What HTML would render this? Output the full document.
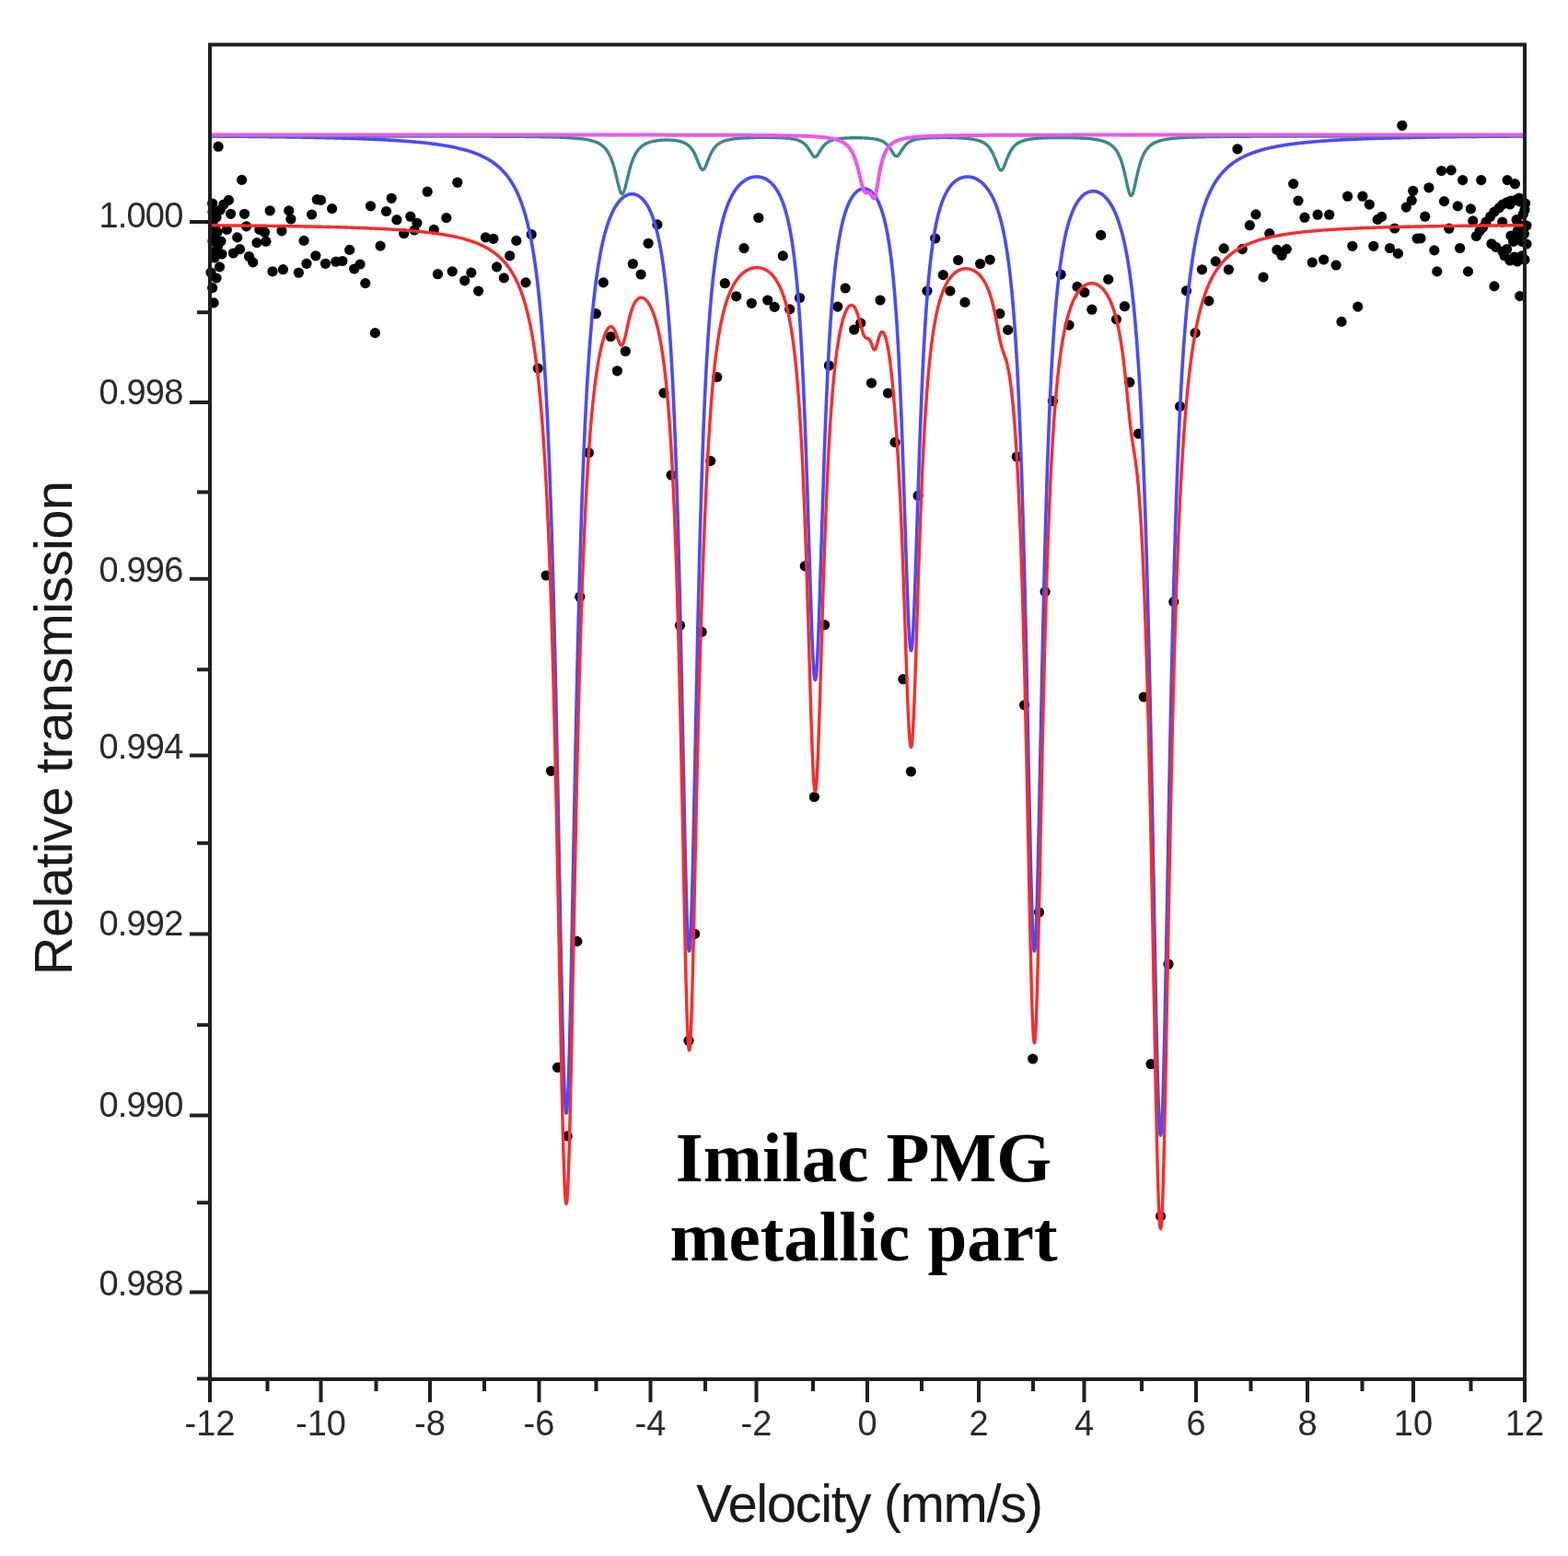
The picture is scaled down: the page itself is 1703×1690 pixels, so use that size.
<!DOCTYPE html>
<html><head><meta charset="utf-8"><title>Imilac PMG metallic part</title>
<style>html,body{margin:0;padding:0;background:#fff;width:1703px;height:1690px;overflow:hidden}svg{display:block}</style>
</head><body>
<svg width="1703" height="1690" viewBox="0 0 1703 1690"><rect width="1703" height="1690" fill="#fff"/><path d="M206,240.9 H228 M206,437.0 H228 M206,628.7 H228 M206,820.5 H228 M206,1014.5 H228 M206,1211.5 H228 M206,1403.5 H228 M214,339.2 H228 M214,534.6 H228 M214,727.3 H228 M214,915.7 H228 M214,1113.3 H228 M214,1306.2 H228 M214,1497.6 H228 M228,1498 V1523 M348.5,1498 V1523 M467,1498 V1523 M585.5,1498 V1523 M706.5,1498 V1523 M821.5,1498 V1523 M942,1498 V1523 M1063,1498 V1523 M1177.5,1498 V1523 M1299,1498 V1523 M1420,1498 V1523 M1535,1498 V1523 M1656,1498 V1523 M290.5,1498 V1511 M408.5,1498 V1511 M526,1498 V1511 M647.5,1498 V1511 M766,1498 V1511 M883,1498 V1511 M1001,1498 V1511 M1122,1498 V1511 M1240,1498 V1511 M1358.5,1498 V1511 M1479.5,1498 V1511 M1597.5,1498 V1511" stroke="#1e1e1e" stroke-width="4" fill="none"/><text x="198.5" y="247.3" text-anchor="end" style="font-family:&quot;Liberation Sans&quot;,Arial,sans-serif;font-size:38px;fill:#2a2a2a;letter-spacing:-0.8px">1.000</text><text x="198.5" y="439.2" text-anchor="end" style="font-family:&quot;Liberation Sans&quot;,Arial,sans-serif;font-size:38px;fill:#2a2a2a;letter-spacing:-0.8px">0.998</text><text x="198.5" y="631.5" text-anchor="end" style="font-family:&quot;Liberation Sans&quot;,Arial,sans-serif;font-size:38px;fill:#2a2a2a;letter-spacing:-0.8px">0.996</text><text x="198.5" y="824.4" text-anchor="end" style="font-family:&quot;Liberation Sans&quot;,Arial,sans-serif;font-size:38px;fill:#2a2a2a;letter-spacing:-0.8px">0.994</text><text x="198.5" y="1016.3" text-anchor="end" style="font-family:&quot;Liberation Sans&quot;,Arial,sans-serif;font-size:38px;fill:#2a2a2a;letter-spacing:-0.8px">0.992</text><text x="198.5" y="1213.2" text-anchor="end" style="font-family:&quot;Liberation Sans&quot;,Arial,sans-serif;font-size:38px;fill:#2a2a2a;letter-spacing:-0.8px">0.990</text><text x="198.5" y="1406.9" text-anchor="end" style="font-family:&quot;Liberation Sans&quot;,Arial,sans-serif;font-size:38px;fill:#2a2a2a;letter-spacing:-0.8px">0.988</text><text x="228.0" y="1559" text-anchor="middle" style="font-family:&quot;Liberation Sans&quot;,Arial,sans-serif;font-size:38px;fill:#2a2a2a">-12</text><text x="348.5" y="1559" text-anchor="middle" style="font-family:&quot;Liberation Sans&quot;,Arial,sans-serif;font-size:38px;fill:#2a2a2a">-10</text><text x="467.0" y="1559" text-anchor="middle" style="font-family:&quot;Liberation Sans&quot;,Arial,sans-serif;font-size:38px;fill:#2a2a2a">-8</text><text x="585.5" y="1559" text-anchor="middle" style="font-family:&quot;Liberation Sans&quot;,Arial,sans-serif;font-size:38px;fill:#2a2a2a">-6</text><text x="706.5" y="1559" text-anchor="middle" style="font-family:&quot;Liberation Sans&quot;,Arial,sans-serif;font-size:38px;fill:#2a2a2a">-4</text><text x="821.5" y="1559" text-anchor="middle" style="font-family:&quot;Liberation Sans&quot;,Arial,sans-serif;font-size:38px;fill:#2a2a2a">-2</text><text x="942.0" y="1559" text-anchor="middle" style="font-family:&quot;Liberation Sans&quot;,Arial,sans-serif;font-size:38px;fill:#2a2a2a">0</text><text x="1063.0" y="1559" text-anchor="middle" style="font-family:&quot;Liberation Sans&quot;,Arial,sans-serif;font-size:38px;fill:#2a2a2a">2</text><text x="1177.5" y="1559" text-anchor="middle" style="font-family:&quot;Liberation Sans&quot;,Arial,sans-serif;font-size:38px;fill:#2a2a2a">4</text><text x="1299.0" y="1559" text-anchor="middle" style="font-family:&quot;Liberation Sans&quot;,Arial,sans-serif;font-size:38px;fill:#2a2a2a">6</text><text x="1420.0" y="1559" text-anchor="middle" style="font-family:&quot;Liberation Sans&quot;,Arial,sans-serif;font-size:38px;fill:#2a2a2a">8</text><text x="1535.0" y="1559" text-anchor="middle" style="font-family:&quot;Liberation Sans&quot;,Arial,sans-serif;font-size:38px;fill:#2a2a2a">10</text><text x="1656.0" y="1559" text-anchor="middle" style="font-family:&quot;Liberation Sans&quot;,Arial,sans-serif;font-size:38px;fill:#2a2a2a">12</text><text x="944" y="1653" text-anchor="middle" style="font-family:&quot;Liberation Sans&quot;,Arial,sans-serif;font-size:58px;letter-spacing:-1.4px;fill:#1a1a1a">Velocity (mm/s)</text><text transform="translate(77.5,791) rotate(-90)" text-anchor="middle" style="font-family:&quot;Liberation Sans&quot;,Arial,sans-serif;font-size:58px;letter-spacing:-0.7px;fill:#1a1a1a">Relative transmission</text><g fill="#000"><circle cx="237.1" cy="159.2" r="5.6"/><circle cx="262.6" cy="195.4" r="5.6"/><circle cx="248.4" cy="217.4" r="5.6"/><circle cx="230.7" cy="221.0" r="5.6"/><circle cx="239.2" cy="228.0" r="5.6"/><circle cx="250.6" cy="232.3" r="5.6"/><circle cx="265.5" cy="232.3" r="5.6"/><circle cx="293.2" cy="228.8" r="5.6"/><circle cx="313.8" cy="228.8" r="5.6"/><circle cx="315.9" cy="238.0" r="5.6"/><circle cx="338.6" cy="233.0" r="5.6"/><circle cx="344.3" cy="216.7" r="5.6"/><circle cx="246.3" cy="249.4" r="5.6"/><circle cx="233.5" cy="248.0" r="5.6"/><circle cx="267.6" cy="245.8" r="5.6"/><circle cx="281.8" cy="249.4" r="5.6"/><circle cx="287.5" cy="252.2" r="5.6"/><circle cx="306.0" cy="250.8" r="5.6"/><circle cx="257.7" cy="257.9" r="5.6"/><circle cx="232.1" cy="257.9" r="5.6"/><circle cx="236.4" cy="267.8" r="5.6"/><circle cx="232.1" cy="273.5" r="5.6"/><circle cx="279.0" cy="263.6" r="5.6"/><circle cx="288.9" cy="262.2" r="5.6"/><circle cx="330.1" cy="261.4" r="5.6"/><circle cx="253.4" cy="275.0" r="5.6"/><circle cx="260.5" cy="270.7" r="5.6"/><circle cx="270.5" cy="278.5" r="5.6"/><circle cx="274.7" cy="284.9" r="5.6"/><circle cx="238.5" cy="289.9" r="5.6"/><circle cx="296.0" cy="294.8" r="5.6"/><circle cx="307.4" cy="292.7" r="5.6"/><circle cx="324.4" cy="296.2" r="5.6"/><circle cx="333.0" cy="286.3" r="5.6"/><circle cx="342.9" cy="277.8" r="5.6"/><circle cx="230.7" cy="312.6" r="5.6"/><circle cx="232.1" cy="328.9" r="5.6"/><circle cx="348.5" cy="217.4" r="5.6"/><circle cx="360.6" cy="226.6" r="5.6"/><circle cx="402.5" cy="223.8" r="5.6"/><circle cx="425.2" cy="215.3" r="5.6"/><circle cx="419.5" cy="229.5" r="5.6"/><circle cx="430.9" cy="238.7" r="5.6"/><circle cx="445.8" cy="235.2" r="5.6"/><circle cx="452.9" cy="242.3" r="5.6"/><circle cx="438.7" cy="253.6" r="5.6"/><circle cx="450.0" cy="250.0" r="5.6"/><circle cx="353.5" cy="286.3" r="5.6"/><circle cx="364.8" cy="284.2" r="5.6"/><circle cx="371.9" cy="283.5" r="5.6"/><circle cx="379.7" cy="271.4" r="5.6"/><circle cx="384.7" cy="292.0" r="5.6"/><circle cx="391.1" cy="287.0" r="5.6"/><circle cx="396.8" cy="307.6" r="5.6"/><circle cx="413.1" cy="267.1" r="5.6"/><circle cx="407.4" cy="361.6" r="5.6"/><circle cx="464.2" cy="208.2" r="5.6"/><circle cx="496.8" cy="198.2" r="5.6"/><circle cx="471.3" cy="249.4" r="5.6"/><circle cx="484.8" cy="236.6" r="5.6"/><circle cx="527.4" cy="257.9" r="5.6"/><circle cx="535.9" cy="259.3" r="5.6"/><circle cx="560.8" cy="261.4" r="5.6"/><circle cx="553.7" cy="277.8" r="5.6"/><circle cx="539.5" cy="289.9" r="5.6"/><circle cx="547.3" cy="301.9" r="5.6"/><circle cx="475.5" cy="297.7" r="5.6"/><circle cx="491.2" cy="294.8" r="5.6"/><circle cx="504.7" cy="304.8" r="5.6"/><circle cx="511.8" cy="296.2" r="5.6"/><circle cx="519.6" cy="316.1" r="5.6"/><circle cx="577.2" cy="254.6" r="5.6"/><circle cx="571.0" cy="306.9" r="5.6"/><circle cx="584.3" cy="400.1" r="5.6"/><circle cx="713.9" cy="243.9" r="5.6"/><circle cx="704.1" cy="264.3" r="5.6"/><circle cx="687.3" cy="286.5" r="5.6"/><circle cx="696.1" cy="298.0" r="5.6"/><circle cx="655.3" cy="306.9" r="5.6"/><circle cx="647.3" cy="340.7" r="5.6"/><circle cx="663.3" cy="365.5" r="5.6"/><circle cx="679.3" cy="381.5" r="5.6"/><circle cx="670.4" cy="402.8" r="5.6"/><circle cx="721.0" cy="426.8" r="5.6"/><circle cx="639.4" cy="491.7" r="5.6"/><circle cx="593.1" cy="625.0" r="5.6"/><circle cx="629.8" cy="648.2" r="5.6"/><circle cx="598.5" cy="837.3" r="5.6"/><circle cx="626.8" cy="1022.4" r="5.6"/><circle cx="605.6" cy="1159.4" r="5.6"/><circle cx="616.2" cy="1233.9" r="5.6"/><circle cx="778.8" cy="409.5" r="5.6"/><circle cx="729.1" cy="516.0" r="5.6"/><circle cx="771.7" cy="500.6" r="5.6"/><circle cx="738.5" cy="679.3" r="5.6"/><circle cx="762.2" cy="686.4" r="5.6"/><circle cx="754.6" cy="1014.3" r="5.6"/><circle cx="748.0" cy="1130.3" r="5.6"/><circle cx="823.8" cy="236.5" r="5.6"/><circle cx="808.0" cy="269.6" r="5.6"/><circle cx="850.3" cy="277.9" r="5.6"/><circle cx="787.3" cy="307.7" r="5.6"/><circle cx="799.7" cy="321.8" r="5.6"/><circle cx="816.3" cy="329.3" r="5.6"/><circle cx="833.7" cy="326.0" r="5.6"/><circle cx="841.2" cy="333.4" r="5.6"/><circle cx="868.5" cy="323.5" r="5.6"/><circle cx="857.7" cy="335.9" r="5.6"/><circle cx="918.1" cy="313.0" r="5.6"/><circle cx="909.8" cy="333.1" r="5.6"/><circle cx="956.0" cy="326.0" r="5.6"/><circle cx="934.7" cy="350.9" r="5.6"/><circle cx="927.6" cy="358.0" r="5.6"/><circle cx="900.4" cy="397.0" r="5.6"/><circle cx="946.5" cy="416.0" r="5.6"/><circle cx="964.5" cy="427.0" r="5.6"/><circle cx="874.3" cy="614.8" r="5.6"/><circle cx="895.6" cy="678.7" r="5.6"/><circle cx="884.4" cy="865.5" r="5.6"/><circle cx="972.1" cy="480.4" r="5.6"/><circle cx="997.1" cy="538.4" r="5.6"/><circle cx="1007.0" cy="316.0" r="5.6"/><circle cx="1024.4" cy="298.6" r="5.6"/><circle cx="1031.9" cy="316.0" r="5.6"/><circle cx="1040.6" cy="282.5" r="5.6"/><circle cx="1048.0" cy="328.4" r="5.6"/><circle cx="980.9" cy="737.7" r="5.6"/><circle cx="989.4" cy="838.0" r="5.6"/><circle cx="1015.7" cy="259.0" r="5.6"/><circle cx="1064.6" cy="286.5" r="5.6"/><circle cx="1075.2" cy="282.1" r="5.6"/><circle cx="1085.9" cy="340.7" r="5.6"/><circle cx="1094.7" cy="358.4" r="5.6"/><circle cx="1104.3" cy="496.0" r="5.6"/><circle cx="1143.4" cy="435.6" r="5.6"/><circle cx="1135.1" cy="642.7" r="5.6"/><circle cx="1112.6" cy="765.8" r="5.6"/><circle cx="1128.5" cy="990.8" r="5.6"/><circle cx="1121.7" cy="1150.0" r="5.6"/><circle cx="1195.7" cy="255.4" r="5.6"/><circle cx="1152.2" cy="298.1" r="5.6"/><circle cx="1203.7" cy="303.4" r="5.6"/><circle cx="1170.0" cy="311.4" r="5.6"/><circle cx="1177.9" cy="317.6" r="5.6"/><circle cx="1185.9" cy="336.2" r="5.6"/><circle cx="1221.4" cy="332.7" r="5.6"/><circle cx="1161.1" cy="353.1" r="5.6"/><circle cx="1212.5" cy="346.9" r="5.6"/><circle cx="1226.8" cy="415.2" r="5.6"/><circle cx="1236.5" cy="471.1" r="5.6"/><circle cx="1281.6" cy="441.4" r="5.6"/><circle cx="1274.8" cy="653.6" r="5.6"/><circle cx="1242.2" cy="757.0" r="5.6"/><circle cx="1250.0" cy="1155.7" r="5.6"/><circle cx="1260.6" cy="1320.9" r="5.6"/><circle cx="1269.0" cy="1047.3" r="5.6"/><circle cx="1344.0" cy="161.8" r="5.6"/><circle cx="1404.7" cy="199.6" r="5.6"/><circle cx="1364.0" cy="232.9" r="5.6"/><circle cx="1357.3" cy="244.7" r="5.6"/><circle cx="1378.8" cy="253.6" r="5.6"/><circle cx="1329.2" cy="269.9" r="5.6"/><circle cx="1349.2" cy="270.6" r="5.6"/><circle cx="1386.9" cy="271.4" r="5.6"/><circle cx="1397.3" cy="270.6" r="5.6"/><circle cx="1392.1" cy="277.3" r="5.6"/><circle cx="1320.3" cy="283.9" r="5.6"/><circle cx="1305.5" cy="292.8" r="5.6"/><circle cx="1334.4" cy="292.8" r="5.6"/><circle cx="1372.1" cy="301.0" r="5.6"/><circle cx="1288.5" cy="315.8" r="5.6"/><circle cx="1312.9" cy="326.9" r="5.6"/><circle cx="1298.1" cy="361.6" r="5.6"/><circle cx="1522.8" cy="136.3" r="5.6"/><circle cx="1410.0" cy="218.0" r="5.6"/><circle cx="1417.0" cy="236.2" r="5.6"/><circle cx="1431.1" cy="233.2" r="5.6"/><circle cx="1443.7" cy="233.2" r="5.6"/><circle cx="1463.6" cy="213.2" r="5.6"/><circle cx="1479.9" cy="213.2" r="5.6"/><circle cx="1487.3" cy="222.1" r="5.6"/><circle cx="1500.6" cy="235.4" r="5.6"/><circle cx="1496.2" cy="238.4" r="5.6"/><circle cx="1514.7" cy="248.0" r="5.6"/><circle cx="1534.7" cy="207.3" r="5.6"/><circle cx="1527.3" cy="225.1" r="5.6"/><circle cx="1533.2" cy="217.7" r="5.6"/><circle cx="1539.1" cy="259.1" r="5.6"/><circle cx="1425.2" cy="285.0" r="5.6"/><circle cx="1437.7" cy="282.0" r="5.6"/><circle cx="1451.1" cy="288.0" r="5.6"/><circle cx="1468.8" cy="267.3" r="5.6"/><circle cx="1491.8" cy="267.3" r="5.6"/><circle cx="1509.5" cy="269.5" r="5.6"/><circle cx="1518.4" cy="275.4" r="5.6"/><circle cx="1474.7" cy="333.1" r="5.6"/><circle cx="1457.0" cy="349.4" r="5.6"/><circle cx="1565.5" cy="185.5" r="5.6"/><circle cx="1576.1" cy="184.9" r="5.6"/><circle cx="1588.6" cy="195.6" r="5.6"/><circle cx="1608.7" cy="195.6" r="5.6"/><circle cx="1637.1" cy="195.6" r="5.6"/><circle cx="1645.4" cy="199.7" r="5.6"/><circle cx="1551.9" cy="203.8" r="5.6"/><circle cx="1568.5" cy="218.6" r="5.6"/><circle cx="1583.2" cy="223.9" r="5.6"/><circle cx="1597.4" cy="226.9" r="5.6"/><circle cx="1547.7" cy="235.2" r="5.6"/><circle cx="1573.8" cy="248.2" r="5.6"/><circle cx="1599.8" cy="239.9" r="5.6"/><circle cx="1603.4" cy="256.5" r="5.6"/><circle cx="1610.5" cy="247.0" r="5.6"/><circle cx="1618.7" cy="235.2" r="5.6"/><circle cx="1628.2" cy="225.7" r="5.6"/><circle cx="1636.5" cy="219.8" r="5.6"/><circle cx="1646.0" cy="217.4" r="5.6"/><circle cx="1656.6" cy="221.0" r="5.6"/><circle cx="1654.2" cy="232.8" r="5.6"/><circle cx="1647.1" cy="238.7" r="5.6"/><circle cx="1631.7" cy="241.1" r="5.6"/><circle cx="1648.3" cy="250.6" r="5.6"/><circle cx="1655.4" cy="254.1" r="5.6"/><circle cx="1643.6" cy="262.4" r="5.6"/><circle cx="1636.5" cy="270.7" r="5.6"/><circle cx="1653.0" cy="262.4" r="5.6"/><circle cx="1634.1" cy="277.8" r="5.6"/><circle cx="1644.8" cy="279.0" r="5.6"/><circle cx="1653.0" cy="277.8" r="5.6"/><circle cx="1619.9" cy="264.8" r="5.6"/><circle cx="1624.7" cy="268.3" r="5.6"/><circle cx="1543.0" cy="258.8" r="5.6"/><circle cx="1557.8" cy="271.9" r="5.6"/><circle cx="1585.6" cy="269.5" r="5.6"/><circle cx="1560.8" cy="294.9" r="5.6"/><circle cx="1594.5" cy="294.9" r="5.6"/><circle cx="1622.9" cy="310.9" r="5.6"/><circle cx="1650.7" cy="321.6" r="5.6"/><circle cx="1640.0" cy="222.0" r="5.6"/><circle cx="1650.0" cy="215.0" r="5.6"/><circle cx="1656.0" cy="228.0" r="5.6"/><circle cx="1652.0" cy="245.0" r="5.6"/><circle cx="1658.0" cy="245.0" r="5.6"/><circle cx="1641.0" cy="256.0" r="5.6"/><circle cx="1650.0" cy="258.0" r="5.6"/><circle cx="1658.0" cy="265.0" r="5.6"/><circle cx="1632.0" cy="273.0" r="5.6"/><circle cx="1640.0" cy="283.0" r="5.6"/><circle cx="1648.0" cy="284.0" r="5.6"/><circle cx="1656.0" cy="282.0" r="5.6"/><circle cx="1607.0" cy="251.0" r="5.6"/><circle cx="1614.0" cy="241.0" r="5.6"/><circle cx="1623.0" cy="230.0" r="5.6"/><circle cx="1632.0" cy="222.0" r="5.6"/><circle cx="1641.0" cy="218.0" r="5.6"/><circle cx="1651.0" cy="219.0" r="5.6"/><circle cx="231.0" cy="230.0" r="5.6"/><circle cx="235.0" cy="236.0" r="5.6"/><circle cx="243.0" cy="222.0" r="5.6"/><circle cx="231.0" cy="242.0" r="5.6"/><circle cx="236.0" cy="252.0" r="5.6"/><circle cx="231.0" cy="262.0" r="5.6"/><circle cx="240.0" cy="262.0" r="5.6"/><circle cx="233.0" cy="280.0" r="5.6"/><circle cx="241.0" cy="276.0" r="5.6"/><circle cx="229.0" cy="296.0" r="5.6"/><circle cx="235.0" cy="302.0" r="5.6"/></g><path d="M229.50,148.02 L230.50,148.02 L231.50,148.03 L232.50,148.04 L233.50,148.04 L234.50,148.05 L235.50,148.06 L236.50,148.06 L237.50,148.07 L238.50,148.08 L239.50,148.08 L240.50,148.09 L241.50,148.10 L242.50,148.11 L243.50,148.11 L244.50,148.12 L245.50,148.13 L246.50,148.14 L247.50,148.14 L248.50,148.15 L249.50,148.16 L250.50,148.17 L251.50,148.17 L252.50,148.18 L253.50,148.19 L254.50,148.20 L255.50,148.21 L256.50,148.22 L257.50,148.22 L258.50,148.23 L259.50,148.24 L260.50,148.25 L261.50,148.26 L262.50,148.27 L263.50,148.28 L264.50,148.29 L265.50,148.29 L266.50,148.30 L267.50,148.31 L268.50,148.32 L269.50,148.33 L270.50,148.34 L271.50,148.35 L272.50,148.36 L273.50,148.37 L274.50,148.38 L275.50,148.39 L276.50,148.40 L277.50,148.41 L278.50,148.42 L279.50,148.43 L280.50,148.44 L281.50,148.45 L282.50,148.46 L283.50,148.47 L284.50,148.48 L285.50,148.50 L286.50,148.51 L287.50,148.52 L288.50,148.53 L289.50,148.54 L290.50,148.55 L291.50,148.56 L292.50,148.58 L293.50,148.59 L294.50,148.60 L295.50,148.61 L296.50,148.62 L297.50,148.64 L298.50,148.65 L299.50,148.66 L300.50,148.67 L301.50,148.69 L302.50,148.70 L303.50,148.71 L304.50,148.73 L305.50,148.74 L306.50,148.75 L307.50,148.77 L308.50,148.78 L309.50,148.80 L310.50,148.81 L311.50,148.83 L312.50,148.84 L313.50,148.85 L314.50,148.87 L315.50,148.88 L316.50,148.90 L317.50,148.91 L318.50,148.93 L319.50,148.95 L320.50,148.96 L321.50,148.98 L322.50,148.99 L323.50,149.01 L324.50,149.03 L325.50,149.04 L326.50,149.06 L327.50,149.08 L328.50,149.09 L329.50,149.11 L330.50,149.13 L331.50,149.15 L332.50,149.17 L333.50,149.18 L334.50,149.20 L335.50,149.22 L336.50,149.24 L337.50,149.26 L338.50,149.28 L339.50,149.30 L340.50,149.32 L341.50,149.34 L342.50,149.36 L343.50,149.38 L344.50,149.40 L345.50,149.42 L346.50,149.44 L347.50,149.46 L348.50,149.48 L349.50,149.50 L350.50,149.53 L351.50,149.55 L352.50,149.57 L353.50,149.59 L354.50,149.62 L355.50,149.64 L356.50,149.66 L357.50,149.69 L358.50,149.71 L359.50,149.74 L360.50,149.76 L361.50,149.79 L362.50,149.81 L363.50,149.84 L364.50,149.86 L365.50,149.89 L366.50,149.92 L367.50,149.94 L368.50,149.97 L369.50,150.00 L370.50,150.03 L371.50,150.05 L372.50,150.08 L373.50,150.11 L374.50,150.14 L375.50,150.17 L376.50,150.20 L377.50,150.23 L378.50,150.26 L379.50,150.29 L380.50,150.32 L381.50,150.36 L382.50,150.39 L383.50,150.42 L384.50,150.46 L385.50,150.49 L386.50,150.52 L387.50,150.56 L388.50,150.59 L389.50,150.63 L390.50,150.66 L391.50,150.70 L392.50,150.74 L393.50,150.77 L394.50,150.81 L395.50,150.85 L396.50,150.89 L397.50,150.93 L398.50,150.97 L399.50,151.01 L400.50,151.05 L401.50,151.09 L402.50,151.13 L403.50,151.18 L404.50,151.22 L405.50,151.26 L406.50,151.31 L407.50,151.35 L408.50,151.40 L409.50,151.45 L410.50,151.49 L411.50,151.54 L412.50,151.59 L413.50,151.64 L414.50,151.69 L415.50,151.74 L416.50,151.79 L417.50,151.84 L418.50,151.90 L419.50,151.95 L420.50,152.00 L421.50,152.06 L422.50,152.12 L423.50,152.17 L424.50,152.23 L425.50,152.29 L426.50,152.35 L427.50,152.41 L428.50,152.47 L429.50,152.53 L430.50,152.60 L431.50,152.66 L432.50,152.73 L433.50,152.79 L434.50,152.86 L435.50,152.93 L436.50,153.00 L437.50,153.07 L438.50,153.14 L439.50,153.22 L440.50,153.29 L441.50,153.37 L442.50,153.44 L443.50,153.52 L444.50,153.60 L445.50,153.68 L446.50,153.76 L447.50,153.85 L448.50,153.93 L449.50,154.02 L450.50,154.11 L451.50,154.20 L452.50,154.29 L453.50,154.38 L454.50,154.48 L455.50,154.57 L456.50,154.67 L457.50,154.77 L458.50,154.87 L459.50,154.97 L460.50,155.08 L461.50,155.19 L462.50,155.30 L463.50,155.41 L464.50,155.52 L465.50,155.64 L466.50,155.75 L467.50,155.87 L468.50,156.00 L469.50,156.12 L470.50,156.25 L471.50,156.38 L472.50,156.51 L473.50,156.65 L474.50,156.78 L475.50,156.93 L476.50,157.07 L477.50,157.22 L478.50,157.37 L479.50,157.52 L480.50,157.67 L481.50,157.83 L482.50,158.00 L483.50,158.16 L484.50,158.33 L485.50,158.51 L486.50,158.68 L487.50,158.87 L488.50,159.05 L489.50,159.24 L490.50,159.44 L491.50,159.64 L492.50,159.84 L493.50,160.05 L494.50,160.26 L495.50,160.48 L496.50,160.70 L497.50,160.93 L498.50,161.17 L499.50,161.41 L500.50,161.65 L501.50,161.91 L502.50,162.16 L503.50,162.43 L504.50,162.70 L505.50,162.98 L506.50,163.27 L507.50,163.56 L508.50,163.87 L509.50,164.18 L510.50,164.50 L511.50,164.82 L512.50,165.16 L513.50,165.51 L514.50,165.86 L515.50,166.23 L516.50,166.61 L517.50,166.99 L518.50,167.39 L519.50,167.81 L520.50,168.23 L521.50,168.67 L522.50,169.12 L523.50,169.58 L524.50,170.06 L525.50,170.55 L526.50,171.06 L527.50,171.59 L528.50,172.14 L529.50,172.70 L530.50,173.28 L531.50,173.88 L532.50,174.50 L533.50,175.14 L534.50,175.81 L535.50,176.50 L536.50,177.22 L537.50,177.96 L538.50,178.73 L539.50,179.52 L540.50,180.35 L541.50,181.21 L542.50,182.10 L543.50,183.03 L544.50,184.00 L545.50,185.00 L546.50,186.05 L547.50,187.14 L548.50,188.28 L549.50,189.46 L550.50,190.70 L551.50,191.99 L552.50,193.34 L553.50,194.75 L554.50,196.23 L555.50,197.77 L556.50,199.39 L557.50,201.09 L558.50,202.87 L559.50,204.74 L560.50,206.71 L561.50,208.78 L562.50,210.95 L563.50,213.24 L564.50,215.66 L565.50,218.21 L566.50,220.91 L567.50,223.75 L568.50,226.77 L569.50,229.96 L570.50,233.35 L571.50,236.94 L572.50,240.77 L573.50,244.83 L574.50,249.16 L575.50,253.78 L576.50,258.71 L577.50,263.98 L578.50,269.62 L579.50,275.67 L580.50,282.16 L581.50,289.13 L582.50,296.64 L583.50,304.73 L584.50,313.46 L585.50,322.90 L586.50,333.12 L587.50,344.19 L588.50,356.22 L589.50,369.29 L590.50,383.52 L591.50,399.04 L592.50,415.97 L593.50,434.46 L594.50,454.69 L595.50,476.83 L596.50,501.05 L597.50,527.57 L598.50,556.58 L599.50,588.28 L600.50,622.85 L601.50,660.43 L602.50,701.12 L603.50,744.89 L604.50,791.62 L605.50,840.97 L606.50,892.37 L607.50,944.96 L608.50,997.49 L609.00,1023.26 L609.25,1035.92 L609.50,1048.39 L609.75,1060.65 L610.00,1072.64 L610.25,1084.36 L610.50,1095.75 L610.75,1106.78 L611.00,1117.42 L611.25,1127.64 L611.50,1137.40 L611.75,1146.66 L612.00,1155.39 L612.25,1163.57 L612.50,1171.15 L612.75,1178.11 L613.00,1184.42 L613.25,1190.06 L613.50,1194.99 L613.75,1199.21 L614.00,1202.69 L614.25,1205.42 L614.50,1207.39 L614.75,1208.58 L615.00,1209.00 L615.25,1208.63 L615.50,1207.49 L615.75,1205.58 L616.00,1202.90 L616.25,1199.47 L616.50,1195.31 L616.75,1190.42 L617.00,1184.84 L617.25,1178.58 L617.50,1171.68 L617.75,1164.15 L618.00,1156.03 L618.25,1147.34 L618.50,1138.13 L618.75,1128.43 L619.00,1118.27 L619.25,1107.68 L619.50,1096.69 L619.75,1085.36 L620.00,1073.70 L620.25,1061.75 L620.50,1049.55 L620.75,1037.13 L621.50,998.86 L622.50,946.54 L623.50,894.17 L624.50,842.99 L625.50,793.85 L626.50,747.34 L627.50,703.79 L628.50,663.33 L629.50,625.97 L630.50,591.62 L631.50,560.15 L632.50,531.37 L633.50,505.08 L634.50,481.09 L635.50,459.19 L636.50,439.20 L637.50,420.95 L638.50,404.26 L639.50,389.00 L640.50,375.02 L641.50,362.21 L642.50,350.45 L643.50,339.64 L644.50,329.69 L645.50,320.52 L646.50,312.07 L647.50,304.27 L648.50,297.05 L649.50,290.37 L650.50,284.19 L651.50,278.45 L652.50,273.12 L653.50,268.17 L654.50,263.58 L655.50,259.30 L656.50,255.31 L657.50,251.60 L658.50,248.14 L659.50,244.92 L660.50,241.92 L661.50,239.12 L662.50,236.51 L663.50,234.07 L664.50,231.81 L665.50,229.70 L666.50,227.73 L667.50,225.91 L668.50,224.21 L669.50,222.64 L669.70,222.34 L669.95,221.97 L670.20,221.61 L670.45,221.26 L670.50,221.19 L670.70,220.91 L670.95,220.57 L671.20,220.23 L671.45,219.91 L671.50,219.84 L671.70,219.59 L671.95,219.27 L672.20,218.97 L672.45,218.67 L672.50,218.61 L672.70,218.37 L672.95,218.09 L673.20,217.81 L673.45,217.53 L673.50,217.48 L673.70,217.26 L673.95,217.00 L674.20,216.74 L674.45,216.49 L674.50,216.44 L674.70,216.25 L674.95,216.01 L675.20,215.77 L675.45,215.55 L675.50,215.50 L675.70,215.33 L675.95,215.11 L676.20,214.90 L676.45,214.69 L676.50,214.65 L676.70,214.50 L676.95,214.30 L677.20,214.11 L677.45,213.93 L677.50,213.89 L677.70,213.75 L677.95,213.58 L678.20,213.41 L678.45,213.25 L678.50,213.22 L678.70,213.10 L678.95,212.95 L679.20,212.80 L679.45,212.66 L679.50,212.63 L679.70,212.52 L679.95,212.39 L680.20,212.27 L680.45,212.15 L680.50,212.12 L680.70,212.03 L680.95,211.92 L681.20,211.82 L681.45,211.72 L681.50,211.70 L682.50,211.35 L683.50,211.08 L684.50,210.89 L685.50,210.78 L686.50,210.74 L687.50,210.79 L688.50,210.91 L689.50,211.11 L690.50,211.40 L691.50,211.77 L692.50,212.22 L693.50,212.77 L694.50,213.40 L695.50,214.13 L696.50,214.96 L697.50,215.89 L698.50,216.92 L699.50,218.07 L700.50,219.34 L701.50,220.74 L702.50,222.27 L703.50,223.94 L704.50,225.77 L705.50,227.75 L706.50,229.91 L707.50,232.26 L708.50,234.82 L709.50,237.59 L710.50,240.60 L711.50,243.86 L712.50,247.41 L713.50,251.27 L714.50,255.46 L715.50,260.02 L716.50,264.98 L717.50,270.39 L718.50,276.29 L719.50,282.74 L720.50,289.79 L721.50,297.51 L722.50,305.98 L723.50,315.29 L724.50,325.52 L725.50,336.79 L726.50,349.23 L727.50,362.98 L728.50,378.18 L729.50,395.03 L730.50,413.71 L731.50,434.44 L732.50,457.45 L733.50,482.97 L734.50,511.26 L735.50,542.54 L736.50,577.01 L737.50,614.79 L738.50,655.89 L739.50,700.11 L740.50,747.00 L741.50,795.76 L742.50,845.13 L742.75,857.37 L743.00,869.51 L743.25,881.51 L743.50,893.34 L743.75,904.96 L744.00,916.33 L744.25,927.42 L744.50,938.17 L744.75,948.55 L745.00,958.51 L745.25,968.01 L745.50,977.02 L745.75,985.48 L746.00,993.36 L746.25,1000.62 L746.50,1007.23 L746.75,1013.14 L747.00,1018.33 L747.25,1022.77 L747.50,1026.43 L747.75,1029.29 L748.00,1031.35 L748.25,1032.58 L748.50,1032.98 L748.75,1032.54 L749.00,1031.27 L749.25,1029.18 L749.50,1026.28 L749.75,1022.58 L750.00,1018.11 L750.25,1012.88 L750.50,1006.93 L750.75,1000.29 L751.00,992.99 L751.25,985.08 L751.50,976.57 L751.75,967.53 L752.00,957.99 L752.25,947.99 L752.50,937.57 L752.75,926.79 L753.00,915.67 L753.25,904.26 L753.50,892.60 L753.75,880.73 L754.00,868.69 L754.25,856.51 L754.50,844.24 L755.50,794.72 L756.50,745.81 L757.30,707.98 L757.50,698.76 L757.55,696.48 L757.80,685.14 L758.05,673.99 L758.30,663.02 L758.50,654.39 L758.55,652.25 L758.80,641.67 L759.05,631.30 L759.30,621.13 L759.50,613.14 L759.55,611.17 L759.80,601.41 L760.05,591.87 L760.30,582.53 L760.50,575.21 L760.55,573.40 L760.80,564.48 L761.05,555.76 L761.30,547.25 L761.50,540.58 L761.55,538.94 L761.80,530.82 L762.05,522.91 L762.30,515.18 L762.50,509.14 L762.55,507.65 L762.80,500.30 L763.05,493.14 L763.30,486.16 L763.50,480.69 L763.55,479.35 L763.80,472.71 L764.05,466.24 L764.30,459.93 L764.50,455.01 L764.55,453.79 L764.80,447.80 L765.05,441.97 L765.30,436.28 L765.50,431.84 L765.55,430.74 L765.80,425.34 L766.05,420.08 L766.30,414.95 L766.50,410.94 L766.55,409.95 L766.80,405.08 L767.05,400.33 L767.30,395.71 L767.50,392.09 L767.55,391.20 L767.80,386.80 L768.05,382.52 L768.30,378.34 L768.50,375.07 L768.55,374.27 L768.80,370.30 L769.05,366.42 L769.50,359.69 L770.50,345.77 L771.50,333.15 L772.50,321.70 L773.50,311.28 L774.50,301.79 L775.50,293.13 L776.50,285.21 L777.50,277.96 L778.50,271.31 L779.50,265.19 L780.50,259.57 L781.50,254.39 L782.50,249.61 L783.50,245.19 L784.50,241.10 L785.50,237.31 L786.50,233.79 L787.50,230.53 L788.50,227.50 L789.50,224.68 L790.50,222.05 L791.50,219.61 L792.50,217.33 L793.50,215.21 L794.50,213.22 L795.50,211.37 L796.50,209.65 L797.50,208.04 L798.50,206.54 L799.50,205.13 L800.50,203.83 L801.50,202.61 L802.50,201.48 L803.50,200.43 L804.50,199.45 L805.50,198.54 L806.50,197.71 L807.50,196.94 L808.50,196.23 L809.50,195.58 L810.50,194.99 L811.50,194.46 L812.50,193.98 L813.50,193.55 L814.50,193.17 L815.50,192.85 L816.50,192.57 L817.50,192.35 L818.50,192.17 L819.50,192.04 L820.50,191.96 L821.50,191.92 L822.50,191.94 L823.50,192.00 L824.50,192.11 L825.50,192.27 L826.50,192.48 L827.50,192.75 L828.50,193.07 L829.50,193.44 L830.50,193.87 L831.50,194.36 L832.50,194.91 L833.50,195.52 L834.50,196.20 L835.50,196.95 L836.50,197.78 L837.50,198.69 L838.50,199.68 L839.50,200.76 L840.50,201.93 L841.50,203.21 L842.50,204.59 L843.50,206.09 L844.50,207.72 L845.50,209.48 L846.50,211.39 L847.50,213.46 L848.50,215.71 L849.50,218.14 L850.50,220.78 L851.50,223.64 L852.50,226.76 L853.50,230.15 L854.50,233.83 L855.50,237.85 L856.50,242.24 L857.50,247.04 L858.50,252.28 L859.50,258.04 L860.50,264.35 L861.50,271.29 L862.50,278.93 L863.50,287.36 L864.50,296.66 L865.50,306.95 L866.50,318.34 L867.50,330.96 L868.50,344.96 L869.50,360.48 L870.50,377.68 L871.50,396.73 L872.50,417.76 L873.50,440.89 L874.50,466.21 L875.50,493.67 L876.50,523.15 L877.50,554.30 L878.50,586.56 L879.20,609.34 L879.37,614.85 L879.45,617.43 L879.50,619.04 L879.62,622.91 L879.70,625.47 L879.87,630.89 L879.95,633.43 L880.12,638.79 L880.20,641.29 L880.37,646.57 L880.45,649.03 L880.50,650.57 L880.62,654.21 L880.70,656.63 L880.87,661.69 L880.95,664.04 L881.12,668.98 L881.20,671.26 L881.37,676.04 L881.45,678.25 L881.50,679.62 L881.62,682.86 L881.70,684.99 L881.87,689.41 L881.95,691.44 L882.12,695.66 L882.20,697.59 L882.37,701.57 L882.45,703.39 L882.50,704.51 L882.62,707.13 L882.70,708.83 L882.87,712.31 L882.95,713.88 L883.12,717.08 L883.20,718.52 L883.37,721.42 L883.45,722.72 L883.50,723.50 L883.62,725.31 L883.70,726.46 L883.87,728.73 L883.95,729.72 L884.12,731.65 L884.20,732.48 L884.37,734.07 L884.45,734.73 L884.50,735.12 L884.62,735.96 L884.70,736.46 L884.87,737.32 L884.95,737.65 L885.12,738.15 L885.20,738.30 L885.37,738.43 L885.45,738.41 L885.50,738.36 L885.62,738.17 L885.70,737.97 L885.87,737.36 L885.95,736.99 L886.12,736.01 L886.20,735.47 L886.37,734.14 L886.45,733.43 L886.50,732.96 L886.62,731.74 L886.70,730.87 L886.87,728.84 L886.95,727.80 L887.12,725.44 L887.20,724.25 L887.37,721.57 L887.45,720.23 L887.50,719.38 L887.62,717.25 L887.70,715.77 L887.87,712.49 L887.95,710.88 L888.12,707.33 L888.20,705.60 L888.37,701.79 L888.45,699.94 L888.50,698.76 L888.62,695.89 L888.70,693.93 L888.87,689.66 L888.95,687.60 L889.12,683.13 L889.20,680.99 L889.37,676.33 L889.45,674.10 L889.50,672.70 L889.62,669.28 L889.70,666.98 L889.87,662.02 L889.95,659.65 L890.12,654.56 L890.20,652.14 L890.37,646.94 L890.45,644.47 L890.50,642.91 L890.62,639.17 L890.70,636.66 L890.87,631.29 L890.95,628.75 L891.12,623.32 L891.50,611.08 L892.50,578.63 L893.50,546.67 L894.50,515.98 L895.50,487.08 L896.50,460.25 L897.50,435.59 L898.50,413.09 L899.50,392.68 L900.50,374.21 L901.50,357.55 L902.50,342.54 L903.50,329.01 L904.50,316.82 L905.50,305.83 L906.50,295.92 L907.50,286.96 L908.50,278.86 L909.50,271.53 L910.50,264.89 L911.50,258.85 L912.50,253.37 L913.50,248.39 L914.50,243.85 L915.50,239.72 L916.50,235.95 L917.50,232.51 L918.50,229.38 L919.50,226.52 L920.50,223.91 L921.50,221.53 L922.50,219.37 L923.50,217.40 L924.50,215.62 L925.50,214.00 L926.50,212.55 L927.50,211.24 L928.50,210.07 L929.50,209.04 L930.50,208.13 L931.50,207.34 L932.50,206.67 L932.70,206.55 L932.95,206.41 L933.20,206.27 L933.45,206.14 L933.50,206.11 L933.70,206.01 L933.95,205.90 L934.20,205.79 L934.45,205.68 L934.50,205.66 L934.70,205.58 L934.95,205.49 L935.20,205.41 L935.45,205.33 L935.50,205.32 L935.70,205.26 L935.95,205.20 L936.20,205.14 L936.45,205.09 L936.50,205.08 L936.70,205.04 L936.95,205.00 L937.20,204.97 L937.45,204.94 L937.50,204.94 L937.70,204.92 L937.95,204.91 L938.20,204.90 L938.45,204.90 L938.50,204.90 L938.70,204.91 L938.95,204.92 L939.20,204.94 L939.45,204.96 L939.50,204.97 L939.70,205.00 L939.95,205.03 L940.20,205.08 L940.45,205.13 L940.50,205.14 L940.70,205.19 L940.95,205.25 L941.20,205.32 L941.45,205.40 L941.50,205.41 L941.70,205.48 L941.95,205.57 L942.20,205.67 L942.45,205.77 L942.50,205.79 L942.70,205.88 L942.95,206.00 L943.20,206.12 L943.45,206.26 L943.50,206.28 L943.70,206.39 L943.95,206.54 L944.05,206.60 L944.20,206.69 L944.30,206.75 L944.45,206.85 L944.50,206.88 L944.55,206.92 L944.80,207.09 L945.05,207.26 L945.30,207.45 L945.50,207.60 L945.55,207.64 L945.80,207.84 L946.05,208.05 L946.30,208.26 L946.50,208.44 L946.55,208.49 L946.80,208.72 L947.05,208.96 L947.30,209.20 L947.50,209.41 L947.55,209.46 L947.80,209.72 L948.05,209.99 L948.30,210.27 L948.50,210.50 L948.55,210.56 L948.80,210.86 L949.05,211.17 L949.30,211.48 L949.50,211.74 L949.55,211.81 L949.80,212.15 L950.05,212.49 L950.30,212.84 L950.50,213.13 L950.55,213.21 L950.80,213.58 L951.05,213.97 L951.30,214.36 L951.50,214.69 L951.55,214.77 L951.80,215.18 L952.05,215.61 L952.30,216.05 L952.50,216.41 L952.55,216.50 L952.80,216.96 L953.05,217.43 L953.30,217.92 L953.50,218.32 L953.55,218.42 L953.80,218.93 L954.05,219.45 L954.30,219.98 L954.50,220.42 L954.55,220.53 L954.80,221.10 L955.05,221.67 L955.30,222.26 L955.50,222.75 L955.55,222.87 L955.80,223.49 L956.50,225.31 L957.50,228.13 L958.50,231.23 L959.50,234.64 L960.50,238.39 L961.50,242.52 L962.50,247.07 L963.50,252.09 L964.50,257.62 L965.50,263.73 L966.50,270.49 L967.50,277.98 L967.70,279.57 L967.95,281.60 L968.20,283.69 L968.45,285.83 L968.50,286.27 L968.70,288.04 L968.95,290.29 L969.20,292.61 L969.45,294.99 L969.50,295.48 L969.70,297.44 L969.95,299.95 L970.20,302.52 L970.45,305.17 L970.50,305.70 L970.70,307.88 L970.95,310.67 L971.20,313.54 L971.45,316.48 L971.50,317.08 L971.70,319.50 L971.95,322.61 L972.20,325.79 L972.45,329.07 L972.50,329.73 L972.70,332.43 L972.95,335.89 L973.20,339.43 L973.45,343.08 L973.50,343.82 L973.70,346.82 L973.95,350.67 L974.20,354.61 L974.45,358.67 L974.50,359.49 L974.70,362.83 L974.95,367.11 L975.20,371.49 L975.45,376.00 L975.50,376.91 L975.70,380.62 L975.95,385.36 L976.20,390.23 L976.45,395.22 L976.50,396.24 L976.70,400.34 L976.95,405.59 L977.20,410.97 L977.45,416.48 L977.50,417.60 L977.70,422.12 L977.95,427.90 L978.20,433.82 L978.45,439.87 L978.50,441.09 L978.70,446.05 L978.95,452.37 L979.20,458.82 L979.45,465.41 L979.50,466.74 L980.50,494.45 L981.50,523.96 L982.50,554.77 L983.50,586.10 L983.75,593.89 L984.00,601.63 L984.25,609.28 L984.50,616.84 L984.75,624.26 L985.00,631.54 L985.25,638.63 L985.50,645.53 L985.75,652.19 L986.00,658.58 L986.25,664.69 L986.50,670.49 L986.75,675.93 L987.00,681.01 L987.25,685.69 L987.50,689.95 L987.75,693.77 L988.00,697.12 L988.25,699.99 L988.50,702.36 L988.75,704.21 L989.00,705.54 L989.25,706.33 L989.50,706.59 L989.75,706.31 L990.00,705.50 L990.25,704.15 L990.50,702.27 L990.75,699.88 L991.00,696.99 L991.25,693.62 L991.50,689.78 L991.75,685.50 L992.00,680.80 L992.25,675.70 L992.50,670.23 L992.75,664.42 L993.00,658.29 L993.25,651.87 L993.50,645.19 L993.75,638.27 L994.00,631.15 L994.25,623.86 L994.50,616.41 L994.75,608.83 L995.00,601.16 L995.25,593.40 L995.50,585.59 L996.50,554.17 L997.50,523.27 L998.50,493.67 L999.50,465.87 L1000.50,440.13 L1001.50,416.53 L1002.50,395.07 L1003.50,375.65 L1004.50,358.13 L1005.50,342.35 L1006.50,328.16 L1007.50,315.39 L1008.50,303.90 L1009.50,293.55 L1010.50,284.22 L1011.50,275.80 L1012.50,268.19 L1013.50,261.29 L1014.50,255.04 L1015.50,249.36 L1016.50,244.19 L1017.50,239.48 L1018.50,235.18 L1019.50,231.25 L1020.50,227.66 L1021.50,224.37 L1022.50,221.35 L1023.50,218.58 L1024.50,216.04 L1025.50,213.70 L1026.50,211.55 L1027.50,209.57 L1028.50,207.75 L1029.50,206.07 L1030.50,204.53 L1031.50,203.12 L1032.50,201.82 L1033.50,200.62 L1034.50,199.53 L1035.50,198.53 L1036.50,197.62 L1037.50,196.79 L1038.50,196.04 L1039.50,195.37 L1040.50,194.76 L1041.50,194.22 L1042.50,193.75 L1043.50,193.33 L1044.50,192.98 L1045.50,192.68 L1046.50,192.44 L1047.50,192.25 L1048.50,192.11 L1049.50,192.03 L1050.50,191.99 L1051.50,192.01 L1052.50,192.07 L1053.50,192.19 L1054.50,192.35 L1055.50,192.57 L1056.50,192.83 L1057.50,193.15 L1058.50,193.52 L1059.50,193.94 L1060.50,194.41 L1061.50,194.94 L1062.50,195.53 L1063.50,196.17 L1064.50,196.88 L1065.50,197.65 L1066.50,198.49 L1067.50,199.40 L1068.50,200.38 L1069.50,201.43 L1070.50,202.57 L1071.50,203.79 L1072.50,205.10 L1073.50,206.51 L1074.50,208.02 L1075.50,209.64 L1076.50,211.38 L1077.50,213.24 L1078.50,215.24 L1079.50,217.38 L1080.50,219.67 L1081.30,221.63 L1081.50,222.14 L1081.55,222.26 L1081.80,222.91 L1082.05,223.57 L1082.30,224.24 L1082.50,224.78 L1082.55,224.92 L1082.80,225.61 L1083.05,226.32 L1083.30,227.04 L1083.50,227.62 L1083.55,227.77 L1083.80,228.52 L1084.05,229.28 L1084.30,230.05 L1084.50,230.68 L1084.55,230.84 L1084.80,231.64 L1085.05,232.46 L1085.30,233.29 L1085.50,233.97 L1085.55,234.14 L1085.80,235.00 L1086.05,235.88 L1086.30,236.78 L1086.50,237.51 L1086.55,237.70 L1086.80,238.63 L1087.05,239.58 L1087.30,240.55 L1087.50,241.33 L1087.55,241.53 L1087.80,242.54 L1088.05,243.56 L1088.30,244.61 L1088.50,245.46 L1088.55,245.67 L1088.80,246.76 L1089.05,247.87 L1089.30,249.00 L1089.50,249.92 L1089.55,250.15 L1089.80,251.33 L1090.05,252.53 L1090.30,253.75 L1090.50,254.74 L1090.55,255.00 L1090.80,256.27 L1091.05,257.57 L1091.30,258.90 L1091.50,259.98 L1091.55,260.25 L1091.80,261.63 L1092.05,263.04 L1092.30,264.48 L1092.50,265.65 L1092.55,265.95 L1092.80,267.45 L1093.05,268.98 L1093.50,271.82 L1094.50,278.54 L1095.50,285.86 L1096.50,293.86 L1097.50,302.62 L1098.50,312.21 L1099.50,322.74 L1100.50,334.32 L1101.50,347.08 L1102.50,361.15 L1103.50,376.71 L1104.50,393.92 L1105.50,412.98 L1106.50,434.12 L1107.50,457.55 L1108.50,483.53 L1109.50,512.29 L1110.50,544.06 L1111.50,579.04 L1112.50,617.32 L1113.50,658.91 L1114.50,703.58 L1115.50,750.86 L1116.50,799.88 L1117.40,844.43 L1117.50,849.35 L1117.65,856.70 L1117.90,868.87 L1118.15,880.90 L1118.40,892.76 L1118.50,897.45 L1118.65,904.41 L1118.90,915.81 L1119.15,926.92 L1119.40,937.70 L1119.50,941.91 L1119.65,948.11 L1119.90,958.10 L1120.15,967.63 L1120.40,976.66 L1120.50,980.12 L1120.65,985.15 L1120.90,993.06 L1121.15,1000.35 L1121.40,1006.98 L1121.50,1009.44 L1121.65,1012.92 L1121.90,1018.14 L1122.15,1022.61 L1122.40,1026.30 L1122.50,1027.55 L1122.65,1029.20 L1122.90,1031.28 L1123.15,1032.55 L1123.40,1032.98 L1123.50,1032.92 L1123.65,1032.58 L1123.90,1031.35 L1124.15,1029.29 L1124.40,1026.43 L1124.50,1025.06 L1124.65,1022.77 L1124.90,1018.33 L1125.15,1013.14 L1125.40,1007.23 L1125.50,1004.68 L1125.65,1000.64 L1125.90,993.38 L1126.15,985.50 L1126.40,977.04 L1126.50,973.51 L1126.65,968.04 L1126.90,958.54 L1127.15,948.58 L1127.40,938.21 L1127.50,933.95 L1127.65,927.46 L1127.90,916.39 L1128.15,905.02 L1128.40,893.40 L1128.50,888.69 L1128.65,881.57 L1128.90,869.57 L1129.15,857.44 L1129.50,840.28 L1130.50,790.90 L1131.50,742.27 L1132.50,695.59 L1133.50,651.64 L1134.50,610.83 L1135.50,573.35 L1136.50,539.16 L1137.50,508.14 L1138.50,480.09 L1139.50,454.78 L1140.50,431.97 L1141.50,411.41 L1142.50,392.87 L1143.50,376.15 L1144.50,361.06 L1145.50,347.41 L1146.50,335.05 L1147.50,323.84 L1148.50,313.66 L1149.50,304.41 L1150.50,295.97 L1151.50,288.28 L1152.50,281.25 L1153.50,274.82 L1154.50,268.93 L1155.50,263.52 L1156.50,258.56 L1157.50,253.99 L1158.50,249.79 L1159.50,245.93 L1160.50,242.36 L1161.50,239.07 L1162.50,236.04 L1163.50,233.24 L1164.50,230.66 L1165.50,228.28 L1166.50,226.08 L1167.50,224.06 L1168.50,222.19 L1169.50,220.48 L1170.50,218.90 L1171.50,217.45 L1172.50,216.13 L1173.50,214.92 L1174.50,213.83 L1175.50,212.83 L1176.50,211.94 L1177.50,211.14 L1178.50,210.43 L1179.50,209.80 L1180.50,209.27 L1181.50,208.81 L1182.50,208.43 L1183.50,208.13 L1184.50,207.90 L1185.50,207.74 L1186.50,207.66 L1187.50,207.65 L1188.50,207.71 L1189.50,207.84 L1190.50,208.05 L1191.50,208.32 L1192.50,208.66 L1193.50,209.08 L1194.50,209.57 L1195.50,210.14 L1196.50,210.78 L1197.50,211.50 L1198.50,212.30 L1199.50,213.19 L1200.50,214.16 L1201.50,215.22 L1202.50,216.37 L1203.50,217.62 L1204.50,218.98 L1205.50,220.44 L1206.50,222.01 L1207.50,223.70 L1208.50,225.52 L1209.50,227.47 L1210.50,229.56 L1211.50,231.80 L1212.50,234.21 L1213.50,236.78 L1214.50,239.53 L1215.50,242.48 L1216.50,245.65 L1217.50,249.03 L1218.50,252.67 L1219.50,256.56 L1220.50,260.74 L1221.50,265.23 L1222.50,270.06 L1222.75,271.32 L1223.00,272.61 L1223.25,273.92 L1223.50,275.25 L1223.75,276.61 L1224.00,277.99 L1224.25,279.40 L1224.50,280.84 L1224.75,282.30 L1225.00,283.79 L1225.25,285.31 L1225.50,286.86 L1225.75,288.43 L1226.00,290.04 L1226.25,291.68 L1226.50,293.35 L1226.75,295.05 L1227.00,296.79 L1227.25,298.56 L1227.50,300.36 L1227.75,302.20 L1228.00,304.08 L1228.25,305.99 L1228.50,307.94 L1228.75,309.93 L1229.00,311.97 L1229.25,314.04 L1229.50,316.15 L1229.75,318.30 L1230.00,320.50 L1230.25,322.75 L1230.50,325.04 L1230.75,327.38 L1231.00,329.76 L1231.25,332.20 L1231.50,334.68 L1231.75,337.22 L1232.00,339.81 L1232.25,342.46 L1232.50,345.16 L1232.75,347.92 L1233.00,350.74 L1233.25,353.62 L1233.50,356.56 L1233.75,359.56 L1234.00,362.63 L1234.25,365.77 L1234.50,368.97 L1235.50,382.51 L1236.50,397.29 L1237.50,413.44 L1238.50,431.12 L1239.50,450.48 L1240.50,471.70 L1241.50,494.97 L1242.50,520.49 L1243.50,548.47 L1244.50,579.13 L1245.50,612.66 L1246.50,649.25 L1247.50,689.03 L1248.50,732.06 L1249.50,778.30 L1250.50,827.51 L1251.50,879.27 L1252.50,932.85 L1253.50,987.18 L1254.50,1040.80 L1254.75,1053.89 L1255.00,1066.79 L1255.25,1079.46 L1255.50,1091.88 L1255.75,1104.01 L1256.00,1115.81 L1256.25,1127.24 L1256.50,1138.27 L1256.75,1148.86 L1257.00,1158.98 L1257.25,1168.59 L1257.50,1177.64 L1257.75,1186.12 L1258.00,1193.98 L1258.25,1201.19 L1258.50,1207.73 L1258.75,1213.57 L1259.00,1218.67 L1259.25,1223.03 L1259.50,1226.62 L1259.75,1229.42 L1260.00,1231.42 L1260.25,1232.62 L1260.50,1233.00 L1260.75,1232.57 L1261.00,1231.32 L1261.25,1229.27 L1261.50,1226.42 L1261.75,1222.79 L1262.00,1218.38 L1262.25,1213.23 L1262.50,1207.34 L1262.75,1200.75 L1263.00,1193.49 L1263.25,1185.58 L1263.50,1177.06 L1263.75,1167.95 L1264.00,1158.30 L1264.25,1148.13 L1264.50,1137.49 L1264.75,1126.41 L1265.00,1114.93 L1265.25,1103.08 L1265.50,1090.90 L1265.75,1078.44 L1266.00,1065.71 L1266.25,1052.76 L1266.50,1039.63 L1267.50,985.81 L1268.50,931.28 L1269.50,877.50 L1270.50,825.54 L1271.50,776.13 L1272.50,729.69 L1273.50,686.45 L1274.50,646.47 L1275.50,609.67 L1276.50,575.93 L1277.50,545.06 L1278.50,516.87 L1279.50,491.13 L1280.50,467.64 L1281.50,446.20 L1282.50,426.62 L1283.50,408.72 L1284.50,392.33 L1285.50,377.32 L1286.50,363.55 L1287.50,350.90 L1288.50,339.26 L1289.50,328.54 L1290.50,318.64 L1291.50,309.50 L1292.50,301.04 L1293.50,293.19 L1294.50,285.91 L1295.50,279.15 L1296.50,272.85 L1297.50,266.97 L1298.50,261.49 L1299.50,256.37 L1300.50,251.58 L1301.50,247.09 L1302.50,242.88 L1303.50,238.92 L1304.50,235.20 L1305.50,231.70 L1306.50,228.40 L1307.50,225.28 L1308.50,222.34 L1309.50,219.56 L1310.50,216.94 L1311.50,214.45 L1312.50,212.09 L1313.50,209.85 L1314.50,207.72 L1315.50,205.70 L1316.50,203.78 L1317.50,201.95 L1318.50,200.21 L1319.50,198.54 L1320.50,196.96 L1321.50,195.45 L1322.50,194.00 L1323.50,192.62 L1324.50,191.30 L1325.50,190.03 L1326.50,188.82 L1327.50,187.66 L1328.50,186.54 L1329.50,185.47 L1330.50,184.45 L1331.50,183.46 L1332.50,182.51 L1333.50,181.60 L1334.50,180.72 L1335.50,179.88 L1336.50,179.07 L1337.50,178.28 L1338.50,177.53 L1339.50,176.80 L1340.50,176.10 L1341.50,175.42 L1342.50,174.77 L1343.50,174.13 L1344.50,173.52 L1345.50,172.93 L1346.50,172.36 L1347.50,171.81 L1348.50,171.27 L1349.50,170.75 L1350.50,170.25 L1351.50,169.77 L1352.50,169.29 L1353.50,168.84 L1354.50,168.39 L1355.50,167.96 L1356.50,167.55 L1357.50,167.14 L1358.50,166.75 L1359.50,166.36 L1360.50,165.99 L1361.50,165.63 L1362.50,165.28 L1363.50,164.94 L1364.50,164.61 L1365.50,164.28 L1366.50,163.97 L1367.50,163.66 L1368.50,163.37 L1369.50,163.08 L1370.50,162.79 L1371.50,162.52 L1372.50,162.25 L1373.50,161.99 L1374.50,161.73 L1375.50,161.48 L1376.50,161.24 L1377.50,161.00 L1378.50,160.77 L1379.50,160.54 L1380.50,160.32 L1381.50,160.11 L1382.50,159.90 L1383.50,159.69 L1384.50,159.49 L1385.50,159.30 L1386.50,159.10 L1387.50,158.92 L1388.50,158.73 L1389.50,158.55 L1390.50,158.38 L1391.50,158.21 L1392.50,158.04 L1393.50,157.87 L1394.50,157.71 L1395.50,157.56 L1396.50,157.40 L1397.50,157.25 L1398.50,157.10 L1399.50,156.96 L1400.50,156.82 L1401.50,156.68 L1402.50,156.54 L1403.50,156.41 L1404.50,156.28 L1405.50,156.15 L1406.50,156.02 L1407.50,155.90 L1408.50,155.78 L1409.50,155.66 L1410.50,155.54 L1411.50,155.43 L1412.50,155.32 L1413.50,155.21 L1414.50,155.10 L1415.50,154.99 L1416.50,154.89 L1417.50,154.79 L1418.50,154.69 L1419.50,154.59 L1420.50,154.49 L1421.50,154.40 L1422.50,154.30 L1423.50,154.21 L1424.50,154.12 L1425.50,154.03 L1426.50,153.95 L1427.50,153.86 L1428.50,153.78 L1429.50,153.69 L1430.50,153.61 L1431.50,153.53 L1432.50,153.45 L1433.50,153.38 L1434.50,153.30 L1435.50,153.23 L1436.50,153.15 L1437.50,153.08 L1438.50,153.01 L1439.50,152.94 L1440.50,152.87 L1441.50,152.80 L1442.50,152.73 L1443.50,152.67 L1444.50,152.60 L1445.50,152.54 L1446.50,152.48 L1447.50,152.42 L1448.50,152.36 L1449.50,152.30 L1450.50,152.24 L1451.50,152.18 L1452.50,152.12 L1453.50,152.06 L1454.50,152.01 L1455.50,151.95 L1456.50,151.90 L1457.50,151.85 L1458.50,151.79 L1459.50,151.74 L1460.50,151.69 L1461.50,151.64 L1462.50,151.59 L1463.50,151.54 L1464.50,151.50 L1465.50,151.45 L1466.50,151.40 L1467.50,151.36 L1468.50,151.31 L1469.50,151.27 L1470.50,151.22 L1471.50,151.18 L1472.50,151.14 L1473.50,151.09 L1474.50,151.05 L1475.50,151.01 L1476.50,150.97 L1477.50,150.93 L1478.50,150.89 L1479.50,150.85 L1480.50,150.81 L1481.50,150.78 L1482.50,150.74 L1483.50,150.70 L1484.50,150.66 L1485.50,150.63 L1486.50,150.59 L1487.50,150.56 L1488.50,150.52 L1489.50,150.49 L1490.50,150.46 L1491.50,150.42 L1492.50,150.39 L1493.50,150.36 L1494.50,150.32 L1495.50,150.29 L1496.50,150.26 L1497.50,150.23 L1498.50,150.20 L1499.50,150.17 L1500.50,150.14 L1501.50,150.11 L1502.50,150.08 L1503.50,150.05 L1504.50,150.03 L1505.50,150.00 L1506.50,149.97 L1507.50,149.94 L1508.50,149.92 L1509.50,149.89 L1510.50,149.86 L1511.50,149.84 L1512.50,149.81 L1513.50,149.79 L1514.50,149.76 L1515.50,149.74 L1516.50,149.71 L1517.50,149.69 L1518.50,149.66 L1519.50,149.64 L1520.50,149.62 L1521.50,149.59 L1522.50,149.57 L1523.50,149.55 L1524.50,149.53 L1525.50,149.50 L1526.50,149.48 L1527.50,149.46 L1528.50,149.44 L1529.50,149.42 L1530.50,149.40 L1531.50,149.38 L1532.50,149.36 L1533.50,149.34 L1534.50,149.32 L1535.50,149.30 L1536.50,149.28 L1537.50,149.26 L1538.50,149.24 L1539.50,149.22 L1540.50,149.20 L1541.50,149.18 L1542.50,149.16 L1543.50,149.15 L1544.50,149.13 L1545.50,149.11 L1546.50,149.09 L1547.50,149.08 L1548.50,149.06 L1549.50,149.04 L1550.50,149.03 L1551.50,149.01 L1552.50,148.99 L1553.50,148.98 L1554.50,148.96 L1555.50,148.94 L1556.50,148.93 L1557.50,148.91 L1558.50,148.90 L1559.50,148.88 L1560.50,148.87 L1561.50,148.85 L1562.50,148.84 L1563.50,148.82 L1564.50,148.81 L1565.50,148.80 L1566.50,148.78 L1567.50,148.77 L1568.50,148.75 L1569.50,148.74 L1570.50,148.73 L1571.50,148.71 L1572.50,148.70 L1573.50,148.69 L1574.50,148.67 L1575.50,148.66 L1576.50,148.65 L1577.50,148.64 L1578.50,148.62 L1579.50,148.61 L1580.50,148.60 L1581.50,148.59 L1582.50,148.57 L1583.50,148.56 L1584.50,148.55 L1585.50,148.54 L1586.50,148.53 L1587.50,148.52 L1588.50,148.51 L1589.50,148.49 L1590.50,148.48 L1591.50,148.47 L1592.50,148.46 L1593.50,148.45 L1594.50,148.44 L1595.50,148.43 L1596.50,148.42 L1597.50,148.41 L1598.50,148.40 L1599.50,148.39 L1600.50,148.38 L1601.50,148.37 L1602.50,148.36 L1603.50,148.35 L1604.50,148.34 L1605.50,148.33 L1606.50,148.32 L1607.50,148.31 L1608.50,148.30 L1609.50,148.29 L1610.50,148.28 L1611.50,148.27 L1612.50,148.27 L1613.50,148.26 L1614.50,148.25 L1615.50,148.24 L1616.50,148.23 L1617.50,148.22 L1618.50,148.21 L1619.50,148.21 L1620.50,148.20 L1621.50,148.19 L1622.50,148.18 L1623.50,148.17 L1624.50,148.17 L1625.50,148.16 L1626.50,148.15 L1627.50,148.14 L1628.50,148.13 L1629.50,148.13 L1630.50,148.12 L1631.50,148.11 L1632.50,148.10 L1633.50,148.10 L1634.50,148.09 L1635.50,148.08 L1636.50,148.08 L1637.50,148.07 L1638.50,148.06 L1639.50,148.06 L1640.50,148.05 L1641.50,148.04 L1642.50,148.04 L1643.50,148.03 L1644.50,148.02 L1645.50,148.02 L1646.50,148.01 L1647.50,148.00 L1648.50,148.00 L1649.50,147.99 L1650.50,147.98 L1651.50,147.98 L1652.50,147.97 L1653.50,147.97 L1654.50,147.96 L1655.00,147.96" stroke="#4a4aff" stroke-width="3.6" fill="none" stroke-linejoin="round"/><path d="M229.50,244.78 L230.50,244.79 L231.50,244.80 L232.50,244.80 L233.50,244.81 L234.50,244.82 L235.50,244.82 L236.50,244.83 L237.50,244.84 L238.50,244.85 L239.50,244.85 L240.50,244.86 L241.50,244.87 L242.50,244.88 L243.50,244.88 L244.50,244.89 L245.50,244.90 L246.50,244.91 L247.50,244.91 L248.50,244.92 L249.50,244.93 L250.50,244.94 L251.50,244.95 L252.50,244.95 L253.50,244.96 L254.50,244.97 L255.50,244.98 L256.50,244.99 L257.50,245.00 L258.50,245.01 L259.50,245.01 L260.50,245.02 L261.50,245.03 L262.50,245.04 L263.50,245.05 L264.50,245.06 L265.50,245.07 L266.50,245.08 L267.50,245.09 L268.50,245.10 L269.50,245.11 L270.50,245.12 L271.50,245.13 L272.50,245.14 L273.50,245.15 L274.50,245.16 L275.50,245.17 L276.50,245.18 L277.50,245.19 L278.50,245.20 L279.50,245.21 L280.50,245.22 L281.50,245.23 L282.50,245.24 L283.50,245.25 L284.50,245.27 L285.50,245.28 L286.50,245.29 L287.50,245.30 L288.50,245.31 L289.50,245.32 L290.50,245.34 L291.50,245.35 L292.50,245.36 L293.50,245.37 L294.50,245.38 L295.50,245.40 L296.50,245.41 L297.50,245.42 L298.50,245.44 L299.50,245.45 L300.50,245.46 L301.50,245.48 L302.50,245.49 L303.50,245.50 L304.50,245.52 L305.50,245.53 L306.50,245.54 L307.50,245.56 L308.50,245.57 L309.50,245.59 L310.50,245.60 L311.50,245.62 L312.50,245.63 L313.50,245.65 L314.50,245.66 L315.50,245.68 L316.50,245.69 L317.50,245.71 L318.50,245.72 L319.50,245.74 L320.50,245.76 L321.50,245.77 L322.50,245.79 L323.50,245.81 L324.50,245.82 L325.50,245.84 L326.50,245.86 L327.50,245.88 L328.50,245.89 L329.50,245.91 L330.50,245.93 L331.50,245.95 L332.50,245.97 L333.50,245.98 L334.50,246.00 L335.50,246.02 L336.50,246.04 L337.50,246.06 L338.50,246.08 L339.50,246.10 L340.50,246.12 L341.50,246.14 L342.50,246.16 L343.50,246.18 L344.50,246.20 L345.50,246.23 L346.50,246.25 L347.50,246.27 L348.50,246.29 L349.50,246.31 L350.50,246.34 L351.50,246.36 L352.50,246.38 L353.50,246.40 L354.50,246.43 L355.50,246.45 L356.50,246.48 L357.50,246.50 L358.50,246.53 L359.50,246.55 L360.50,246.58 L361.50,246.60 L362.50,246.63 L363.50,246.65 L364.50,246.68 L365.50,246.71 L366.50,246.73 L367.50,246.76 L368.50,246.79 L369.50,246.82 L370.50,246.85 L371.50,246.88 L372.50,246.90 L373.50,246.93 L374.50,246.96 L375.50,246.99 L376.50,247.03 L377.50,247.06 L378.50,247.09 L379.50,247.12 L380.50,247.15 L381.50,247.18 L382.50,247.22 L383.50,247.25 L384.50,247.29 L385.50,247.32 L386.50,247.35 L387.50,247.39 L388.50,247.43 L389.50,247.46 L390.50,247.50 L391.50,247.54 L392.50,247.57 L393.50,247.61 L394.50,247.65 L395.50,247.69 L396.50,247.73 L397.50,247.77 L398.50,247.81 L399.50,247.85 L400.50,247.89 L401.50,247.94 L402.50,247.98 L403.50,248.02 L404.50,248.07 L405.50,248.11 L406.50,248.16 L407.50,248.20 L408.50,248.25 L409.50,248.30 L410.50,248.34 L411.50,248.39 L412.50,248.44 L413.50,248.49 L414.50,248.54 L415.50,248.60 L416.50,248.65 L417.50,248.70 L418.50,248.75 L419.50,248.81 L420.50,248.86 L421.50,248.92 L422.50,248.98 L423.50,249.04 L424.50,249.09 L425.50,249.15 L426.50,249.22 L427.50,249.28 L428.50,249.34 L429.50,249.40 L430.50,249.47 L431.50,249.53 L432.50,249.60 L433.50,249.67 L434.50,249.74 L435.50,249.81 L436.50,249.88 L437.50,249.95 L438.50,250.02 L439.50,250.10 L440.50,250.17 L441.50,250.25 L442.50,250.33 L443.50,250.41 L444.50,250.49 L445.50,250.57 L446.50,250.65 L447.50,250.74 L448.50,250.82 L449.50,250.91 L450.50,251.00 L451.50,251.09 L452.50,251.19 L453.50,251.28 L454.50,251.38 L455.50,251.47 L456.50,251.57 L457.50,251.67 L458.50,251.78 L459.50,251.88 L460.50,251.99 L461.50,252.10 L462.50,252.21 L463.50,252.32 L464.50,252.44 L465.50,252.55 L466.50,252.67 L467.50,252.80 L468.50,252.92 L469.50,253.05 L470.50,253.18 L471.50,253.31 L472.50,253.44 L473.50,253.58 L474.50,253.72 L475.50,253.86 L476.50,254.01 L477.50,254.15 L478.50,254.31 L479.50,254.46 L480.50,254.62 L481.50,254.78 L482.50,254.95 L483.50,255.11 L484.50,255.29 L485.50,255.46 L486.50,255.64 L487.50,255.83 L488.50,256.01 L489.50,256.21 L490.50,256.40 L491.50,256.60 L492.50,256.81 L493.50,257.02 L494.50,257.24 L495.50,257.46 L496.50,257.68 L497.50,257.91 L498.50,258.15 L499.50,258.40 L500.50,258.64 L501.50,258.90 L502.50,259.16 L503.50,259.43 L504.50,259.70 L505.50,259.99 L506.50,260.28 L507.50,260.57 L508.50,260.88 L509.50,261.19 L510.50,261.52 L511.50,261.85 L512.50,262.19 L513.50,262.54 L514.50,262.90 L515.50,263.27 L516.50,263.65 L517.50,264.04 L518.50,264.44 L519.50,264.86 L520.50,265.28 L521.50,265.72 L522.50,266.18 L523.50,266.65 L524.50,267.13 L525.50,267.63 L526.50,268.14 L527.50,268.67 L528.50,269.22 L529.50,269.79 L530.50,270.37 L531.50,270.98 L532.50,271.61 L533.50,272.25 L534.50,272.92 L535.50,273.62 L536.50,274.34 L537.50,275.09 L538.50,275.86 L539.50,276.66 L540.50,277.49 L541.50,278.36 L542.50,279.26 L543.50,280.19 L544.50,281.16 L545.50,282.17 L546.50,283.23 L547.50,284.32 L548.50,285.47 L549.50,286.66 L550.50,287.90 L551.50,289.20 L552.50,290.56 L553.50,291.97 L554.50,293.46 L555.50,295.01 L556.50,296.64 L557.50,298.34 L558.50,300.13 L559.50,302.01 L560.50,303.99 L561.50,306.06 L562.50,308.25 L563.50,310.55 L564.50,312.98 L565.50,315.54 L566.50,318.24 L567.50,321.10 L568.50,324.12 L569.50,327.33 L570.50,330.72 L571.50,334.33 L572.50,338.16 L573.50,342.24 L574.50,346.58 L575.50,351.21 L576.50,356.15 L577.50,361.43 L578.50,367.09 L579.50,373.15 L580.50,379.65 L581.50,386.64 L582.50,394.17 L583.50,402.27 L584.50,411.02 L585.50,420.47 L586.50,430.71 L587.50,441.80 L588.50,453.85 L589.50,466.94 L590.50,481.19 L591.50,496.72 L592.50,513.67 L593.50,532.19 L594.50,552.44 L595.50,574.59 L596.50,598.85 L597.50,625.39 L598.50,654.43 L599.50,686.15 L600.50,720.75 L601.50,758.36 L602.50,799.07 L603.50,842.87 L604.50,889.63 L605.50,939.02 L606.50,990.46 L607.50,1043.07 L608.50,1095.64 L609.00,1121.43 L609.25,1134.10 L609.50,1146.59 L609.75,1158.85 L610.00,1170.86 L610.25,1182.58 L610.50,1193.98 L610.75,1205.02 L611.00,1215.68 L611.25,1225.90 L611.50,1235.67 L611.75,1244.95 L612.00,1253.69 L612.25,1261.87 L612.50,1269.47 L612.75,1276.44 L613.00,1282.76 L613.25,1288.41 L613.50,1293.36 L613.75,1297.59 L614.00,1301.08 L614.25,1303.82 L614.50,1305.80 L614.75,1307.01 L615.00,1307.43 L615.25,1307.08 L615.50,1305.96 L615.75,1304.06 L616.00,1301.39 L616.25,1297.98 L616.50,1293.82 L616.75,1288.95 L617.00,1283.38 L617.25,1277.14 L617.50,1270.25 L617.75,1262.73 L618.00,1254.62 L618.25,1245.96 L618.50,1236.76 L618.75,1227.07 L619.00,1216.92 L619.25,1206.35 L619.50,1195.38 L619.75,1184.06 L620.00,1172.42 L620.25,1160.49 L620.50,1148.31 L620.75,1135.90 L621.50,1097.68 L622.50,1045.43 L623.50,993.14 L624.50,942.03 L625.50,892.98 L626.50,846.56 L627.50,803.10 L628.50,762.73 L629.50,725.48 L630.50,691.25 L631.50,659.89 L632.50,631.24 L633.50,605.08 L634.50,581.23 L635.50,559.49 L636.50,539.67 L637.50,521.59 L638.50,505.10 L639.50,490.04 L640.50,476.28 L641.50,463.70 L642.50,452.19 L643.50,441.66 L644.50,432.01 L645.50,423.18 L646.50,415.08 L647.50,407.67 L648.50,400.88 L649.50,394.67 L650.50,389.00 L651.50,383.84 L652.50,379.14 L653.50,374.90 L654.50,371.08 L655.50,367.67 L656.50,364.66 L657.50,362.04 L658.50,359.81 L659.50,357.97 L660.50,356.53 L661.50,355.50 L662.50,354.89 L663.50,354.71 L664.50,355.00 L665.50,355.77 L666.50,357.02 L667.50,358.75 L668.50,360.93 L669.50,363.48 L669.70,364.02 L669.95,364.72 L670.20,365.42 L670.45,366.13 L670.50,366.28 L670.70,366.85 L670.95,367.56 L671.20,368.27 L671.45,368.98 L671.50,369.11 L671.70,369.66 L671.95,370.34 L672.20,370.98 L672.45,371.60 L672.50,371.72 L672.70,372.19 L672.95,372.73 L673.20,373.24 L673.45,373.69 L673.50,373.77 L673.70,374.09 L673.95,374.43 L674.20,374.70 L674.45,374.91 L674.50,374.94 L674.70,375.04 L674.95,375.10 L675.20,375.08 L675.45,374.99 L675.50,374.96 L675.70,374.81 L675.95,374.55 L676.20,374.22 L676.45,373.80 L676.50,373.71 L676.70,373.31 L676.95,372.74 L677.20,372.10 L677.45,371.39 L677.50,371.24 L677.70,370.62 L677.95,369.78 L678.20,368.89 L678.45,367.95 L678.50,367.76 L678.70,366.97 L678.95,365.94 L679.20,364.88 L679.45,363.79 L679.50,363.57 L679.70,362.68 L679.95,361.54 L680.20,360.39 L680.45,359.23 L680.50,359.00 L680.70,358.07 L680.95,356.90 L681.20,355.74 L681.45,354.58 L681.50,354.34 L682.50,349.82 L683.50,345.59 L684.50,341.73 L685.50,338.29 L686.50,335.26 L687.50,332.65 L688.50,330.42 L689.50,328.54 L690.50,326.99 L691.50,325.74 L692.50,324.77 L693.50,324.05 L694.50,323.56 L695.50,323.30 L696.50,323.24 L697.50,323.38 L698.50,323.71 L699.50,324.23 L700.50,324.94 L701.50,325.82 L702.50,326.89 L703.50,328.15 L704.50,329.61 L705.50,331.26 L706.50,333.12 L707.50,335.19 L708.50,337.49 L709.50,340.04 L710.50,342.85 L711.50,345.93 L712.50,349.32 L713.50,353.03 L714.50,357.09 L715.50,361.53 L716.50,366.39 L717.50,371.72 L718.50,377.54 L719.50,383.93 L720.50,390.93 L721.50,398.61 L722.50,407.06 L723.50,416.34 L724.50,426.57 L725.50,437.85 L726.50,450.31 L727.50,464.09 L728.50,479.34 L729.50,496.25 L730.50,515.00 L731.50,535.82 L732.50,558.93 L733.50,584.57 L734.50,613.00 L735.50,644.45 L736.50,679.10 L737.50,717.09 L738.50,758.42 L739.50,802.92 L740.50,850.12 L741.50,899.23 L742.50,948.99 L742.75,961.34 L743.00,973.59 L743.25,985.71 L743.50,997.66 L743.75,1009.40 L744.00,1020.90 L744.25,1032.11 L744.50,1043.00 L744.75,1053.51 L745.00,1063.62 L745.25,1073.27 L745.50,1082.43 L745.75,1091.05 L746.00,1099.10 L746.25,1106.53 L746.50,1113.30 L746.75,1119.40 L747.00,1124.77 L747.25,1129.40 L747.50,1133.26 L747.75,1136.33 L748.00,1138.60 L748.25,1140.05 L748.50,1140.68 L748.75,1140.48 L749.00,1139.45 L749.25,1137.61 L749.50,1134.97 L749.75,1131.54 L750.00,1127.35 L750.25,1122.41 L750.50,1116.76 L750.75,1110.42 L751.00,1103.45 L751.25,1095.86 L751.50,1087.70 L751.75,1079.01 L752.00,1069.83 L752.25,1060.20 L752.50,1050.18 L752.75,1039.79 L753.00,1029.08 L753.25,1018.10 L753.50,1006.88 L753.75,995.47 L754.00,983.90 L754.25,972.20 L754.50,960.42 L755.50,913.02 L756.50,866.43 L757.30,830.57 L757.50,821.86 L757.55,819.70 L757.80,809.01 L758.05,798.49 L758.30,788.17 L758.50,780.04 L758.55,778.03 L758.80,768.09 L759.05,758.34 L759.30,748.79 L759.50,741.28 L759.55,739.43 L759.80,730.26 L760.05,721.28 L760.30,712.49 L760.50,705.58 L760.55,703.88 L760.80,695.44 L761.05,687.18 L761.30,679.08 L761.50,672.72 L761.55,671.15 L761.80,663.37 L762.05,655.74 L762.30,648.25 L762.50,642.36 L762.55,640.90 L762.80,633.69 L763.05,626.60 L763.30,619.64 L763.50,614.16 L763.55,612.81 L763.80,606.08 L764.05,599.47 L764.30,592.98 L764.50,587.86 L764.55,586.59 L764.80,580.31 L765.05,574.14 L765.30,568.07 L765.50,563.29 L765.55,562.10 L765.80,556.24 L766.05,550.49 L766.30,544.84 L766.50,540.39 L766.55,539.29 L766.80,533.84 L767.05,528.50 L767.30,523.27 L767.50,519.15 L767.55,518.14 L767.80,513.11 L768.05,508.18 L768.30,503.36 L768.50,499.58 L768.55,498.64 L768.80,494.03 L769.05,489.51 L769.50,481.64 L770.50,465.27 L771.50,450.38 L772.50,436.87 L773.50,424.62 L774.50,413.50 L775.50,403.41 L776.50,394.23 L777.50,385.88 L778.50,378.26 L779.50,371.30 L780.50,364.92 L781.50,359.08 L782.50,353.71 L783.50,348.77 L784.50,344.22 L785.50,340.02 L786.50,336.13 L787.50,332.54 L788.50,329.20 L789.50,326.11 L790.50,323.24 L791.50,320.58 L792.50,318.10 L793.50,315.79 L794.50,313.64 L795.50,311.64 L796.50,309.77 L797.50,308.03 L798.50,306.41 L799.50,304.90 L800.50,303.50 L801.50,302.19 L802.50,300.97 L803.50,299.84 L804.50,298.79 L805.50,297.82 L806.50,296.92 L807.50,296.10 L808.50,295.34 L809.50,294.64 L810.50,294.01 L811.50,293.43 L812.50,292.92 L813.50,292.46 L814.50,292.05 L815.50,291.70 L816.50,291.40 L817.50,291.15 L818.50,290.95 L819.50,290.80 L820.50,290.71 L821.50,290.66 L822.50,290.66 L823.50,290.72 L824.50,290.82 L825.50,290.98 L826.50,291.19 L827.50,291.45 L828.50,291.77 L829.50,292.15 L830.50,292.59 L831.50,293.08 L832.50,293.64 L833.50,294.27 L834.50,294.97 L835.50,295.74 L836.50,296.58 L837.50,297.51 L838.50,298.53 L839.50,299.63 L840.50,300.84 L841.50,302.14 L842.50,303.57 L843.50,305.11 L844.50,306.78 L845.50,308.59 L846.50,310.55 L847.50,312.68 L848.50,314.98 L849.50,317.48 L850.50,320.19 L851.50,323.13 L852.50,326.33 L853.50,329.81 L854.50,333.60 L855.50,337.73 L856.50,342.24 L857.50,347.17 L858.50,352.56 L859.50,358.47 L860.50,364.96 L861.50,372.10 L862.50,379.95 L863.50,388.62 L864.50,398.19 L865.50,408.78 L866.50,420.51 L867.50,433.51 L868.50,447.94 L869.50,463.95 L870.50,481.70 L871.50,501.38 L872.50,523.13 L873.50,547.10 L874.50,573.36 L875.50,601.90 L876.50,632.61 L877.50,665.14 L878.50,698.92 L879.20,722.85 L879.37,728.64 L879.45,731.36 L879.50,733.06 L879.62,737.13 L879.70,739.83 L879.87,745.54 L879.95,748.22 L880.12,753.87 L880.20,756.51 L880.37,762.08 L880.45,764.68 L880.50,766.30 L880.62,770.16 L880.70,772.71 L880.87,778.06 L880.95,780.55 L881.12,785.77 L881.20,788.20 L881.37,793.26 L881.45,795.60 L881.50,797.05 L881.62,800.49 L881.70,802.75 L881.87,807.44 L881.95,809.60 L882.12,814.07 L882.20,816.12 L882.37,820.36 L882.45,822.29 L882.50,823.48 L882.62,826.27 L882.70,828.08 L882.87,831.78 L882.95,833.46 L883.12,836.86 L883.20,838.39 L883.37,841.49 L883.45,842.87 L883.50,843.70 L883.62,845.63 L883.70,846.85 L883.87,849.27 L883.95,850.32 L884.12,852.38 L884.20,853.27 L884.37,854.96 L884.45,855.66 L884.50,856.07 L884.62,856.97 L884.70,857.50 L884.87,858.42 L884.95,858.76 L885.12,859.29 L885.20,859.45 L885.37,859.58 L885.45,859.55 L885.50,859.50 L885.62,859.29 L885.70,859.08 L885.87,858.42 L885.95,858.02 L886.12,856.97 L886.20,856.39 L886.37,854.96 L886.45,854.20 L886.50,853.69 L886.62,852.39 L886.70,851.45 L886.87,849.28 L886.95,848.18 L887.12,845.65 L887.20,844.39 L887.37,841.53 L887.45,840.10 L887.50,839.19 L887.62,836.92 L887.70,835.35 L887.87,831.86 L887.95,830.15 L888.12,826.37 L888.20,824.53 L888.37,820.48 L888.45,818.52 L888.50,817.27 L888.62,814.23 L888.70,812.15 L888.87,807.63 L888.95,805.45 L889.12,800.72 L889.20,798.45 L889.37,793.53 L889.45,791.17 L889.50,789.69 L889.62,786.09 L889.70,783.66 L889.87,778.42 L889.95,775.93 L890.12,770.57 L890.20,768.02 L890.37,762.55 L890.45,759.95 L890.50,758.32 L890.62,754.39 L890.70,751.75 L890.87,746.12 L890.95,743.45 L891.12,737.76 L891.50,724.94 L892.50,691.05 L893.50,657.79 L894.50,625.97 L895.50,596.08 L896.50,568.41 L897.50,543.04 L898.50,519.96 L899.50,499.06 L900.50,480.21 L901.50,463.24 L902.50,447.98 L903.50,434.28 L904.50,421.98 L905.50,410.93 L906.50,401.01 L907.50,392.09 L908.50,384.09 L909.50,376.89 L910.50,370.43 L911.50,364.63 L912.50,359.44 L913.50,354.79 L914.50,350.65 L915.50,346.98 L916.50,343.74 L917.50,340.91 L918.50,338.46 L919.50,336.39 L920.50,334.68 L921.50,333.32 L922.50,332.32 L923.50,331.68 L924.50,331.41 L925.50,331.52 L926.50,332.03 L927.50,332.97 L928.50,334.36 L929.50,336.22 L930.50,338.56 L931.50,341.38 L932.50,344.64 L932.70,345.34 L932.95,346.23 L933.20,347.14 L933.45,348.07 L933.50,348.26 L933.70,349.01 L933.95,349.97 L934.20,350.93 L934.45,351.90 L934.50,352.09 L934.70,352.86 L934.95,353.83 L935.20,354.78 L935.45,355.73 L935.50,355.92 L935.70,356.66 L935.95,357.57 L936.20,358.45 L936.45,359.31 L936.50,359.47 L936.70,360.13 L936.95,360.91 L937.20,361.66 L937.45,362.36 L937.50,362.49 L937.70,363.01 L937.95,363.61 L938.20,364.17 L938.45,364.67 L938.50,364.76 L938.70,365.12 L938.95,365.52 L939.20,365.87 L939.45,366.17 L939.50,366.22 L939.70,366.42 L939.95,366.63 L940.20,366.81 L940.45,366.95 L940.50,366.98 L940.70,367.06 L940.95,367.15 L941.20,367.23 L941.45,367.29 L941.50,367.30 L941.70,367.34 L941.95,367.40 L942.20,367.46 L942.45,367.53 L942.50,367.55 L942.70,367.62 L942.95,367.74 L943.20,367.88 L943.45,368.06 L943.50,368.10 L943.70,368.27 L943.95,368.52 L944.05,368.63 L944.20,368.81 L944.30,368.94 L944.45,369.15 L944.50,369.22 L944.55,369.30 L944.80,369.70 L945.05,370.15 L945.30,370.64 L945.50,371.07 L945.55,371.18 L945.80,371.75 L946.05,372.37 L946.30,373.01 L946.50,373.54 L946.55,373.67 L946.80,374.36 L947.05,375.05 L947.30,375.73 L947.50,376.27 L947.55,376.41 L947.80,377.05 L948.05,377.67 L948.30,378.23 L948.50,378.63 L948.55,378.73 L948.80,379.16 L949.05,379.50 L949.30,379.76 L949.50,379.89 L949.55,379.91 L949.80,379.95 L950.05,379.89 L950.30,379.71 L950.50,379.49 L950.55,379.42 L950.80,379.03 L951.05,378.53 L951.30,377.94 L951.50,377.41 L951.55,377.27 L951.80,376.51 L952.05,375.70 L952.30,374.83 L952.50,374.11 L952.55,373.93 L952.80,372.99 L953.05,372.04 L953.30,371.09 L953.50,370.33 L953.55,370.14 L953.80,369.20 L954.05,368.29 L954.30,367.41 L954.50,366.73 L954.55,366.57 L954.80,365.76 L955.05,365.01 L955.30,364.31 L955.50,363.78 L955.55,363.66 L955.80,363.06 L956.50,361.72 L957.50,360.62 L958.50,360.49 L959.50,361.29 L960.50,363.00 L961.50,365.57 L962.50,369.01 L963.50,373.30 L964.50,378.48 L965.50,384.57 L966.50,391.62 L967.50,399.65 L967.70,401.38 L967.95,403.60 L968.20,405.88 L968.45,408.23 L968.50,408.70 L968.70,410.64 L968.95,413.11 L969.20,415.66 L969.45,418.26 L969.50,418.79 L969.70,420.93 L969.95,423.66 L970.20,426.46 L970.45,429.31 L970.50,429.89 L970.70,432.23 L970.95,435.21 L971.20,438.26 L971.45,441.36 L971.50,441.99 L971.70,444.52 L971.95,447.74 L972.20,451.02 L972.45,454.36 L972.50,455.04 L972.70,457.76 L972.95,461.22 L973.20,464.74 L973.45,468.33 L973.50,469.05 L973.70,471.98 L973.95,475.70 L974.20,479.48 L974.45,483.34 L974.50,484.12 L974.70,487.28 L974.95,491.30 L975.20,495.40 L975.45,499.58 L975.50,500.43 L975.70,503.86 L975.95,508.24 L976.20,512.72 L976.45,517.31 L976.50,518.24 L976.70,522.00 L976.95,526.81 L977.20,531.74 L977.45,536.79 L977.50,537.82 L977.70,541.97 L977.95,547.28 L978.20,552.72 L978.45,558.29 L978.50,559.42 L978.70,564.00 L978.95,569.85 L979.20,575.83 L979.45,581.95 L979.50,583.19 L980.50,609.11 L981.50,636.97 L982.50,666.29 L983.50,696.30 L983.75,703.78 L984.00,711.22 L984.25,718.58 L984.50,725.86 L984.75,733.01 L985.00,740.03 L985.25,746.87 L985.50,753.51 L985.75,759.94 L986.00,766.10 L986.25,771.99 L986.50,777.56 L986.75,782.80 L987.00,787.68 L987.25,792.16 L987.50,796.23 L987.75,799.86 L988.00,803.03 L988.25,805.73 L988.50,807.93 L988.75,809.62 L989.00,810.79 L989.25,811.43 L989.50,811.54 L989.75,811.12 L990.00,810.16 L990.25,808.67 L990.50,806.66 L990.75,804.15 L991.00,801.13 L991.25,797.64 L991.50,793.68 L991.75,789.29 L992.00,784.47 L992.25,779.27 L992.50,773.69 L992.75,767.78 L993.00,761.54 L993.25,755.03 L993.50,748.25 L993.75,741.25 L994.00,734.04 L994.25,726.66 L994.50,719.12 L994.75,711.46 L995.00,703.71 L995.25,695.87 L995.50,687.98 L996.50,656.28 L997.50,625.11 L998.50,595.28 L999.50,567.26 L1000.50,541.32 L1001.50,517.55 L1002.50,495.92 L1003.50,476.35 L1004.50,458.68 L1005.50,442.77 L1006.50,428.46 L1007.50,415.58 L1008.50,403.99 L1009.50,393.55 L1010.50,384.14 L1011.50,375.63 L1012.50,367.95 L1013.50,360.98 L1014.50,354.66 L1015.50,348.92 L1016.50,343.70 L1017.50,338.94 L1018.50,334.60 L1019.50,330.63 L1020.50,327.00 L1021.50,323.67 L1022.50,320.62 L1023.50,317.83 L1024.50,315.26 L1025.50,312.90 L1026.50,310.73 L1027.50,308.74 L1028.50,306.91 L1029.50,305.23 L1030.50,303.68 L1031.50,302.26 L1032.50,300.96 L1033.50,299.78 L1034.50,298.69 L1035.50,297.70 L1036.50,296.81 L1037.50,295.99 L1038.50,295.27 L1039.50,294.61 L1040.50,294.04 L1041.50,293.53 L1042.50,293.09 L1043.50,292.72 L1044.50,292.41 L1045.50,292.17 L1046.50,291.98 L1047.50,291.86 L1048.50,291.79 L1049.50,291.79 L1050.50,291.84 L1051.50,291.95 L1052.50,292.12 L1053.50,292.35 L1054.50,292.64 L1055.50,292.99 L1056.50,293.41 L1057.50,293.89 L1058.50,294.45 L1059.50,295.07 L1060.50,295.77 L1061.50,296.55 L1062.50,297.42 L1063.50,298.37 L1064.50,299.43 L1065.50,300.58 L1066.50,301.85 L1067.50,303.25 L1068.50,304.78 L1069.50,306.45 L1070.50,308.29 L1071.50,310.31 L1072.50,312.53 L1073.50,314.98 L1074.50,317.67 L1075.50,320.64 L1076.50,323.91 L1077.50,327.51 L1078.50,331.47 L1079.50,335.79 L1080.50,340.48 L1081.30,344.48 L1081.50,345.50 L1081.55,345.76 L1081.80,347.06 L1082.05,348.38 L1082.30,349.71 L1082.50,350.78 L1082.55,351.05 L1082.80,352.40 L1083.05,353.75 L1083.30,355.10 L1083.50,356.19 L1083.55,356.46 L1083.80,357.81 L1084.05,359.16 L1084.30,360.49 L1084.50,361.55 L1084.55,361.81 L1084.80,363.12 L1085.05,364.40 L1085.30,365.67 L1085.50,366.66 L1085.55,366.90 L1085.80,368.11 L1086.05,369.29 L1086.30,370.43 L1086.50,371.32 L1086.55,371.54 L1086.80,372.61 L1087.05,373.64 L1087.30,374.64 L1087.50,375.41 L1087.55,375.60 L1087.80,376.52 L1088.05,377.40 L1088.30,378.25 L1088.50,378.91 L1088.55,379.07 L1088.80,379.86 L1089.05,380.62 L1089.30,381.36 L1089.50,381.94 L1089.55,382.08 L1089.80,382.79 L1090.05,383.48 L1090.30,384.17 L1090.50,384.72 L1090.55,384.85 L1090.80,385.54 L1091.05,386.23 L1091.30,386.94 L1091.50,387.51 L1091.55,387.65 L1091.80,388.39 L1092.05,389.14 L1092.30,389.92 L1092.50,390.56 L1092.55,390.73 L1092.80,391.57 L1093.05,392.44 L1093.50,394.11 L1094.50,398.32 L1095.50,403.33 L1096.50,409.22 L1097.50,416.10 L1098.50,424.03 L1099.50,433.09 L1100.50,443.39 L1101.50,455.02 L1102.50,468.11 L1103.50,482.79 L1104.50,499.24 L1105.50,517.63 L1106.50,538.17 L1107.50,561.07 L1108.50,586.57 L1109.50,614.91 L1110.50,646.31 L1111.50,680.95 L1112.50,718.93 L1113.50,760.24 L1114.50,804.66 L1115.50,851.71 L1116.50,900.53 L1117.40,944.91 L1117.50,949.81 L1117.65,957.14 L1117.90,969.26 L1118.15,981.25 L1118.40,993.07 L1118.50,997.74 L1118.65,1004.68 L1118.90,1016.04 L1119.15,1027.11 L1119.40,1037.85 L1119.50,1042.05 L1119.65,1048.22 L1119.90,1058.17 L1120.15,1067.67 L1120.40,1076.67 L1120.50,1080.12 L1120.65,1085.13 L1120.90,1093.00 L1121.15,1100.26 L1121.40,1106.86 L1121.50,1109.31 L1121.65,1112.77 L1121.90,1117.95 L1122.15,1122.39 L1122.40,1126.05 L1122.50,1127.30 L1122.65,1128.92 L1122.90,1130.98 L1123.15,1132.22 L1123.40,1132.62 L1123.50,1132.55 L1123.65,1132.20 L1123.90,1130.94 L1124.15,1128.86 L1124.40,1125.97 L1124.50,1124.59 L1124.65,1122.28 L1124.90,1117.82 L1125.15,1112.62 L1125.40,1106.68 L1125.50,1104.12 L1125.65,1100.06 L1125.90,1092.78 L1126.15,1084.88 L1126.40,1076.40 L1126.50,1072.86 L1126.65,1067.38 L1126.90,1057.86 L1127.15,1047.89 L1127.40,1037.49 L1127.50,1033.23 L1127.65,1026.73 L1127.90,1015.63 L1128.15,1004.24 L1128.40,992.61 L1128.50,987.89 L1128.65,980.76 L1128.90,968.75 L1129.15,956.59 L1129.50,939.41 L1130.50,889.97 L1131.50,841.28 L1132.50,794.55 L1133.50,750.55 L1134.50,709.70 L1135.50,672.17 L1136.50,637.95 L1137.50,606.90 L1138.50,578.82 L1139.50,553.48 L1140.50,530.64 L1141.50,510.05 L1142.50,491.50 L1143.50,474.76 L1144.50,459.64 L1145.50,445.98 L1146.50,433.61 L1147.50,422.39 L1148.50,412.20 L1149.50,402.94 L1150.50,394.50 L1151.50,386.81 L1152.50,379.78 L1153.50,373.35 L1154.50,367.46 L1155.50,362.06 L1156.50,357.10 L1157.50,352.54 L1158.50,348.36 L1159.50,344.50 L1160.50,340.95 L1161.50,337.68 L1162.50,334.67 L1163.50,331.89 L1164.50,329.33 L1165.50,326.97 L1166.50,324.80 L1167.50,322.81 L1168.50,320.98 L1169.50,319.29 L1170.50,317.75 L1171.50,316.35 L1172.50,315.07 L1173.50,313.91 L1174.50,312.86 L1175.50,311.92 L1176.50,311.09 L1177.50,310.35 L1178.50,309.70 L1179.50,309.15 L1180.50,308.69 L1181.50,308.32 L1182.50,308.02 L1183.50,307.82 L1184.50,307.69 L1185.50,307.64 L1186.50,307.68 L1187.50,307.79 L1188.50,307.99 L1189.50,308.27 L1190.50,308.63 L1191.50,309.07 L1192.50,309.60 L1193.50,310.22 L1194.50,310.92 L1195.50,311.73 L1196.50,312.62 L1197.50,313.62 L1198.50,314.73 L1199.50,315.95 L1200.50,317.29 L1201.50,318.76 L1202.50,320.35 L1203.50,322.10 L1204.50,324.00 L1205.50,326.07 L1206.50,328.32 L1207.50,330.76 L1208.50,333.43 L1209.50,336.33 L1210.50,339.49 L1211.50,342.95 L1212.50,346.73 L1213.50,350.86 L1214.50,355.40 L1215.50,360.38 L1216.50,365.86 L1217.50,371.88 L1218.50,378.50 L1219.50,385.77 L1220.50,393.73 L1221.50,402.36 L1222.50,411.64 L1222.75,414.05 L1223.00,416.49 L1223.25,418.96 L1223.50,421.45 L1223.75,423.97 L1224.00,426.50 L1224.25,429.05 L1224.50,431.60 L1224.75,434.16 L1225.00,436.72 L1225.25,439.27 L1225.50,441.80 L1225.75,444.32 L1226.00,446.81 L1226.25,449.28 L1226.50,451.70 L1226.75,454.09 L1227.00,456.43 L1227.25,458.72 L1227.50,460.96 L1227.75,463.14 L1228.00,465.26 L1228.25,467.32 L1228.50,469.32 L1228.75,471.26 L1229.00,473.14 L1229.25,474.96 L1229.50,476.74 L1229.75,478.46 L1230.00,480.13 L1230.25,481.77 L1230.50,483.38 L1230.75,484.96 L1231.00,486.52 L1231.25,488.07 L1231.50,489.61 L1231.75,491.16 L1232.00,492.72 L1232.25,494.30 L1232.50,495.91 L1232.75,497.54 L1233.00,499.23 L1233.25,500.95 L1233.50,502.73 L1233.75,504.58 L1234.00,506.48 L1234.25,508.46 L1234.50,510.52 L1235.50,519.60 L1236.50,530.22 L1237.50,542.60 L1238.50,556.89 L1239.50,573.26 L1240.50,591.84 L1241.50,612.79 L1242.50,636.27 L1243.50,662.47 L1244.50,691.55 L1245.50,723.70 L1246.50,759.07 L1247.50,797.77 L1248.50,839.85 L1249.50,885.23 L1250.50,933.68 L1251.50,984.76 L1252.50,1037.72 L1253.50,1091.49 L1254.50,1144.62 L1254.75,1157.59 L1255.00,1170.37 L1255.25,1182.94 L1255.50,1195.25 L1255.75,1207.27 L1256.00,1218.96 L1256.25,1230.29 L1256.50,1241.22 L1256.75,1251.72 L1257.00,1261.74 L1257.25,1271.25 L1257.50,1280.22 L1257.75,1288.61 L1258.00,1296.38 L1258.25,1303.51 L1258.50,1309.97 L1258.75,1315.72 L1259.00,1320.75 L1259.25,1325.03 L1259.50,1328.54 L1259.75,1331.27 L1260.00,1333.20 L1260.25,1334.32 L1260.50,1334.64 L1260.75,1334.14 L1261.00,1332.83 L1261.25,1330.71 L1261.50,1327.79 L1261.75,1324.10 L1262.00,1319.63 L1262.25,1314.41 L1262.50,1308.47 L1262.75,1301.83 L1263.00,1294.51 L1263.25,1286.54 L1263.50,1277.96 L1263.75,1268.80 L1264.00,1259.10 L1264.25,1248.88 L1264.50,1238.19 L1264.75,1227.06 L1265.00,1215.53 L1265.25,1203.63 L1265.50,1191.41 L1265.75,1178.90 L1266.00,1166.12 L1266.25,1153.13 L1266.50,1139.95 L1267.50,1085.97 L1268.50,1031.29 L1269.50,977.36 L1270.50,925.27 L1271.50,875.73 L1272.50,829.17 L1273.50,785.82 L1274.50,745.73 L1275.50,708.84 L1276.50,675.01 L1277.50,644.05 L1278.50,615.78 L1279.50,589.96 L1280.50,566.40 L1281.50,544.89 L1282.50,525.24 L1283.50,507.28 L1284.50,490.83 L1285.50,475.77 L1286.50,461.94 L1287.50,449.24 L1288.50,437.55 L1289.50,426.78 L1290.50,416.85 L1291.50,407.66 L1292.50,399.16 L1293.50,391.27 L1294.50,383.96 L1295.50,377.15 L1296.50,370.82 L1297.50,364.92 L1298.50,359.40 L1299.50,354.25 L1300.50,349.43 L1301.50,344.91 L1302.50,340.67 L1303.50,336.69 L1304.50,332.95 L1305.50,329.42 L1306.50,326.10 L1307.50,322.96 L1308.50,320.00 L1309.50,317.20 L1310.50,314.55 L1311.50,312.04 L1312.50,309.66 L1313.50,307.41 L1314.50,305.26 L1315.50,303.23 L1316.50,301.29 L1317.50,299.44 L1318.50,297.69 L1319.50,296.01 L1320.50,294.41 L1321.50,292.88 L1322.50,291.42 L1323.50,290.03 L1324.50,288.69 L1325.50,287.42 L1326.50,286.19 L1327.50,285.02 L1328.50,283.89 L1329.50,282.81 L1330.50,281.78 L1331.50,280.78 L1332.50,279.82 L1333.50,278.90 L1334.50,278.01 L1335.50,277.16 L1336.50,276.34 L1337.50,275.55 L1338.50,274.78 L1339.50,274.05 L1340.50,273.34 L1341.50,272.65 L1342.50,271.99 L1343.50,271.35 L1344.50,270.73 L1345.50,270.13 L1346.50,269.55 L1347.50,268.99 L1348.50,268.45 L1349.50,267.93 L1350.50,267.42 L1351.50,266.93 L1352.50,266.45 L1353.50,265.98 L1354.50,265.54 L1355.50,265.10 L1356.50,264.68 L1357.50,264.27 L1358.50,263.87 L1359.50,263.48 L1360.50,263.10 L1361.50,262.74 L1362.50,262.38 L1363.50,262.03 L1364.50,261.70 L1365.50,261.37 L1366.50,261.05 L1367.50,260.74 L1368.50,260.44 L1369.50,260.14 L1370.50,259.86 L1371.50,259.58 L1372.50,259.30 L1373.50,259.04 L1374.50,258.78 L1375.50,258.53 L1376.50,258.28 L1377.50,258.04 L1378.50,257.80 L1379.50,257.57 L1380.50,257.35 L1381.50,257.13 L1382.50,256.92 L1383.50,256.71 L1384.50,256.50 L1385.50,256.31 L1386.50,256.11 L1387.50,255.92 L1388.50,255.73 L1389.50,255.55 L1390.50,255.37 L1391.50,255.20 L1392.50,255.03 L1393.50,254.86 L1394.50,254.70 L1395.50,254.54 L1396.50,254.38 L1397.50,254.23 L1398.50,254.08 L1399.50,253.93 L1400.50,253.78 L1401.50,253.64 L1402.50,253.50 L1403.50,253.37 L1404.50,253.23 L1405.50,253.10 L1406.50,252.98 L1407.50,252.85 L1408.50,252.73 L1409.50,252.61 L1410.50,252.49 L1411.50,252.37 L1412.50,252.26 L1413.50,252.15 L1414.50,252.04 L1415.50,251.93 L1416.50,251.82 L1417.50,251.72 L1418.50,251.62 L1419.50,251.51 L1420.50,251.42 L1421.50,251.32 L1422.50,251.22 L1423.50,251.13 L1424.50,251.04 L1425.50,250.95 L1426.50,250.86 L1427.50,250.77 L1428.50,250.69 L1429.50,250.60 L1430.50,250.52 L1431.50,250.44 L1432.50,250.36 L1433.50,250.28 L1434.50,250.20 L1435.50,250.12 L1436.50,250.05 L1437.50,249.98 L1438.50,249.90 L1439.50,249.83 L1440.50,249.76 L1441.50,249.69 L1442.50,249.62 L1443.50,249.56 L1444.50,249.49 L1445.50,249.43 L1446.50,249.36 L1447.50,249.30 L1448.50,249.24 L1449.50,249.18 L1450.50,249.12 L1451.50,249.06 L1452.50,249.00 L1453.50,248.94 L1454.50,248.88 L1455.50,248.83 L1456.50,248.77 L1457.50,248.72 L1458.50,248.66 L1459.50,248.61 L1460.50,248.56 L1461.50,248.51 L1462.50,248.46 L1463.50,248.41 L1464.50,248.36 L1465.50,248.31 L1466.50,248.26 L1467.50,248.22 L1468.50,248.17 L1469.50,248.12 L1470.50,248.08 L1471.50,248.03 L1472.50,247.99 L1473.50,247.95 L1474.50,247.90 L1475.50,247.86 L1476.50,247.82 L1477.50,247.78 L1478.50,247.74 L1479.50,247.70 L1480.50,247.66 L1481.50,247.62 L1482.50,247.58 L1483.50,247.55 L1484.50,247.51 L1485.50,247.47 L1486.50,247.43 L1487.50,247.40 L1488.50,247.36 L1489.50,247.33 L1490.50,247.29 L1491.50,247.26 L1492.50,247.23 L1493.50,247.19 L1494.50,247.16 L1495.50,247.13 L1496.50,247.10 L1497.50,247.06 L1498.50,247.03 L1499.50,247.00 L1500.50,246.97 L1501.50,246.94 L1502.50,246.91 L1503.50,246.88 L1504.50,246.85 L1505.50,246.82 L1506.50,246.80 L1507.50,246.77 L1508.50,246.74 L1509.50,246.71 L1510.50,246.69 L1511.50,246.66 L1512.50,246.63 L1513.50,246.61 L1514.50,246.58 L1515.50,246.56 L1516.50,246.53 L1517.50,246.51 L1518.50,246.48 L1519.50,246.46 L1520.50,246.43 L1521.50,246.41 L1522.50,246.39 L1523.50,246.36 L1524.50,246.34 L1525.50,246.32 L1526.50,246.29 L1527.50,246.27 L1528.50,246.25 L1529.50,246.23 L1530.50,246.21 L1531.50,246.19 L1532.50,246.17 L1533.50,246.15 L1534.50,246.12 L1535.50,246.10 L1536.50,246.08 L1537.50,246.06 L1538.50,246.04 L1539.50,246.03 L1540.50,246.01 L1541.50,245.99 L1542.50,245.97 L1543.50,245.95 L1544.50,245.93 L1545.50,245.91 L1546.50,245.90 L1547.50,245.88 L1548.50,245.86 L1549.50,245.84 L1550.50,245.83 L1551.50,245.81 L1552.50,245.79 L1553.50,245.78 L1554.50,245.76 L1555.50,245.74 L1556.50,245.73 L1557.50,245.71 L1558.50,245.70 L1559.50,245.68 L1560.50,245.66 L1561.50,245.65 L1562.50,245.63 L1563.50,245.62 L1564.50,245.60 L1565.50,245.59 L1566.50,245.57 L1567.50,245.56 L1568.50,245.55 L1569.50,245.53 L1570.50,245.52 L1571.50,245.50 L1572.50,245.49 L1573.50,245.48 L1574.50,245.46 L1575.50,245.45 L1576.50,245.44 L1577.50,245.42 L1578.50,245.41 L1579.50,245.40 L1580.50,245.39 L1581.50,245.37 L1582.50,245.36 L1583.50,245.35 L1584.50,245.34 L1585.50,245.33 L1586.50,245.31 L1587.50,245.30 L1588.50,245.29 L1589.50,245.28 L1590.50,245.27 L1591.50,245.26 L1592.50,245.24 L1593.50,245.23 L1594.50,245.22 L1595.50,245.21 L1596.50,245.20 L1597.50,245.19 L1598.50,245.18 L1599.50,245.17 L1600.50,245.16 L1601.50,245.15 L1602.50,245.14 L1603.50,245.13 L1604.50,245.12 L1605.50,245.11 L1606.50,245.10 L1607.50,245.09 L1608.50,245.08 L1609.50,245.07 L1610.50,245.06 L1611.50,245.05 L1612.50,245.04 L1613.50,245.03 L1614.50,245.02 L1615.50,245.02 L1616.50,245.01 L1617.50,245.00 L1618.50,244.99 L1619.50,244.98 L1620.50,244.97 L1621.50,244.96 L1622.50,244.96 L1623.50,244.95 L1624.50,244.94 L1625.50,244.93 L1626.50,244.92 L1627.50,244.91 L1628.50,244.91 L1629.50,244.90 L1630.50,244.89 L1631.50,244.88 L1632.50,244.88 L1633.50,244.87 L1634.50,244.86 L1635.50,244.85 L1636.50,244.85 L1637.50,244.84 L1638.50,244.83 L1639.50,244.82 L1640.50,244.82 L1641.50,244.81 L1642.50,244.80 L1643.50,244.80 L1644.50,244.79 L1645.50,244.78 L1646.50,244.78 L1647.50,244.77 L1648.50,244.76 L1649.50,244.76 L1650.50,244.75 L1651.50,244.74 L1652.50,244.74 L1653.50,244.73 L1654.50,244.73 L1655.00,244.72" stroke="#ff2a2a" stroke-width="3.4" fill="none" stroke-linejoin="round"/><path d="M229.50,147.85 L230.50,147.85 L231.50,147.85 L232.50,147.85 L233.50,147.85 L234.50,147.86 L235.50,147.86 L236.50,147.86 L237.50,147.86 L238.50,147.86 L239.50,147.86 L240.50,147.86 L241.50,147.86 L242.50,147.86 L243.50,147.86 L244.50,147.86 L245.50,147.86 L246.50,147.86 L247.50,147.86 L248.50,147.86 L249.50,147.86 L250.50,147.86 L251.50,147.86 L252.50,147.86 L253.50,147.86 L254.50,147.86 L255.50,147.86 L256.50,147.86 L257.50,147.86 L258.50,147.86 L259.50,147.86 L260.50,147.86 L261.50,147.86 L262.50,147.86 L263.50,147.86 L264.50,147.86 L265.50,147.86 L266.50,147.86 L267.50,147.86 L268.50,147.86 L269.50,147.86 L270.50,147.86 L271.50,147.86 L272.50,147.86 L273.50,147.86 L274.50,147.86 L275.50,147.86 L276.50,147.87 L277.50,147.87 L278.50,147.87 L279.50,147.87 L280.50,147.87 L281.50,147.87 L282.50,147.87 L283.50,147.87 L284.50,147.87 L285.50,147.87 L286.50,147.87 L287.50,147.87 L288.50,147.87 L289.50,147.87 L290.50,147.87 L291.50,147.87 L292.50,147.87 L293.50,147.87 L294.50,147.87 L295.50,147.87 L296.50,147.87 L297.50,147.87 L298.50,147.87 L299.50,147.87 L300.50,147.87 L301.50,147.87 L302.50,147.87 L303.50,147.87 L304.50,147.87 L305.50,147.87 L306.50,147.87 L307.50,147.87 L308.50,147.87 L309.50,147.88 L310.50,147.88 L311.50,147.88 L312.50,147.88 L313.50,147.88 L314.50,147.88 L315.50,147.88 L316.50,147.88 L317.50,147.88 L318.50,147.88 L319.50,147.88 L320.50,147.88 L321.50,147.88 L322.50,147.88 L323.50,147.88 L324.50,147.88 L325.50,147.88 L326.50,147.88 L327.50,147.88 L328.50,147.88 L329.50,147.88 L330.50,147.88 L331.50,147.88 L332.50,147.88 L333.50,147.88 L334.50,147.88 L335.50,147.89 L336.50,147.89 L337.50,147.89 L338.50,147.89 L339.50,147.89 L340.50,147.89 L341.50,147.89 L342.50,147.89 L343.50,147.89 L344.50,147.89 L345.50,147.89 L346.50,147.89 L347.50,147.89 L348.50,147.89 L349.50,147.89 L350.50,147.89 L351.50,147.89 L352.50,147.89 L353.50,147.89 L354.50,147.89 L355.50,147.89 L356.50,147.89 L357.50,147.90 L358.50,147.90 L359.50,147.90 L360.50,147.90 L361.50,147.90 L362.50,147.90 L363.50,147.90 L364.50,147.90 L365.50,147.90 L366.50,147.90 L367.50,147.90 L368.50,147.90 L369.50,147.90 L370.50,147.90 L371.50,147.90 L372.50,147.90 L373.50,147.90 L374.50,147.90 L375.50,147.90 L376.50,147.91 L377.50,147.91 L378.50,147.91 L379.50,147.91 L380.50,147.91 L381.50,147.91 L382.50,147.91 L383.50,147.91 L384.50,147.91 L385.50,147.91 L386.50,147.91 L387.50,147.91 L388.50,147.91 L389.50,147.91 L390.50,147.91 L391.50,147.91 L392.50,147.92 L393.50,147.92 L394.50,147.92 L395.50,147.92 L396.50,147.92 L397.50,147.92 L398.50,147.92 L399.50,147.92 L400.50,147.92 L401.50,147.92 L402.50,147.92 L403.50,147.92 L404.50,147.92 L405.50,147.93 L406.50,147.93 L407.50,147.93 L408.50,147.93 L409.50,147.93 L410.50,147.93 L411.50,147.93 L412.50,147.93 L413.50,147.93 L414.50,147.93 L415.50,147.93 L416.50,147.93 L417.50,147.94 L418.50,147.94 L419.50,147.94 L420.50,147.94 L421.50,147.94 L422.50,147.94 L423.50,147.94 L424.50,147.94 L425.50,147.94 L426.50,147.94 L427.50,147.94 L428.50,147.95 L429.50,147.95 L430.50,147.95 L431.50,147.95 L432.50,147.95 L433.50,147.95 L434.50,147.95 L435.50,147.95 L436.50,147.95 L437.50,147.95 L438.50,147.96 L439.50,147.96 L440.50,147.96 L441.50,147.96 L442.50,147.96 L443.50,147.96 L444.50,147.96 L445.50,147.96 L446.50,147.97 L447.50,147.97 L448.50,147.97 L449.50,147.97 L450.50,147.97 L451.50,147.97 L452.50,147.97 L453.50,147.97 L454.50,147.98 L455.50,147.98 L456.50,147.98 L457.50,147.98 L458.50,147.98 L459.50,147.98 L460.50,147.98 L461.50,147.99 L462.50,147.99 L463.50,147.99 L464.50,147.99 L465.50,147.99 L466.50,147.99 L467.50,147.99 L468.50,148.00 L469.50,148.00 L470.50,148.00 L471.50,148.00 L472.50,148.00 L473.50,148.00 L474.50,148.01 L475.50,148.01 L476.50,148.01 L477.50,148.01 L478.50,148.01 L479.50,148.01 L480.50,148.02 L481.50,148.02 L482.50,148.02 L483.50,148.02 L484.50,148.02 L485.50,148.03 L486.50,148.03 L487.50,148.03 L488.50,148.03 L489.50,148.03 L490.50,148.04 L491.50,148.04 L492.50,148.04 L493.50,148.04 L494.50,148.05 L495.50,148.05 L496.50,148.05 L497.50,148.05 L498.50,148.06 L499.50,148.06 L500.50,148.06 L501.50,148.06 L502.50,148.07 L503.50,148.07 L504.50,148.07 L505.50,148.07 L506.50,148.08 L507.50,148.08 L508.50,148.08 L509.50,148.08 L510.50,148.09 L511.50,148.09 L512.50,148.09 L513.50,148.10 L514.50,148.10 L515.50,148.10 L516.50,148.11 L517.50,148.11 L518.50,148.11 L519.50,148.12 L520.50,148.12 L521.50,148.12 L522.50,148.13 L523.50,148.13 L524.50,148.14 L525.50,148.14 L526.50,148.14 L527.50,148.15 L528.50,148.15 L529.50,148.16 L530.50,148.16 L531.50,148.16 L532.50,148.17 L533.50,148.17 L534.50,148.18 L535.50,148.18 L536.50,148.19 L537.50,148.19 L538.50,148.20 L539.50,148.20 L540.50,148.21 L541.50,148.21 L542.50,148.22 L543.50,148.22 L544.50,148.23 L545.50,148.23 L546.50,148.24 L547.50,148.25 L548.50,148.25 L549.50,148.26 L550.50,148.26 L551.50,148.27 L552.50,148.28 L553.50,148.28 L554.50,148.29 L555.50,148.30 L556.50,148.31 L557.50,148.31 L558.50,148.32 L559.50,148.33 L560.50,148.34 L561.50,148.35 L562.50,148.35 L563.50,148.36 L564.50,148.37 L565.50,148.38 L566.50,148.39 L567.50,148.40 L568.50,148.41 L569.50,148.42 L570.50,148.43 L571.50,148.44 L572.50,148.45 L573.50,148.46 L574.50,148.47 L575.50,148.49 L576.50,148.50 L577.50,148.51 L578.50,148.52 L579.50,148.54 L580.50,148.55 L581.50,148.57 L582.50,148.58 L583.50,148.59 L584.50,148.61 L585.50,148.63 L586.50,148.64 L587.50,148.66 L588.50,148.68 L589.50,148.70 L590.50,148.71 L591.50,148.73 L592.50,148.75 L593.50,148.77 L594.50,148.80 L595.50,148.82 L596.50,148.84 L597.50,148.87 L598.50,148.89 L599.50,148.92 L600.50,148.94 L601.50,148.97 L602.50,149.00 L603.50,149.03 L604.50,149.06 L605.50,149.09 L606.50,149.13 L607.50,149.16 L608.50,149.20 L609.00,149.22 L609.25,149.23 L609.50,149.24 L609.75,149.25 L610.00,149.26 L610.25,149.27 L610.50,149.28 L610.75,149.29 L611.00,149.30 L611.25,149.31 L611.50,149.32 L611.75,149.33 L612.00,149.34 L612.25,149.35 L612.50,149.36 L612.75,149.37 L613.00,149.38 L613.25,149.40 L613.50,149.41 L613.75,149.42 L614.00,149.43 L614.25,149.44 L614.50,149.46 L614.75,149.47 L615.00,149.48 L615.25,149.49 L615.50,149.51 L615.75,149.52 L616.00,149.53 L616.25,149.54 L616.50,149.56 L616.75,149.57 L617.00,149.58 L617.25,149.60 L617.50,149.61 L617.75,149.63 L618.00,149.64 L618.25,149.66 L618.50,149.67 L618.75,149.68 L619.00,149.70 L619.25,149.72 L619.50,149.73 L619.75,149.75 L620.00,149.76 L620.25,149.78 L620.50,149.79 L620.75,149.81 L621.50,149.86 L622.50,149.93 L623.50,150.01 L624.50,150.08 L625.50,150.17 L626.50,150.26 L627.50,150.35 L628.50,150.45 L629.50,150.55 L630.50,150.66 L631.50,150.78 L632.50,150.91 L633.50,151.04 L634.50,151.18 L635.50,151.34 L636.50,151.50 L637.50,151.68 L638.50,151.86 L639.50,152.07 L640.50,152.29 L641.50,152.52 L642.50,152.78 L643.50,153.06 L644.50,153.36 L645.50,153.68 L646.50,154.04 L647.50,154.43 L648.50,154.86 L649.50,155.33 L650.50,155.84 L651.50,156.42 L652.50,157.05 L653.50,157.75 L654.50,158.53 L655.50,159.40 L656.50,160.37 L657.50,161.46 L658.50,162.69 L659.50,164.07 L660.50,165.63 L661.50,167.40 L662.50,169.40 L663.50,171.66 L664.50,174.22 L665.50,177.09 L666.50,180.31 L667.50,183.86 L668.50,187.73 L669.50,191.86 L669.70,192.70 L669.95,193.76 L670.20,194.83 L670.45,195.90 L670.50,196.11 L670.70,196.96 L670.95,198.01 L671.20,199.06 L671.45,200.08 L671.50,200.29 L671.70,201.09 L671.95,202.08 L672.20,203.03 L672.45,203.95 L672.50,204.13 L672.70,204.83 L672.95,205.66 L673.20,206.45 L673.45,207.17 L673.50,207.31 L673.70,207.84 L673.95,208.44 L674.20,208.97 L674.45,209.43 L674.50,209.51 L674.70,209.81 L674.95,210.11 L675.20,210.32 L675.45,210.45 L675.50,210.47 L675.70,210.50 L675.95,210.46 L676.20,210.33 L676.45,210.12 L676.50,210.07 L676.70,209.83 L676.95,209.45 L677.20,209.00 L677.45,208.47 L677.50,208.36 L677.70,207.88 L677.95,207.22 L678.20,206.49 L678.45,205.71 L678.50,205.55 L678.70,204.88 L678.95,204.01 L679.20,203.10 L679.45,202.15 L679.50,201.95 L679.70,201.17 L679.95,200.16 L680.20,199.14 L680.45,198.10 L680.50,197.89 L680.70,197.05 L680.95,195.99 L681.20,194.93 L681.45,193.87 L681.50,193.66 L682.50,189.48 L683.50,185.52 L684.50,181.85 L685.50,178.52 L686.50,175.53 L687.50,172.87 L688.50,170.51 L689.50,168.43 L690.50,166.60 L691.50,164.98 L692.50,163.55 L693.50,162.28 L694.50,161.16 L695.50,160.17 L696.50,159.28 L697.50,158.49 L698.50,157.79 L699.50,157.15 L700.50,156.59 L701.50,156.08 L702.50,155.62 L703.50,155.21 L704.50,154.83 L705.50,154.50 L706.50,154.19 L707.50,153.92 L708.50,153.67 L709.50,153.44 L710.50,153.24 L711.50,153.06 L712.50,152.89 L713.50,152.74 L714.50,152.61 L715.50,152.50 L716.50,152.39 L717.50,152.30 L718.50,152.23 L719.50,152.17 L720.50,152.11 L721.50,152.07 L722.50,152.05 L723.50,152.03 L724.50,152.02 L725.50,152.03 L726.50,152.05 L727.50,152.08 L728.50,152.12 L729.50,152.18 L730.50,152.25 L731.50,152.34 L732.50,152.44 L733.50,152.56 L734.50,152.70 L735.50,152.86 L736.50,153.04 L737.50,153.25 L738.50,153.49 L739.50,153.76 L740.50,154.07 L741.50,154.42 L742.50,154.81 L742.75,154.92 L743.00,155.03 L743.25,155.15 L743.50,155.26 L743.75,155.39 L744.00,155.51 L744.25,155.64 L744.50,155.77 L744.75,155.91 L745.00,156.06 L745.25,156.20 L745.50,156.36 L745.75,156.51 L746.00,156.68 L746.25,156.84 L746.50,157.02 L746.75,157.20 L747.00,157.38 L747.25,157.58 L747.50,157.77 L747.75,157.98 L748.00,158.19 L748.25,158.41 L748.50,158.64 L748.75,158.87 L749.00,159.12 L749.25,159.37 L749.50,159.63 L749.75,159.90 L750.00,160.17 L750.25,160.46 L750.50,160.76 L750.75,161.07 L751.00,161.39 L751.25,161.71 L751.50,162.05 L751.75,162.41 L752.00,162.77 L752.25,163.15 L752.50,163.53 L752.75,163.93 L753.00,164.35 L753.25,164.77 L753.50,165.21 L753.75,165.67 L754.00,166.13 L754.25,166.61 L754.50,167.11 L755.50,169.22 L756.50,171.54 L757.30,173.52 L757.50,174.02 L757.55,174.15 L757.80,174.78 L758.05,175.42 L758.30,176.06 L758.50,176.57 L758.55,176.70 L758.80,177.33 L759.05,177.96 L759.30,178.58 L759.50,179.06 L759.55,179.18 L759.80,179.77 L760.05,180.33 L760.30,180.88 L760.50,181.29 L760.55,181.39 L760.80,181.88 L761.05,182.33 L761.30,182.75 L761.50,183.05 L761.55,183.13 L761.80,183.46 L762.05,183.74 L762.30,183.98 L762.50,184.13 L762.55,184.16 L762.80,184.30 L763.05,184.38 L763.30,184.40 L763.50,184.38 L763.55,184.37 L763.80,184.28 L764.05,184.14 L764.30,183.95 L764.50,183.76 L764.55,183.71 L764.80,183.42 L765.05,183.08 L765.30,182.69 L765.50,182.36 L765.55,182.27 L765.80,181.81 L766.05,181.32 L766.30,180.79 L766.50,180.35 L766.55,180.24 L766.80,179.67 L767.05,179.07 L767.30,178.46 L767.50,177.96 L767.55,177.84 L767.80,177.21 L768.05,176.57 L768.30,175.92 L768.50,175.40 L768.55,175.27 L768.80,174.63 L769.05,173.99 L769.50,172.84 L770.50,170.39 L771.50,168.12 L772.50,166.06 L773.50,164.22 L774.50,162.59 L775.50,161.16 L776.50,159.90 L777.50,158.80 L778.50,157.83 L779.50,156.97 L780.50,156.22 L781.50,155.56 L782.50,154.97 L783.50,154.44 L784.50,153.98 L785.50,153.56 L786.50,153.19 L787.50,152.85 L788.50,152.55 L789.50,152.27 L790.50,152.03 L791.50,151.80 L792.50,151.60 L793.50,151.41 L794.50,151.24 L795.50,151.08 L796.50,150.94 L797.50,150.80 L798.50,150.68 L799.50,150.57 L800.50,150.47 L801.50,150.37 L802.50,150.28 L803.50,150.20 L804.50,150.12 L805.50,150.05 L806.50,149.99 L807.50,149.92 L808.50,149.87 L809.50,149.82 L810.50,149.77 L811.50,149.72 L812.50,149.68 L813.50,149.64 L814.50,149.60 L815.50,149.57 L816.50,149.54 L817.50,149.51 L818.50,149.48 L819.50,149.46 L820.50,149.44 L821.50,149.42 L822.50,149.40 L823.50,149.39 L824.50,149.37 L825.50,149.36 L826.50,149.35 L827.50,149.35 L828.50,149.34 L829.50,149.34 L830.50,149.33 L831.50,149.33 L832.50,149.33 L833.50,149.34 L834.50,149.34 L835.50,149.35 L836.50,149.36 L837.50,149.37 L838.50,149.39 L839.50,149.40 L840.50,149.42 L841.50,149.44 L842.50,149.47 L843.50,149.49 L844.50,149.52 L845.50,149.56 L846.50,149.60 L847.50,149.64 L848.50,149.69 L849.50,149.74 L850.50,149.79 L851.50,149.86 L852.50,149.92 L853.50,150.00 L854.50,150.08 L855.50,150.18 L856.50,150.28 L857.50,150.39 L858.50,150.52 L859.50,150.65 L860.50,150.81 L861.50,150.98 L862.50,151.17 L863.50,151.39 L864.50,151.63 L865.50,151.91 L866.50,152.22 L867.50,152.57 L868.50,152.97 L869.50,153.43 L870.50,153.95 L871.50,154.55 L872.50,155.24 L873.50,156.03 L874.50,156.94 L875.50,157.98 L876.50,159.16 L877.50,160.50 L878.50,161.98 L879.20,163.09 L879.37,163.37 L879.45,163.50 L879.50,163.58 L879.62,163.78 L879.70,163.92 L879.87,164.20 L879.95,164.33 L880.12,164.62 L880.20,164.75 L880.37,165.04 L880.45,165.17 L880.50,165.25 L880.62,165.46 L880.70,165.59 L880.87,165.87 L880.95,166.00 L881.12,166.28 L881.20,166.42 L881.37,166.69 L881.45,166.82 L881.50,166.90 L881.62,167.09 L881.70,167.21 L881.87,167.48 L881.95,167.60 L882.12,167.85 L882.20,167.96 L882.37,168.21 L882.45,168.32 L882.50,168.38 L882.62,168.55 L882.70,168.65 L882.87,168.86 L882.95,168.96 L883.12,169.16 L883.20,169.25 L883.37,169.43 L883.45,169.51 L883.50,169.55 L883.62,169.67 L883.70,169.74 L883.87,169.87 L883.95,169.93 L884.12,170.05 L884.20,170.10 L884.37,170.19 L884.45,170.23 L884.50,170.25 L884.62,170.30 L884.70,170.32 L884.87,170.37 L884.95,170.38 L885.12,170.40 L885.20,170.40 L885.37,170.39 L885.45,170.38 L885.50,170.37 L885.62,170.35 L885.70,170.32 L885.87,170.27 L885.95,170.23 L886.12,170.15 L886.20,170.10 L886.37,169.99 L886.45,169.94 L886.50,169.90 L886.62,169.81 L886.70,169.74 L886.87,169.59 L886.95,169.51 L887.12,169.34 L887.20,169.25 L887.37,169.06 L887.45,168.96 L887.50,168.90 L887.62,168.76 L887.70,168.65 L887.87,168.43 L887.95,168.32 L888.12,168.09 L888.20,167.97 L888.37,167.72 L888.45,167.60 L888.50,167.53 L888.62,167.34 L888.70,167.22 L888.87,166.95 L888.95,166.83 L889.12,166.55 L889.20,166.42 L889.37,166.14 L889.45,166.01 L889.50,165.93 L889.62,165.73 L889.70,165.60 L889.87,165.31 L889.95,165.18 L890.12,164.89 L890.20,164.76 L890.37,164.48 L890.45,164.34 L890.50,164.26 L890.62,164.06 L890.70,163.93 L890.87,163.64 L890.95,163.51 L891.12,163.23 L891.50,162.62 L892.50,161.09 L893.50,159.69 L894.50,158.45 L895.50,157.36 L896.50,156.40 L897.50,155.56 L898.50,154.84 L899.50,154.21 L900.50,153.66 L901.50,153.18 L902.50,152.76 L903.50,152.40 L904.50,152.07 L905.50,151.79 L906.50,151.54 L907.50,151.32 L908.50,151.12 L909.50,150.94 L910.50,150.79 L911.50,150.65 L912.50,150.52 L913.50,150.41 L914.50,150.31 L915.50,150.22 L916.50,150.14 L917.50,150.07 L918.50,150.01 L919.50,149.95 L920.50,149.90 L921.50,149.86 L922.50,149.83 L923.50,149.79 L924.50,149.77 L925.50,149.75 L926.50,149.73 L927.50,149.72 L928.50,149.71 L929.50,149.71 L930.50,149.71 L931.50,149.71 L932.50,149.72 L932.70,149.73 L932.95,149.73 L933.20,149.73 L933.45,149.74 L933.50,149.74 L933.70,149.74 L933.95,149.75 L934.20,149.75 L934.45,149.76 L934.50,149.76 L934.70,149.76 L934.95,149.77 L935.20,149.77 L935.45,149.78 L935.50,149.78 L935.70,149.79 L935.95,149.79 L936.20,149.80 L936.45,149.81 L936.50,149.81 L936.70,149.82 L936.95,149.83 L937.20,149.84 L937.45,149.84 L937.50,149.85 L937.70,149.85 L937.95,149.86 L938.20,149.87 L938.45,149.88 L938.50,149.89 L938.70,149.90 L938.95,149.91 L939.20,149.92 L939.45,149.93 L939.50,149.93 L939.70,149.94 L939.95,149.96 L940.20,149.97 L940.45,149.98 L940.50,149.99 L940.70,150.00 L940.95,150.01 L941.20,150.03 L941.45,150.04 L941.50,150.05 L941.70,150.06 L941.95,150.08 L942.20,150.09 L942.45,150.11 L942.50,150.12 L942.70,150.13 L942.95,150.15 L943.20,150.17 L943.45,150.19 L943.50,150.19 L943.70,150.21 L943.95,150.23 L944.05,150.24 L944.20,150.25 L944.30,150.26 L944.45,150.27 L944.50,150.28 L944.55,150.28 L944.80,150.31 L945.05,150.33 L945.30,150.35 L945.50,150.37 L945.55,150.38 L945.80,150.41 L946.05,150.43 L946.30,150.46 L946.50,150.48 L946.55,150.49 L946.80,150.52 L947.05,150.55 L947.30,150.58 L947.50,150.60 L947.55,150.61 L947.80,150.64 L948.05,150.68 L948.30,150.71 L948.50,150.74 L948.55,150.75 L948.80,150.78 L949.05,150.82 L949.30,150.86 L949.50,150.89 L949.55,150.90 L949.80,150.94 L950.05,150.98 L950.30,151.03 L950.50,151.06 L950.55,151.07 L950.80,151.12 L951.05,151.17 L951.30,151.22 L951.50,151.26 L951.55,151.27 L951.80,151.32 L952.05,151.37 L952.30,151.43 L952.50,151.47 L952.55,151.49 L952.80,151.54 L953.05,151.61 L953.30,151.67 L953.50,151.72 L953.55,151.73 L953.80,151.80 L954.05,151.87 L954.30,151.94 L954.50,152.00 L954.55,152.01 L954.80,152.09 L955.05,152.17 L955.30,152.25 L955.50,152.31 L955.55,152.33 L955.80,152.42 L956.50,152.67 L957.50,153.08 L958.50,153.55 L959.50,154.09 L960.50,154.71 L961.50,155.42 L962.50,156.24 L963.50,157.18 L964.50,158.25 L965.50,159.47 L966.50,160.83 L967.50,162.33 L967.70,162.64 L967.95,163.03 L968.20,163.43 L968.45,163.84 L968.50,163.92 L968.70,164.24 L968.95,164.65 L969.20,165.05 L969.45,165.45 L969.50,165.53 L969.70,165.85 L969.95,166.24 L970.20,166.62 L970.45,166.99 L970.50,167.06 L970.70,167.35 L970.95,167.69 L971.20,168.01 L971.45,168.31 L971.50,168.37 L971.70,168.59 L971.95,168.84 L972.20,169.06 L972.45,169.25 L972.50,169.29 L972.70,169.41 L972.95,169.54 L973.20,169.63 L973.45,169.68 L973.50,169.69 L973.70,169.70 L973.95,169.68 L974.20,169.63 L974.45,169.54 L974.50,169.51 L974.70,169.41 L974.95,169.25 L975.20,169.06 L975.45,168.83 L975.50,168.79 L975.70,168.58 L975.95,168.31 L976.20,168.01 L976.45,167.68 L976.50,167.62 L976.70,167.34 L976.95,166.99 L977.20,166.62 L977.45,166.23 L977.50,166.16 L977.70,165.84 L977.95,165.45 L978.20,165.04 L978.45,164.64 L978.50,164.56 L978.70,164.23 L978.95,163.83 L979.20,163.42 L979.45,163.02 L979.50,162.94 L980.50,161.40 L981.50,159.98 L982.50,158.70 L983.50,157.57 L983.75,157.31 L984.00,157.06 L984.25,156.81 L984.50,156.58 L984.75,156.35 L985.00,156.13 L985.25,155.92 L985.50,155.71 L985.75,155.51 L986.00,155.32 L986.25,155.13 L986.50,154.95 L986.75,154.78 L987.00,154.62 L987.25,154.45 L987.50,154.30 L987.75,154.15 L988.00,154.00 L988.25,153.86 L988.50,153.73 L988.75,153.60 L989.00,153.47 L989.25,153.35 L989.50,153.23 L989.75,153.12 L990.00,153.00 L990.25,152.90 L990.50,152.79 L990.75,152.69 L991.00,152.60 L991.25,152.50 L991.50,152.41 L991.75,152.32 L992.00,152.24 L992.25,152.16 L992.50,152.08 L992.75,152.00 L993.00,151.92 L993.25,151.85 L993.50,151.78 L993.75,151.71 L994.00,151.65 L994.25,151.58 L994.50,151.52 L994.75,151.46 L995.00,151.40 L995.25,151.34 L995.50,151.29 L996.50,151.08 L997.50,150.90 L998.50,150.73 L999.50,150.59 L1000.50,150.46 L1001.50,150.34 L1002.50,150.23 L1003.50,150.14 L1004.50,150.05 L1005.50,149.97 L1006.50,149.90 L1007.50,149.84 L1008.50,149.78 L1009.50,149.73 L1010.50,149.68 L1011.50,149.64 L1012.50,149.60 L1013.50,149.57 L1014.50,149.54 L1015.50,149.51 L1016.50,149.49 L1017.50,149.47 L1018.50,149.45 L1019.50,149.44 L1020.50,149.43 L1021.50,149.42 L1022.50,149.42 L1023.50,149.41 L1024.50,149.41 L1025.50,149.41 L1026.50,149.42 L1027.50,149.42 L1028.50,149.43 L1029.50,149.44 L1030.50,149.46 L1031.50,149.47 L1032.50,149.49 L1033.50,149.51 L1034.50,149.53 L1035.50,149.56 L1036.50,149.59 L1037.50,149.62 L1038.50,149.66 L1039.50,149.70 L1040.50,149.74 L1041.50,149.78 L1042.50,149.83 L1043.50,149.89 L1044.50,149.95 L1045.50,150.01 L1046.50,150.08 L1047.50,150.16 L1048.50,150.24 L1049.50,150.33 L1050.50,150.42 L1051.50,150.53 L1052.50,150.64 L1053.50,150.76 L1054.50,150.90 L1055.50,151.04 L1056.50,151.20 L1057.50,151.38 L1058.50,151.57 L1059.50,151.79 L1060.50,152.02 L1061.50,152.28 L1062.50,152.56 L1063.50,152.88 L1064.50,153.23 L1065.50,153.63 L1066.50,154.07 L1067.50,154.56 L1068.50,155.12 L1069.50,155.74 L1070.50,156.45 L1071.50,157.25 L1072.50,158.17 L1073.50,159.21 L1074.50,160.39 L1075.50,161.75 L1076.50,163.29 L1077.50,165.03 L1078.50,167.00 L1079.50,169.19 L1080.50,171.59 L1081.30,173.63 L1081.50,174.15 L1081.55,174.28 L1081.80,174.94 L1082.05,175.60 L1082.30,176.26 L1082.50,176.79 L1082.55,176.92 L1082.80,177.57 L1083.05,178.22 L1083.30,178.86 L1083.50,179.36 L1083.55,179.48 L1083.80,180.09 L1084.05,180.67 L1084.30,181.24 L1084.50,181.67 L1084.55,181.77 L1084.80,182.27 L1085.05,182.74 L1085.30,183.18 L1085.50,183.49 L1085.55,183.56 L1085.80,183.91 L1086.05,184.21 L1086.30,184.45 L1086.50,184.61 L1086.55,184.65 L1086.80,184.79 L1087.05,184.87 L1087.30,184.90 L1087.50,184.88 L1087.55,184.87 L1087.80,184.79 L1088.05,184.65 L1088.30,184.45 L1088.50,184.26 L1088.55,184.21 L1088.80,183.91 L1089.05,183.57 L1089.30,183.18 L1089.50,182.84 L1089.55,182.75 L1089.80,182.28 L1090.05,181.78 L1090.30,181.24 L1090.50,180.79 L1090.55,180.68 L1090.80,180.09 L1091.05,179.49 L1091.30,178.86 L1091.50,178.36 L1091.55,178.23 L1091.80,177.58 L1092.05,176.93 L1092.30,176.27 L1092.50,175.74 L1092.55,175.61 L1092.80,174.95 L1093.05,174.29 L1093.50,173.12 L1094.50,170.62 L1095.50,168.30 L1096.50,166.20 L1097.50,164.33 L1098.50,162.67 L1099.50,161.21 L1100.50,159.92 L1101.50,158.80 L1102.50,157.81 L1103.50,156.95 L1104.50,156.19 L1105.50,155.51 L1106.50,154.92 L1107.50,154.39 L1108.50,153.92 L1109.50,153.50 L1110.50,153.13 L1111.50,152.79 L1112.50,152.49 L1113.50,152.22 L1114.50,151.97 L1115.50,151.75 L1116.50,151.55 L1117.40,151.38 L1117.50,151.36 L1117.65,151.34 L1117.90,151.29 L1118.15,151.25 L1118.40,151.21 L1118.50,151.19 L1118.65,151.17 L1118.90,151.13 L1119.15,151.09 L1119.40,151.06 L1119.50,151.04 L1119.65,151.02 L1119.90,150.98 L1120.15,150.95 L1120.40,150.92 L1120.50,150.90 L1120.65,150.88 L1120.90,150.85 L1121.15,150.82 L1121.40,150.79 L1121.50,150.77 L1121.65,150.76 L1121.90,150.73 L1122.15,150.70 L1122.40,150.67 L1122.50,150.66 L1122.65,150.64 L1122.90,150.61 L1123.15,150.58 L1123.40,150.56 L1123.50,150.55 L1123.65,150.53 L1123.90,150.51 L1124.15,150.48 L1124.40,150.46 L1124.50,150.45 L1124.65,150.43 L1124.90,150.41 L1125.15,150.39 L1125.40,150.37 L1125.50,150.36 L1125.65,150.34 L1125.90,150.32 L1126.15,150.30 L1126.40,150.28 L1126.50,150.27 L1126.65,150.26 L1126.90,150.24 L1127.15,150.22 L1127.40,150.20 L1127.50,150.20 L1127.65,150.19 L1127.90,150.17 L1128.15,150.15 L1128.40,150.13 L1128.50,150.13 L1128.65,150.11 L1128.90,150.10 L1129.15,150.08 L1129.50,150.06 L1130.50,150.00 L1131.50,149.94 L1132.50,149.89 L1133.50,149.85 L1134.50,149.80 L1135.50,149.76 L1136.50,149.73 L1137.50,149.69 L1138.50,149.66 L1139.50,149.64 L1140.50,149.61 L1141.50,149.59 L1142.50,149.57 L1143.50,149.55 L1144.50,149.54 L1145.50,149.52 L1146.50,149.51 L1147.50,149.50 L1148.50,149.50 L1149.50,149.49 L1150.50,149.49 L1151.50,149.49 L1152.50,149.49 L1153.50,149.49 L1154.50,149.50 L1155.50,149.50 L1156.50,149.51 L1157.50,149.52 L1158.50,149.53 L1159.50,149.55 L1160.50,149.56 L1161.50,149.58 L1162.50,149.60 L1163.50,149.62 L1164.50,149.64 L1165.50,149.67 L1166.50,149.70 L1167.50,149.73 L1168.50,149.76 L1169.50,149.80 L1170.50,149.84 L1171.50,149.88 L1172.50,149.92 L1173.50,149.97 L1174.50,150.02 L1175.50,150.08 L1176.50,150.14 L1177.50,150.20 L1178.50,150.27 L1179.50,150.34 L1180.50,150.42 L1181.50,150.50 L1182.50,150.59 L1183.50,150.68 L1184.50,150.79 L1185.50,150.90 L1186.50,151.01 L1187.50,151.14 L1188.50,151.28 L1189.50,151.42 L1190.50,151.58 L1191.50,151.75 L1192.50,151.94 L1193.50,152.14 L1194.50,152.36 L1195.50,152.59 L1196.50,152.85 L1197.50,153.13 L1198.50,153.44 L1199.50,153.77 L1200.50,154.14 L1201.50,154.55 L1202.50,154.99 L1203.50,155.48 L1204.50,156.03 L1205.50,156.64 L1206.50,157.32 L1207.50,158.07 L1208.50,158.92 L1209.50,159.87 L1210.50,160.95 L1211.50,162.16 L1212.50,163.54 L1213.50,165.10 L1214.50,166.88 L1215.50,168.91 L1216.50,171.23 L1217.50,173.86 L1218.50,176.86 L1219.50,180.23 L1220.50,184.00 L1221.50,188.15 L1222.50,192.61 L1222.75,193.75 L1223.00,194.91 L1223.25,196.07 L1223.50,197.23 L1223.75,198.39 L1224.00,199.54 L1224.25,200.67 L1224.50,201.79 L1224.75,202.89 L1225.00,203.95 L1225.25,204.98 L1225.50,205.97 L1225.75,206.91 L1226.00,207.79 L1226.25,208.62 L1226.50,209.38 L1226.75,210.06 L1227.00,210.66 L1227.25,211.18 L1227.50,211.62 L1227.75,211.96 L1228.00,212.20 L1228.25,212.35 L1228.50,212.40 L1228.75,212.35 L1229.00,212.20 L1229.25,211.95 L1229.50,211.61 L1229.75,211.18 L1230.00,210.66 L1230.25,210.05 L1230.50,209.37 L1230.75,208.61 L1231.00,207.78 L1231.25,206.90 L1231.50,205.95 L1231.75,204.97 L1232.00,203.93 L1232.25,202.87 L1232.50,201.77 L1232.75,200.65 L1233.00,199.51 L1233.25,198.36 L1233.50,197.20 L1233.75,196.04 L1234.00,194.88 L1234.25,193.72 L1234.50,192.58 L1235.50,188.12 L1236.50,183.96 L1237.50,180.19 L1238.50,176.81 L1239.50,173.81 L1240.50,171.17 L1241.50,168.85 L1242.50,166.81 L1243.50,165.03 L1244.50,163.46 L1245.50,162.08 L1246.50,160.86 L1247.50,159.78 L1248.50,158.82 L1249.50,157.96 L1250.50,157.20 L1251.50,156.52 L1252.50,155.91 L1253.50,155.35 L1254.50,154.85 L1254.75,154.74 L1255.00,154.62 L1255.25,154.51 L1255.50,154.40 L1255.75,154.30 L1256.00,154.19 L1256.25,154.09 L1256.50,153.99 L1256.75,153.89 L1257.00,153.80 L1257.25,153.71 L1257.50,153.62 L1257.75,153.53 L1258.00,153.44 L1258.25,153.36 L1258.50,153.28 L1258.75,153.19 L1259.00,153.12 L1259.25,153.04 L1259.50,152.96 L1259.75,152.89 L1260.00,152.82 L1260.25,152.75 L1260.50,152.68 L1260.75,152.61 L1261.00,152.54 L1261.25,152.48 L1261.50,152.41 L1261.75,152.35 L1262.00,152.29 L1262.25,152.23 L1262.50,152.17 L1262.75,152.11 L1263.00,152.06 L1263.25,152.00 L1263.50,151.95 L1263.75,151.89 L1264.00,151.84 L1264.25,151.79 L1264.50,151.74 L1264.75,151.69 L1265.00,151.64 L1265.25,151.59 L1265.50,151.55 L1265.75,151.50 L1266.00,151.46 L1266.25,151.41 L1266.50,151.37 L1267.50,151.20 L1268.50,151.05 L1269.50,150.90 L1270.50,150.77 L1271.50,150.64 L1272.50,150.53 L1273.50,150.42 L1274.50,150.31 L1275.50,150.21 L1276.50,150.12 L1277.50,150.04 L1278.50,149.95 L1279.50,149.88 L1280.50,149.80 L1281.50,149.74 L1282.50,149.67 L1283.50,149.61 L1284.50,149.55 L1285.50,149.49 L1286.50,149.44 L1287.50,149.39 L1288.50,149.34 L1289.50,149.29 L1290.50,149.25 L1291.50,149.21 L1292.50,149.17 L1293.50,149.13 L1294.50,149.09 L1295.50,149.06 L1296.50,149.02 L1297.50,148.99 L1298.50,148.96 L1299.50,148.93 L1300.50,148.90 L1301.50,148.88 L1302.50,148.85 L1303.50,148.82 L1304.50,148.80 L1305.50,148.78 L1306.50,148.75 L1307.50,148.73 L1308.50,148.71 L1309.50,148.69 L1310.50,148.67 L1311.50,148.65 L1312.50,148.63 L1313.50,148.62 L1314.50,148.60 L1315.50,148.58 L1316.50,148.57 L1317.50,148.55 L1318.50,148.54 L1319.50,148.52 L1320.50,148.51 L1321.50,148.50 L1322.50,148.48 L1323.50,148.47 L1324.50,148.46 L1325.50,148.44 L1326.50,148.43 L1327.50,148.42 L1328.50,148.41 L1329.50,148.40 L1330.50,148.39 L1331.50,148.38 L1332.50,148.37 L1333.50,148.36 L1334.50,148.35 L1335.50,148.34 L1336.50,148.33 L1337.50,148.32 L1338.50,148.32 L1339.50,148.31 L1340.50,148.30 L1341.50,148.29 L1342.50,148.28 L1343.50,148.28 L1344.50,148.27 L1345.50,148.26 L1346.50,148.26 L1347.50,148.25 L1348.50,148.24 L1349.50,148.24 L1350.50,148.23 L1351.50,148.22 L1352.50,148.22 L1353.50,148.21 L1354.50,148.21 L1355.50,148.20 L1356.50,148.20 L1357.50,148.19 L1358.50,148.19 L1359.50,148.18 L1360.50,148.17 L1361.50,148.17 L1362.50,148.17 L1363.50,148.16 L1364.50,148.16 L1365.50,148.15 L1366.50,148.15 L1367.50,148.14 L1368.50,148.14 L1369.50,148.13 L1370.50,148.13 L1371.50,148.13 L1372.50,148.12 L1373.50,148.12 L1374.50,148.12 L1375.50,148.11 L1376.50,148.11 L1377.50,148.10 L1378.50,148.10 L1379.50,148.10 L1380.50,148.09 L1381.50,148.09 L1382.50,148.09 L1383.50,148.08 L1384.50,148.08 L1385.50,148.08 L1386.50,148.08 L1387.50,148.07 L1388.50,148.07 L1389.50,148.07 L1390.50,148.06 L1391.50,148.06 L1392.50,148.06 L1393.50,148.06 L1394.50,148.05 L1395.50,148.05 L1396.50,148.05 L1397.50,148.05 L1398.50,148.04 L1399.50,148.04 L1400.50,148.04 L1401.50,148.04 L1402.50,148.03 L1403.50,148.03 L1404.50,148.03 L1405.50,148.03 L1406.50,148.02 L1407.50,148.02 L1408.50,148.02 L1409.50,148.02 L1410.50,148.02 L1411.50,148.01 L1412.50,148.01 L1413.50,148.01 L1414.50,148.01 L1415.50,148.01 L1416.50,148.01 L1417.50,148.00 L1418.50,148.00 L1419.50,148.00 L1420.50,148.00 L1421.50,148.00 L1422.50,147.99 L1423.50,147.99 L1424.50,147.99 L1425.50,147.99 L1426.50,147.99 L1427.50,147.99 L1428.50,147.98 L1429.50,147.98 L1430.50,147.98 L1431.50,147.98 L1432.50,147.98 L1433.50,147.98 L1434.50,147.98 L1435.50,147.97 L1436.50,147.97 L1437.50,147.97 L1438.50,147.97 L1439.50,147.97 L1440.50,147.97 L1441.50,147.97 L1442.50,147.97 L1443.50,147.96 L1444.50,147.96 L1445.50,147.96 L1446.50,147.96 L1447.50,147.96 L1448.50,147.96 L1449.50,147.96 L1450.50,147.96 L1451.50,147.95 L1452.50,147.95 L1453.50,147.95 L1454.50,147.95 L1455.50,147.95 L1456.50,147.95 L1457.50,147.95 L1458.50,147.95 L1459.50,147.95 L1460.50,147.94 L1461.50,147.94 L1462.50,147.94 L1463.50,147.94 L1464.50,147.94 L1465.50,147.94 L1466.50,147.94 L1467.50,147.94 L1468.50,147.94 L1469.50,147.94 L1470.50,147.93 L1471.50,147.93 L1472.50,147.93 L1473.50,147.93 L1474.50,147.93 L1475.50,147.93 L1476.50,147.93 L1477.50,147.93 L1478.50,147.93 L1479.50,147.93 L1480.50,147.93 L1481.50,147.93 L1482.50,147.92 L1483.50,147.92 L1484.50,147.92 L1485.50,147.92 L1486.50,147.92 L1487.50,147.92 L1488.50,147.92 L1489.50,147.92 L1490.50,147.92 L1491.50,147.92 L1492.50,147.92 L1493.50,147.92 L1494.50,147.92 L1495.50,147.91 L1496.50,147.91 L1497.50,147.91 L1498.50,147.91 L1499.50,147.91 L1500.50,147.91 L1501.50,147.91 L1502.50,147.91 L1503.50,147.91 L1504.50,147.91 L1505.50,147.91 L1506.50,147.91 L1507.50,147.91 L1508.50,147.91 L1509.50,147.91 L1510.50,147.90 L1511.50,147.90 L1512.50,147.90 L1513.50,147.90 L1514.50,147.90 L1515.50,147.90 L1516.50,147.90 L1517.50,147.90 L1518.50,147.90 L1519.50,147.90 L1520.50,147.90 L1521.50,147.90 L1522.50,147.90 L1523.50,147.90 L1524.50,147.90 L1525.50,147.90 L1526.50,147.90 L1527.50,147.90 L1528.50,147.89 L1529.50,147.89 L1530.50,147.89 L1531.50,147.89 L1532.50,147.89 L1533.50,147.89 L1534.50,147.89 L1535.50,147.89 L1536.50,147.89 L1537.50,147.89 L1538.50,147.89 L1539.50,147.89 L1540.50,147.89 L1541.50,147.89 L1542.50,147.89 L1543.50,147.89 L1544.50,147.89 L1545.50,147.89 L1546.50,147.89 L1547.50,147.89 L1548.50,147.89 L1549.50,147.88 L1550.50,147.88 L1551.50,147.88 L1552.50,147.88 L1553.50,147.88 L1554.50,147.88 L1555.50,147.88 L1556.50,147.88 L1557.50,147.88 L1558.50,147.88 L1559.50,147.88 L1560.50,147.88 L1561.50,147.88 L1562.50,147.88 L1563.50,147.88 L1564.50,147.88 L1565.50,147.88 L1566.50,147.88 L1567.50,147.88 L1568.50,147.88 L1569.50,147.88 L1570.50,147.88 L1571.50,147.88 L1572.50,147.88 L1573.50,147.88 L1574.50,147.87 L1575.50,147.87 L1576.50,147.87 L1577.50,147.87 L1578.50,147.87 L1579.50,147.87 L1580.50,147.87 L1581.50,147.87 L1582.50,147.87 L1583.50,147.87 L1584.50,147.87 L1585.50,147.87 L1586.50,147.87 L1587.50,147.87 L1588.50,147.87 L1589.50,147.87 L1590.50,147.87 L1591.50,147.87 L1592.50,147.87 L1593.50,147.87 L1594.50,147.87 L1595.50,147.87 L1596.50,147.87 L1597.50,147.87 L1598.50,147.87 L1599.50,147.87 L1600.50,147.87 L1601.50,147.87 L1602.50,147.87 L1603.50,147.87 L1604.50,147.87 L1605.50,147.87 L1606.50,147.86 L1607.50,147.86 L1608.50,147.86 L1609.50,147.86 L1610.50,147.86 L1611.50,147.86 L1612.50,147.86 L1613.50,147.86 L1614.50,147.86 L1615.50,147.86 L1616.50,147.86 L1617.50,147.86 L1618.50,147.86 L1619.50,147.86 L1620.50,147.86 L1621.50,147.86 L1622.50,147.86 L1623.50,147.86 L1624.50,147.86 L1625.50,147.86 L1626.50,147.86 L1627.50,147.86 L1628.50,147.86 L1629.50,147.86 L1630.50,147.86 L1631.50,147.86 L1632.50,147.86 L1633.50,147.86 L1634.50,147.86 L1635.50,147.86 L1636.50,147.86 L1637.50,147.86 L1638.50,147.86 L1639.50,147.86 L1640.50,147.86 L1641.50,147.86 L1642.50,147.86 L1643.50,147.86 L1644.50,147.86 L1645.50,147.86 L1646.50,147.86 L1647.50,147.85 L1648.50,147.85 L1649.50,147.85 L1650.50,147.85 L1651.50,147.85 L1652.50,147.85 L1653.50,147.85 L1654.50,147.85 L1655.00,147.85" stroke="#3a8888" stroke-width="3.4" fill="none" stroke-linejoin="round"/><path d="M229.50,146.51 L230.50,146.51 L231.50,146.51 L232.50,146.51 L233.50,146.51 L234.50,146.51 L235.50,146.51 L236.50,146.51 L237.50,146.51 L238.50,146.51 L239.50,146.51 L240.50,146.51 L241.50,146.51 L242.50,146.51 L243.50,146.51 L244.50,146.51 L245.50,146.51 L246.50,146.51 L247.50,146.51 L248.50,146.51 L249.50,146.51 L250.50,146.51 L251.50,146.51 L252.50,146.51 L253.50,146.51 L254.50,146.51 L255.50,146.51 L256.50,146.51 L257.50,146.51 L258.50,146.51 L259.50,146.51 L260.50,146.51 L261.50,146.51 L262.50,146.51 L263.50,146.51 L264.50,146.51 L265.50,146.51 L266.50,146.51 L267.50,146.51 L268.50,146.51 L269.50,146.51 L270.50,146.51 L271.50,146.51 L272.50,146.51 L273.50,146.51 L274.50,146.51 L275.50,146.51 L276.50,146.51 L277.50,146.51 L278.50,146.51 L279.50,146.51 L280.50,146.51 L281.50,146.51 L282.50,146.51 L283.50,146.51 L284.50,146.51 L285.50,146.51 L286.50,146.51 L287.50,146.51 L288.50,146.51 L289.50,146.51 L290.50,146.51 L291.50,146.51 L292.50,146.51 L293.50,146.51 L294.50,146.51 L295.50,146.51 L296.50,146.51 L297.50,146.51 L298.50,146.51 L299.50,146.51 L300.50,146.51 L301.50,146.51 L302.50,146.51 L303.50,146.51 L304.50,146.51 L305.50,146.52 L306.50,146.52 L307.50,146.52 L308.50,146.52 L309.50,146.52 L310.50,146.52 L311.50,146.52 L312.50,146.52 L313.50,146.52 L314.50,146.52 L315.50,146.52 L316.50,146.52 L317.50,146.52 L318.50,146.52 L319.50,146.52 L320.50,146.52 L321.50,146.52 L322.50,146.52 L323.50,146.52 L324.50,146.52 L325.50,146.52 L326.50,146.52 L327.50,146.52 L328.50,146.52 L329.50,146.52 L330.50,146.52 L331.50,146.52 L332.50,146.52 L333.50,146.52 L334.50,146.52 L335.50,146.52 L336.50,146.52 L337.50,146.52 L338.50,146.52 L339.50,146.52 L340.50,146.52 L341.50,146.52 L342.50,146.52 L343.50,146.52 L344.50,146.52 L345.50,146.52 L346.50,146.52 L347.50,146.52 L348.50,146.52 L349.50,146.52 L350.50,146.52 L351.50,146.52 L352.50,146.52 L353.50,146.52 L354.50,146.52 L355.50,146.52 L356.50,146.52 L357.50,146.52 L358.50,146.52 L359.50,146.52 L360.50,146.52 L361.50,146.52 L362.50,146.52 L363.50,146.52 L364.50,146.52 L365.50,146.52 L366.50,146.52 L367.50,146.52 L368.50,146.52 L369.50,146.52 L370.50,146.52 L371.50,146.52 L372.50,146.52 L373.50,146.52 L374.50,146.52 L375.50,146.52 L376.50,146.52 L377.50,146.52 L378.50,146.52 L379.50,146.52 L380.50,146.52 L381.50,146.52 L382.50,146.52 L383.50,146.52 L384.50,146.52 L385.50,146.52 L386.50,146.52 L387.50,146.52 L388.50,146.52 L389.50,146.52 L390.50,146.52 L391.50,146.52 L392.50,146.52 L393.50,146.52 L394.50,146.52 L395.50,146.52 L396.50,146.52 L397.50,146.52 L398.50,146.52 L399.50,146.52 L400.50,146.52 L401.50,146.52 L402.50,146.52 L403.50,146.52 L404.50,146.52 L405.50,146.52 L406.50,146.52 L407.50,146.52 L408.50,146.52 L409.50,146.52 L410.50,146.52 L411.50,146.52 L412.50,146.52 L413.50,146.52 L414.50,146.52 L415.50,146.52 L416.50,146.52 L417.50,146.52 L418.50,146.52 L419.50,146.52 L420.50,146.52 L421.50,146.52 L422.50,146.52 L423.50,146.52 L424.50,146.52 L425.50,146.52 L426.50,146.52 L427.50,146.52 L428.50,146.52 L429.50,146.52 L430.50,146.52 L431.50,146.52 L432.50,146.52 L433.50,146.52 L434.50,146.52 L435.50,146.52 L436.50,146.52 L437.50,146.52 L438.50,146.52 L439.50,146.52 L440.50,146.52 L441.50,146.52 L442.50,146.52 L443.50,146.52 L444.50,146.52 L445.50,146.52 L446.50,146.52 L447.50,146.52 L448.50,146.52 L449.50,146.53 L450.50,146.53 L451.50,146.53 L452.50,146.53 L453.50,146.53 L454.50,146.53 L455.50,146.53 L456.50,146.53 L457.50,146.53 L458.50,146.53 L459.50,146.53 L460.50,146.53 L461.50,146.53 L462.50,146.53 L463.50,146.53 L464.50,146.53 L465.50,146.53 L466.50,146.53 L467.50,146.53 L468.50,146.53 L469.50,146.53 L470.50,146.53 L471.50,146.53 L472.50,146.53 L473.50,146.53 L474.50,146.53 L475.50,146.53 L476.50,146.53 L477.50,146.53 L478.50,146.53 L479.50,146.53 L480.50,146.53 L481.50,146.53 L482.50,146.53 L483.50,146.53 L484.50,146.53 L485.50,146.53 L486.50,146.53 L487.50,146.53 L488.50,146.53 L489.50,146.53 L490.50,146.53 L491.50,146.53 L492.50,146.53 L493.50,146.53 L494.50,146.53 L495.50,146.53 L496.50,146.53 L497.50,146.53 L498.50,146.53 L499.50,146.53 L500.50,146.53 L501.50,146.53 L502.50,146.53 L503.50,146.53 L504.50,146.53 L505.50,146.53 L506.50,146.53 L507.50,146.53 L508.50,146.53 L509.50,146.53 L510.50,146.53 L511.50,146.53 L512.50,146.53 L513.50,146.53 L514.50,146.53 L515.50,146.53 L516.50,146.53 L517.50,146.53 L518.50,146.53 L519.50,146.53 L520.50,146.53 L521.50,146.53 L522.50,146.53 L523.50,146.53 L524.50,146.53 L525.50,146.54 L526.50,146.54 L527.50,146.54 L528.50,146.54 L529.50,146.54 L530.50,146.54 L531.50,146.54 L532.50,146.54 L533.50,146.54 L534.50,146.54 L535.50,146.54 L536.50,146.54 L537.50,146.54 L538.50,146.54 L539.50,146.54 L540.50,146.54 L541.50,146.54 L542.50,146.54 L543.50,146.54 L544.50,146.54 L545.50,146.54 L546.50,146.54 L547.50,146.54 L548.50,146.54 L549.50,146.54 L550.50,146.54 L551.50,146.54 L552.50,146.54 L553.50,146.54 L554.50,146.54 L555.50,146.54 L556.50,146.54 L557.50,146.54 L558.50,146.54 L559.50,146.54 L560.50,146.54 L561.50,146.54 L562.50,146.54 L563.50,146.54 L564.50,146.54 L565.50,146.54 L566.50,146.54 L567.50,146.54 L568.50,146.54 L569.50,146.54 L570.50,146.54 L571.50,146.54 L572.50,146.54 L573.50,146.54 L574.50,146.54 L575.50,146.55 L576.50,146.55 L577.50,146.55 L578.50,146.55 L579.50,146.55 L580.50,146.55 L581.50,146.55 L582.50,146.55 L583.50,146.55 L584.50,146.55 L585.50,146.55 L586.50,146.55 L587.50,146.55 L588.50,146.55 L589.50,146.55 L590.50,146.55 L591.50,146.55 L592.50,146.55 L593.50,146.55 L594.50,146.55 L595.50,146.55 L596.50,146.55 L597.50,146.55 L598.50,146.55 L599.50,146.55 L600.50,146.55 L601.50,146.55 L602.50,146.55 L603.50,146.55 L604.50,146.55 L605.50,146.55 L606.50,146.55 L607.50,146.55 L608.50,146.55 L609.00,146.55 L609.25,146.55 L609.50,146.55 L609.75,146.56 L610.00,146.56 L610.25,146.56 L610.50,146.56 L610.75,146.56 L611.00,146.56 L611.25,146.56 L611.50,146.56 L611.75,146.56 L612.00,146.56 L612.25,146.56 L612.50,146.56 L612.75,146.56 L613.00,146.56 L613.25,146.56 L613.50,146.56 L613.75,146.56 L614.00,146.56 L614.25,146.56 L614.50,146.56 L614.75,146.56 L615.00,146.56 L615.25,146.56 L615.50,146.56 L615.75,146.56 L616.00,146.56 L616.25,146.56 L616.50,146.56 L616.75,146.56 L617.00,146.56 L617.25,146.56 L617.50,146.56 L617.75,146.56 L618.00,146.56 L618.25,146.56 L618.50,146.56 L618.75,146.56 L619.00,146.56 L619.25,146.56 L619.50,146.56 L619.75,146.56 L620.00,146.56 L620.25,146.56 L620.50,146.56 L620.75,146.56 L621.50,146.56 L622.50,146.56 L623.50,146.56 L624.50,146.56 L625.50,146.56 L626.50,146.56 L627.50,146.56 L628.50,146.56 L629.50,146.56 L630.50,146.56 L631.50,146.56 L632.50,146.56 L633.50,146.56 L634.50,146.56 L635.50,146.56 L636.50,146.57 L637.50,146.57 L638.50,146.57 L639.50,146.57 L640.50,146.57 L641.50,146.57 L642.50,146.57 L643.50,146.57 L644.50,146.57 L645.50,146.57 L646.50,146.57 L647.50,146.57 L648.50,146.57 L649.50,146.57 L650.50,146.57 L651.50,146.57 L652.50,146.57 L653.50,146.57 L654.50,146.57 L655.50,146.57 L656.50,146.57 L657.50,146.57 L658.50,146.58 L659.50,146.58 L660.50,146.58 L661.50,146.58 L662.50,146.58 L663.50,146.58 L664.50,146.58 L665.50,146.58 L666.50,146.58 L667.50,146.58 L668.50,146.58 L669.50,146.58 L669.70,146.58 L669.95,146.58 L670.20,146.58 L670.45,146.58 L670.50,146.58 L670.70,146.58 L670.95,146.58 L671.20,146.58 L671.45,146.58 L671.50,146.58 L671.70,146.58 L671.95,146.58 L672.20,146.58 L672.45,146.58 L672.50,146.58 L672.70,146.58 L672.95,146.58 L673.20,146.58 L673.45,146.58 L673.50,146.58 L673.70,146.58 L673.95,146.58 L674.20,146.58 L674.45,146.58 L674.50,146.58 L674.70,146.58 L674.95,146.59 L675.20,146.59 L675.45,146.59 L675.50,146.59 L675.70,146.59 L675.95,146.59 L676.20,146.59 L676.45,146.59 L676.50,146.59 L676.70,146.59 L676.95,146.59 L677.20,146.59 L677.45,146.59 L677.50,146.59 L677.70,146.59 L677.95,146.59 L678.20,146.59 L678.45,146.59 L678.50,146.59 L678.70,146.59 L678.95,146.59 L679.20,146.59 L679.45,146.59 L679.50,146.59 L679.70,146.59 L679.95,146.59 L680.20,146.59 L680.45,146.59 L680.50,146.59 L680.70,146.59 L680.95,146.59 L681.20,146.59 L681.45,146.59 L681.50,146.59 L682.50,146.59 L683.50,146.59 L684.50,146.59 L685.50,146.59 L686.50,146.59 L687.50,146.59 L688.50,146.59 L689.50,146.60 L690.50,146.60 L691.50,146.60 L692.50,146.60 L693.50,146.60 L694.50,146.60 L695.50,146.60 L696.50,146.60 L697.50,146.60 L698.50,146.60 L699.50,146.60 L700.50,146.60 L701.50,146.60 L702.50,146.61 L703.50,146.61 L704.50,146.61 L705.50,146.61 L706.50,146.61 L707.50,146.61 L708.50,146.61 L709.50,146.61 L710.50,146.61 L711.50,146.61 L712.50,146.62 L713.50,146.62 L714.50,146.62 L715.50,146.62 L716.50,146.62 L717.50,146.62 L718.50,146.62 L719.50,146.62 L720.50,146.62 L721.50,146.62 L722.50,146.63 L723.50,146.63 L724.50,146.63 L725.50,146.63 L726.50,146.63 L727.50,146.63 L728.50,146.63 L729.50,146.63 L730.50,146.64 L731.50,146.64 L732.50,146.64 L733.50,146.64 L734.50,146.64 L735.50,146.64 L736.50,146.64 L737.50,146.64 L738.50,146.65 L739.50,146.65 L740.50,146.65 L741.50,146.65 L742.50,146.65 L742.75,146.65 L743.00,146.65 L743.25,146.65 L743.50,146.65 L743.75,146.65 L744.00,146.65 L744.25,146.65 L744.50,146.66 L744.75,146.66 L745.00,146.66 L745.25,146.66 L745.50,146.66 L745.75,146.66 L746.00,146.66 L746.25,146.66 L746.50,146.66 L746.75,146.66 L747.00,146.66 L747.25,146.66 L747.50,146.66 L747.75,146.66 L748.00,146.66 L748.25,146.66 L748.50,146.66 L748.75,146.66 L749.00,146.66 L749.25,146.66 L749.50,146.66 L749.75,146.66 L750.00,146.66 L750.25,146.66 L750.50,146.67 L750.75,146.67 L751.00,146.67 L751.25,146.67 L751.50,146.67 L751.75,146.67 L752.00,146.67 L752.25,146.67 L752.50,146.67 L752.75,146.67 L753.00,146.67 L753.25,146.67 L753.50,146.67 L753.75,146.67 L754.00,146.67 L754.25,146.67 L754.50,146.67 L755.50,146.67 L756.50,146.68 L757.30,146.68 L757.50,146.68 L757.55,146.68 L757.80,146.68 L758.05,146.68 L758.30,146.68 L758.50,146.68 L758.55,146.68 L758.80,146.68 L759.05,146.68 L759.30,146.68 L759.50,146.68 L759.55,146.68 L759.80,146.68 L760.05,146.68 L760.30,146.68 L760.50,146.68 L760.55,146.68 L760.80,146.68 L761.05,146.68 L761.30,146.69 L761.50,146.69 L761.55,146.69 L761.80,146.69 L762.05,146.69 L762.30,146.69 L762.50,146.69 L762.55,146.69 L762.80,146.69 L763.05,146.69 L763.30,146.69 L763.50,146.69 L763.55,146.69 L763.80,146.69 L764.05,146.69 L764.30,146.69 L764.50,146.69 L764.55,146.69 L764.80,146.69 L765.05,146.69 L765.30,146.69 L765.50,146.69 L765.55,146.69 L765.80,146.70 L766.05,146.70 L766.30,146.70 L766.50,146.70 L766.55,146.70 L766.80,146.70 L767.05,146.70 L767.30,146.70 L767.50,146.70 L767.55,146.70 L767.80,146.70 L768.05,146.70 L768.30,146.70 L768.50,146.70 L768.55,146.70 L768.80,146.70 L769.05,146.70 L769.50,146.70 L770.50,146.71 L771.50,146.71 L772.50,146.71 L773.50,146.71 L774.50,146.72 L775.50,146.72 L776.50,146.72 L777.50,146.72 L778.50,146.73 L779.50,146.73 L780.50,146.73 L781.50,146.73 L782.50,146.74 L783.50,146.74 L784.50,146.74 L785.50,146.75 L786.50,146.75 L787.50,146.75 L788.50,146.76 L789.50,146.76 L790.50,146.76 L791.50,146.77 L792.50,146.77 L793.50,146.77 L794.50,146.78 L795.50,146.78 L796.50,146.79 L797.50,146.79 L798.50,146.79 L799.50,146.80 L800.50,146.80 L801.50,146.81 L802.50,146.81 L803.50,146.82 L804.50,146.82 L805.50,146.82 L806.50,146.83 L807.50,146.83 L808.50,146.84 L809.50,146.84 L810.50,146.85 L811.50,146.85 L812.50,146.86 L813.50,146.87 L814.50,146.87 L815.50,146.88 L816.50,146.88 L817.50,146.89 L818.50,146.90 L819.50,146.90 L820.50,146.91 L821.50,146.92 L822.50,146.92 L823.50,146.93 L824.50,146.94 L825.50,146.94 L826.50,146.95 L827.50,146.96 L828.50,146.97 L829.50,146.98 L830.50,146.99 L831.50,146.99 L832.50,147.00 L833.50,147.01 L834.50,147.02 L835.50,147.03 L836.50,147.04 L837.50,147.05 L838.50,147.06 L839.50,147.07 L840.50,147.08 L841.50,147.10 L842.50,147.11 L843.50,147.12 L844.50,147.13 L845.50,147.15 L846.50,147.16 L847.50,147.17 L848.50,147.19 L849.50,147.20 L850.50,147.22 L851.50,147.23 L852.50,147.25 L853.50,147.27 L854.50,147.29 L855.50,147.30 L856.50,147.32 L857.50,147.34 L858.50,147.36 L859.50,147.38 L860.50,147.40 L861.50,147.43 L862.50,147.45 L863.50,147.47 L864.50,147.50 L865.50,147.53 L866.50,147.55 L867.50,147.58 L868.50,147.61 L869.50,147.64 L870.50,147.67 L871.50,147.71 L872.50,147.74 L873.50,147.78 L874.50,147.81 L875.50,147.85 L876.50,147.90 L877.50,147.94 L878.50,147.98 L879.20,148.02 L879.37,148.03 L879.45,148.03 L879.50,148.03 L879.62,148.04 L879.70,148.04 L879.87,148.05 L879.95,148.05 L880.12,148.06 L880.20,148.07 L880.37,148.07 L880.45,148.08 L880.50,148.08 L880.62,148.09 L880.70,148.09 L880.87,148.10 L880.95,148.10 L881.12,148.11 L881.20,148.12 L881.37,148.13 L881.45,148.13 L881.50,148.13 L881.62,148.14 L881.70,148.14 L881.87,148.15 L881.95,148.16 L882.12,148.17 L882.20,148.17 L882.37,148.18 L882.45,148.19 L882.50,148.19 L882.62,148.19 L882.70,148.20 L882.87,148.21 L882.95,148.21 L883.12,148.22 L883.20,148.23 L883.37,148.24 L883.45,148.24 L883.50,148.25 L883.62,148.25 L883.70,148.26 L883.87,148.27 L883.95,148.27 L884.12,148.28 L884.20,148.29 L884.37,148.30 L884.45,148.30 L884.50,148.31 L884.62,148.31 L884.70,148.32 L884.87,148.33 L884.95,148.33 L885.12,148.35 L885.20,148.35 L885.37,148.36 L885.45,148.37 L885.50,148.37 L885.62,148.38 L885.70,148.38 L885.87,148.39 L885.95,148.40 L886.12,148.41 L886.20,148.42 L886.37,148.43 L886.45,148.43 L886.50,148.44 L886.62,148.45 L886.70,148.45 L886.87,148.46 L886.95,148.47 L887.12,148.48 L887.20,148.49 L887.37,148.50 L887.45,148.50 L887.50,148.51 L887.62,148.52 L887.70,148.52 L887.87,148.53 L887.95,148.54 L888.12,148.55 L888.20,148.56 L888.37,148.57 L888.45,148.58 L888.50,148.58 L888.62,148.59 L888.70,148.60 L888.87,148.61 L888.95,148.62 L889.12,148.63 L889.20,148.64 L889.37,148.65 L889.45,148.66 L889.50,148.66 L889.62,148.67 L889.70,148.68 L889.87,148.69 L889.95,148.70 L890.12,148.71 L890.20,148.72 L890.37,148.73 L890.45,148.74 L890.50,148.74 L890.62,148.76 L890.70,148.76 L890.87,148.78 L890.95,148.78 L891.12,148.80 L891.50,148.83 L892.50,148.93 L893.50,149.03 L894.50,149.13 L895.50,149.24 L896.50,149.36 L897.50,149.49 L898.50,149.63 L899.50,149.77 L900.50,149.93 L901.50,150.10 L902.50,150.28 L903.50,150.47 L904.50,150.68 L905.50,150.91 L906.50,151.15 L907.50,151.42 L908.50,151.70 L909.50,152.02 L910.50,152.36 L911.50,152.73 L912.50,153.14 L913.50,153.59 L914.50,154.09 L915.50,154.64 L916.50,155.25 L917.50,155.92 L918.50,156.68 L919.50,157.52 L920.50,158.46 L921.50,159.53 L922.50,160.73 L923.50,162.08 L924.50,163.62 L925.50,165.37 L926.50,167.36 L927.50,169.61 L928.50,172.18 L929.50,175.07 L930.50,178.32 L931.50,181.92 L932.50,185.85 L932.70,186.66 L932.95,187.70 L933.20,188.74 L933.45,189.80 L933.50,190.01 L933.70,190.86 L933.95,191.93 L934.20,192.99 L934.45,194.06 L934.50,194.27 L934.70,195.12 L934.95,196.17 L935.20,197.20 L935.45,198.22 L935.50,198.42 L935.70,199.21 L935.95,200.18 L936.20,201.11 L936.45,202.01 L936.50,202.19 L936.70,202.87 L936.95,203.69 L937.20,204.45 L937.45,205.17 L937.50,205.31 L937.70,205.83 L937.95,206.44 L938.20,206.99 L938.45,207.48 L938.50,207.57 L938.70,207.92 L938.95,208.29 L939.20,208.61 L939.45,208.87 L939.50,208.92 L939.70,209.08 L939.95,209.24 L940.20,209.36 L940.45,209.44 L940.50,209.45 L940.70,209.48 L940.95,209.49 L941.20,209.48 L941.45,209.44 L941.50,209.44 L941.70,209.40 L941.95,209.35 L942.20,209.30 L942.45,209.25 L942.50,209.24 L942.70,209.21 L942.95,209.19 L943.20,209.19 L943.45,209.21 L943.50,209.22 L943.70,209.26 L943.95,209.35 L944.05,209.39 L944.20,209.47 L944.30,209.53 L944.45,209.63 L944.50,209.66 L944.55,209.70 L944.80,209.91 L945.05,210.15 L945.30,210.44 L945.50,210.69 L945.55,210.76 L945.80,211.11 L946.05,211.49 L946.30,211.88 L946.50,212.22 L946.55,212.30 L946.80,212.72 L947.05,213.14 L947.30,213.55 L947.50,213.86 L947.55,213.94 L947.80,214.29 L948.05,214.60 L948.30,214.84 L948.50,214.99 L948.55,215.02 L948.80,215.11 L949.05,215.11 L949.30,215.01 L949.50,214.85 L949.55,214.80 L949.80,214.47 L950.05,214.01 L950.30,213.44 L950.50,212.89 L950.55,212.74 L950.80,211.93 L951.05,211.00 L951.30,209.96 L951.50,209.07 L951.55,208.83 L951.80,207.61 L952.05,206.32 L952.30,204.96 L952.50,203.83 L952.55,203.54 L952.80,202.09 L953.05,200.60 L953.30,199.10 L953.50,197.89 L953.55,197.59 L953.80,196.08 L954.05,194.57 L954.30,193.09 L954.50,191.91 L954.55,191.62 L954.80,190.18 L955.05,188.77 L955.30,187.39 L955.50,186.32 L955.55,186.06 L955.80,184.76 L956.50,181.33 L957.50,177.01 L958.50,173.31 L959.50,170.17 L960.50,167.50 L961.50,165.23 L962.50,163.30 L963.50,161.64 L964.50,160.21 L965.50,158.97 L966.50,157.89 L967.50,156.95 L967.70,156.77 L967.95,156.56 L968.20,156.35 L968.45,156.15 L968.50,156.12 L968.70,155.96 L968.95,155.77 L969.20,155.59 L969.45,155.41 L969.50,155.38 L969.70,155.24 L969.95,155.07 L970.20,154.91 L970.45,154.75 L970.50,154.72 L970.70,154.60 L970.95,154.45 L971.20,154.31 L971.45,154.17 L971.50,154.14 L971.70,154.03 L971.95,153.90 L972.20,153.77 L972.45,153.64 L972.50,153.62 L972.70,153.52 L972.95,153.40 L973.20,153.28 L973.45,153.17 L973.50,153.14 L973.70,153.06 L973.95,152.95 L974.20,152.84 L974.45,152.74 L974.50,152.72 L974.70,152.64 L974.95,152.54 L975.20,152.44 L975.45,152.35 L975.50,152.33 L975.70,152.26 L975.95,152.17 L976.20,152.08 L976.45,152.00 L976.50,151.98 L976.70,151.92 L976.95,151.83 L977.20,151.76 L977.45,151.68 L977.50,151.66 L977.70,151.60 L977.95,151.53 L978.20,151.45 L978.45,151.38 L978.50,151.37 L978.70,151.31 L978.95,151.25 L979.20,151.18 L979.45,151.11 L979.50,151.10 L980.50,150.86 L981.50,150.63 L982.50,150.42 L983.50,150.23 L983.75,150.18 L984.00,150.13 L984.25,150.09 L984.50,150.05 L984.75,150.00 L985.00,149.96 L985.25,149.92 L985.50,149.88 L985.75,149.84 L986.00,149.80 L986.25,149.76 L986.50,149.72 L986.75,149.69 L987.00,149.65 L987.25,149.61 L987.50,149.58 L987.75,149.54 L988.00,149.51 L988.25,149.48 L988.50,149.44 L988.75,149.41 L989.00,149.38 L989.25,149.35 L989.50,149.32 L989.75,149.29 L990.00,149.26 L990.25,149.23 L990.50,149.20 L990.75,149.17 L991.00,149.14 L991.25,149.12 L991.50,149.09 L991.75,149.06 L992.00,149.04 L992.25,149.01 L992.50,148.98 L992.75,148.96 L993.00,148.93 L993.25,148.91 L993.50,148.89 L993.75,148.86 L994.00,148.84 L994.25,148.82 L994.50,148.79 L994.75,148.77 L995.00,148.75 L995.25,148.73 L995.50,148.71 L996.50,148.62 L997.50,148.55 L998.50,148.47 L999.50,148.40 L1000.50,148.34 L1001.50,148.27 L1002.50,148.22 L1003.50,148.16 L1004.50,148.11 L1005.50,148.05 L1006.50,148.01 L1007.50,147.96 L1008.50,147.91 L1009.50,147.87 L1010.50,147.83 L1011.50,147.79 L1012.50,147.76 L1013.50,147.72 L1014.50,147.69 L1015.50,147.65 L1016.50,147.62 L1017.50,147.59 L1018.50,147.56 L1019.50,147.54 L1020.50,147.51 L1021.50,147.48 L1022.50,147.46 L1023.50,147.44 L1024.50,147.41 L1025.50,147.39 L1026.50,147.37 L1027.50,147.35 L1028.50,147.33 L1029.50,147.31 L1030.50,147.29 L1031.50,147.27 L1032.50,147.26 L1033.50,147.24 L1034.50,147.22 L1035.50,147.21 L1036.50,147.19 L1037.50,147.18 L1038.50,147.17 L1039.50,147.15 L1040.50,147.14 L1041.50,147.13 L1042.50,147.11 L1043.50,147.10 L1044.50,147.09 L1045.50,147.08 L1046.50,147.07 L1047.50,147.06 L1048.50,147.05 L1049.50,147.04 L1050.50,147.03 L1051.50,147.02 L1052.50,147.01 L1053.50,147.00 L1054.50,146.99 L1055.50,146.98 L1056.50,146.97 L1057.50,146.96 L1058.50,146.95 L1059.50,146.95 L1060.50,146.94 L1061.50,146.93 L1062.50,146.93 L1063.50,146.92 L1064.50,146.91 L1065.50,146.90 L1066.50,146.90 L1067.50,146.89 L1068.50,146.89 L1069.50,146.88 L1070.50,146.87 L1071.50,146.87 L1072.50,146.86 L1073.50,146.86 L1074.50,146.85 L1075.50,146.85 L1076.50,146.84 L1077.50,146.84 L1078.50,146.83 L1079.50,146.83 L1080.50,146.82 L1081.30,146.82 L1081.50,146.82 L1081.55,146.82 L1081.80,146.82 L1082.05,146.81 L1082.30,146.81 L1082.50,146.81 L1082.55,146.81 L1082.80,146.81 L1083.05,146.81 L1083.30,146.81 L1083.50,146.81 L1083.55,146.81 L1083.80,146.81 L1084.05,146.81 L1084.30,146.80 L1084.50,146.80 L1084.55,146.80 L1084.80,146.80 L1085.05,146.80 L1085.30,146.80 L1085.50,146.80 L1085.55,146.80 L1085.80,146.80 L1086.05,146.80 L1086.30,146.80 L1086.50,146.79 L1086.55,146.79 L1086.80,146.79 L1087.05,146.79 L1087.30,146.79 L1087.50,146.79 L1087.55,146.79 L1087.80,146.79 L1088.05,146.79 L1088.30,146.79 L1088.50,146.79 L1088.55,146.79 L1088.80,146.79 L1089.05,146.78 L1089.30,146.78 L1089.50,146.78 L1089.55,146.78 L1089.80,146.78 L1090.05,146.78 L1090.30,146.78 L1090.50,146.78 L1090.55,146.78 L1090.80,146.78 L1091.05,146.78 L1091.30,146.78 L1091.50,146.78 L1091.55,146.78 L1091.80,146.77 L1092.05,146.77 L1092.30,146.77 L1092.50,146.77 L1092.55,146.77 L1092.80,146.77 L1093.05,146.77 L1093.50,146.77 L1094.50,146.76 L1095.50,146.76 L1096.50,146.76 L1097.50,146.75 L1098.50,146.75 L1099.50,146.75 L1100.50,146.74 L1101.50,146.74 L1102.50,146.74 L1103.50,146.74 L1104.50,146.73 L1105.50,146.73 L1106.50,146.73 L1107.50,146.72 L1108.50,146.72 L1109.50,146.72 L1110.50,146.72 L1111.50,146.71 L1112.50,146.71 L1113.50,146.71 L1114.50,146.71 L1115.50,146.70 L1116.50,146.70 L1117.40,146.70 L1117.50,146.70 L1117.65,146.70 L1117.90,146.70 L1118.15,146.70 L1118.40,146.70 L1118.50,146.70 L1118.65,146.70 L1118.90,146.70 L1119.15,146.70 L1119.40,146.70 L1119.50,146.70 L1119.65,146.69 L1119.90,146.69 L1120.15,146.69 L1120.40,146.69 L1120.50,146.69 L1120.65,146.69 L1120.90,146.69 L1121.15,146.69 L1121.40,146.69 L1121.50,146.69 L1121.65,146.69 L1121.90,146.69 L1122.15,146.69 L1122.40,146.69 L1122.50,146.69 L1122.65,146.69 L1122.90,146.69 L1123.15,146.69 L1123.40,146.69 L1123.50,146.69 L1123.65,146.69 L1123.90,146.69 L1124.15,146.69 L1124.40,146.68 L1124.50,146.68 L1124.65,146.68 L1124.90,146.68 L1125.15,146.68 L1125.40,146.68 L1125.50,146.68 L1125.65,146.68 L1125.90,146.68 L1126.15,146.68 L1126.40,146.68 L1126.50,146.68 L1126.65,146.68 L1126.90,146.68 L1127.15,146.68 L1127.40,146.68 L1127.50,146.68 L1127.65,146.68 L1127.90,146.68 L1128.15,146.68 L1128.40,146.68 L1128.50,146.68 L1128.65,146.68 L1128.90,146.68 L1129.15,146.68 L1129.50,146.67 L1130.50,146.67 L1131.50,146.67 L1132.50,146.67 L1133.50,146.67 L1134.50,146.67 L1135.50,146.66 L1136.50,146.66 L1137.50,146.66 L1138.50,146.66 L1139.50,146.66 L1140.50,146.66 L1141.50,146.65 L1142.50,146.65 L1143.50,146.65 L1144.50,146.65 L1145.50,146.65 L1146.50,146.65 L1147.50,146.65 L1148.50,146.64 L1149.50,146.64 L1150.50,146.64 L1151.50,146.64 L1152.50,146.64 L1153.50,146.64 L1154.50,146.64 L1155.50,146.63 L1156.50,146.63 L1157.50,146.63 L1158.50,146.63 L1159.50,146.63 L1160.50,146.63 L1161.50,146.63 L1162.50,146.63 L1163.50,146.63 L1164.50,146.62 L1165.50,146.62 L1166.50,146.62 L1167.50,146.62 L1168.50,146.62 L1169.50,146.62 L1170.50,146.62 L1171.50,146.62 L1172.50,146.62 L1173.50,146.61 L1174.50,146.61 L1175.50,146.61 L1176.50,146.61 L1177.50,146.61 L1178.50,146.61 L1179.50,146.61 L1180.50,146.61 L1181.50,146.61 L1182.50,146.61 L1183.50,146.61 L1184.50,146.60 L1185.50,146.60 L1186.50,146.60 L1187.50,146.60 L1188.50,146.60 L1189.50,146.60 L1190.50,146.60 L1191.50,146.60 L1192.50,146.60 L1193.50,146.60 L1194.50,146.60 L1195.50,146.60 L1196.50,146.59 L1197.50,146.59 L1198.50,146.59 L1199.50,146.59 L1200.50,146.59 L1201.50,146.59 L1202.50,146.59 L1203.50,146.59 L1204.50,146.59 L1205.50,146.59 L1206.50,146.59 L1207.50,146.59 L1208.50,146.59 L1209.50,146.59 L1210.50,146.58 L1211.50,146.58 L1212.50,146.58 L1213.50,146.58 L1214.50,146.58 L1215.50,146.58 L1216.50,146.58 L1217.50,146.58 L1218.50,146.58 L1219.50,146.58 L1220.50,146.58 L1221.50,146.58 L1222.50,146.58 L1222.75,146.58 L1223.00,146.58 L1223.25,146.58 L1223.50,146.58 L1223.75,146.58 L1224.00,146.58 L1224.25,146.58 L1224.50,146.58 L1224.75,146.58 L1225.00,146.58 L1225.25,146.58 L1225.50,146.58 L1225.75,146.58 L1226.00,146.58 L1226.25,146.58 L1226.50,146.58 L1226.75,146.58 L1227.00,146.58 L1227.25,146.58 L1227.50,146.58 L1227.75,146.58 L1228.00,146.57 L1228.25,146.57 L1228.50,146.57 L1228.75,146.57 L1229.00,146.57 L1229.25,146.57 L1229.50,146.57 L1229.75,146.57 L1230.00,146.57 L1230.25,146.57 L1230.50,146.57 L1230.75,146.57 L1231.00,146.57 L1231.25,146.57 L1231.50,146.57 L1231.75,146.57 L1232.00,146.57 L1232.25,146.57 L1232.50,146.57 L1232.75,146.57 L1233.00,146.57 L1233.25,146.57 L1233.50,146.57 L1233.75,146.57 L1234.00,146.57 L1234.25,146.57 L1234.50,146.57 L1235.50,146.57 L1236.50,146.57 L1237.50,146.57 L1238.50,146.57 L1239.50,146.57 L1240.50,146.57 L1241.50,146.57 L1242.50,146.57 L1243.50,146.57 L1244.50,146.57 L1245.50,146.57 L1246.50,146.57 L1247.50,146.57 L1248.50,146.57 L1249.50,146.56 L1250.50,146.56 L1251.50,146.56 L1252.50,146.56 L1253.50,146.56 L1254.50,146.56 L1254.75,146.56 L1255.00,146.56 L1255.25,146.56 L1255.50,146.56 L1255.75,146.56 L1256.00,146.56 L1256.25,146.56 L1256.50,146.56 L1256.75,146.56 L1257.00,146.56 L1257.25,146.56 L1257.50,146.56 L1257.75,146.56 L1258.00,146.56 L1258.25,146.56 L1258.50,146.56 L1258.75,146.56 L1259.00,146.56 L1259.25,146.56 L1259.50,146.56 L1259.75,146.56 L1260.00,146.56 L1260.25,146.56 L1260.50,146.56 L1260.75,146.56 L1261.00,146.56 L1261.25,146.56 L1261.50,146.56 L1261.75,146.56 L1262.00,146.56 L1262.25,146.56 L1262.50,146.56 L1262.75,146.56 L1263.00,146.56 L1263.25,146.56 L1263.50,146.56 L1263.75,146.56 L1264.00,146.56 L1264.25,146.56 L1264.50,146.56 L1264.75,146.56 L1265.00,146.56 L1265.25,146.56 L1265.50,146.56 L1265.75,146.56 L1266.00,146.56 L1266.25,146.56 L1266.50,146.56 L1267.50,146.56 L1268.50,146.56 L1269.50,146.56 L1270.50,146.56 L1271.50,146.56 L1272.50,146.56 L1273.50,146.56 L1274.50,146.56 L1275.50,146.56 L1276.50,146.55 L1277.50,146.55 L1278.50,146.55 L1279.50,146.55 L1280.50,146.55 L1281.50,146.55 L1282.50,146.55 L1283.50,146.55 L1284.50,146.55 L1285.50,146.55 L1286.50,146.55 L1287.50,146.55 L1288.50,146.55 L1289.50,146.55 L1290.50,146.55 L1291.50,146.55 L1292.50,146.55 L1293.50,146.55 L1294.50,146.55 L1295.50,146.55 L1296.50,146.55 L1297.50,146.55 L1298.50,146.55 L1299.50,146.55 L1300.50,146.55 L1301.50,146.55 L1302.50,146.55 L1303.50,146.55 L1304.50,146.55 L1305.50,146.55 L1306.50,146.55 L1307.50,146.55 L1308.50,146.55 L1309.50,146.55 L1310.50,146.55 L1311.50,146.54 L1312.50,146.54 L1313.50,146.54 L1314.50,146.54 L1315.50,146.54 L1316.50,146.54 L1317.50,146.54 L1318.50,146.54 L1319.50,146.54 L1320.50,146.54 L1321.50,146.54 L1322.50,146.54 L1323.50,146.54 L1324.50,146.54 L1325.50,146.54 L1326.50,146.54 L1327.50,146.54 L1328.50,146.54 L1329.50,146.54 L1330.50,146.54 L1331.50,146.54 L1332.50,146.54 L1333.50,146.54 L1334.50,146.54 L1335.50,146.54 L1336.50,146.54 L1337.50,146.54 L1338.50,146.54 L1339.50,146.54 L1340.50,146.54 L1341.50,146.54 L1342.50,146.54 L1343.50,146.54 L1344.50,146.54 L1345.50,146.54 L1346.50,146.54 L1347.50,146.54 L1348.50,146.54 L1349.50,146.54 L1350.50,146.54 L1351.50,146.54 L1352.50,146.54 L1353.50,146.54 L1354.50,146.54 L1355.50,146.54 L1356.50,146.54 L1357.50,146.54 L1358.50,146.54 L1359.50,146.54 L1360.50,146.53 L1361.50,146.53 L1362.50,146.53 L1363.50,146.53 L1364.50,146.53 L1365.50,146.53 L1366.50,146.53 L1367.50,146.53 L1368.50,146.53 L1369.50,146.53 L1370.50,146.53 L1371.50,146.53 L1372.50,146.53 L1373.50,146.53 L1374.50,146.53 L1375.50,146.53 L1376.50,146.53 L1377.50,146.53 L1378.50,146.53 L1379.50,146.53 L1380.50,146.53 L1381.50,146.53 L1382.50,146.53 L1383.50,146.53 L1384.50,146.53 L1385.50,146.53 L1386.50,146.53 L1387.50,146.53 L1388.50,146.53 L1389.50,146.53 L1390.50,146.53 L1391.50,146.53 L1392.50,146.53 L1393.50,146.53 L1394.50,146.53 L1395.50,146.53 L1396.50,146.53 L1397.50,146.53 L1398.50,146.53 L1399.50,146.53 L1400.50,146.53 L1401.50,146.53 L1402.50,146.53 L1403.50,146.53 L1404.50,146.53 L1405.50,146.53 L1406.50,146.53 L1407.50,146.53 L1408.50,146.53 L1409.50,146.53 L1410.50,146.53 L1411.50,146.53 L1412.50,146.53 L1413.50,146.53 L1414.50,146.53 L1415.50,146.53 L1416.50,146.53 L1417.50,146.53 L1418.50,146.53 L1419.50,146.53 L1420.50,146.53 L1421.50,146.53 L1422.50,146.53 L1423.50,146.53 L1424.50,146.53 L1425.50,146.53 L1426.50,146.53 L1427.50,146.53 L1428.50,146.53 L1429.50,146.53 L1430.50,146.53 L1431.50,146.53 L1432.50,146.53 L1433.50,146.53 L1434.50,146.53 L1435.50,146.53 L1436.50,146.52 L1437.50,146.52 L1438.50,146.52 L1439.50,146.52 L1440.50,146.52 L1441.50,146.52 L1442.50,146.52 L1443.50,146.52 L1444.50,146.52 L1445.50,146.52 L1446.50,146.52 L1447.50,146.52 L1448.50,146.52 L1449.50,146.52 L1450.50,146.52 L1451.50,146.52 L1452.50,146.52 L1453.50,146.52 L1454.50,146.52 L1455.50,146.52 L1456.50,146.52 L1457.50,146.52 L1458.50,146.52 L1459.50,146.52 L1460.50,146.52 L1461.50,146.52 L1462.50,146.52 L1463.50,146.52 L1464.50,146.52 L1465.50,146.52 L1466.50,146.52 L1467.50,146.52 L1468.50,146.52 L1469.50,146.52 L1470.50,146.52 L1471.50,146.52 L1472.50,146.52 L1473.50,146.52 L1474.50,146.52 L1475.50,146.52 L1476.50,146.52 L1477.50,146.52 L1478.50,146.52 L1479.50,146.52 L1480.50,146.52 L1481.50,146.52 L1482.50,146.52 L1483.50,146.52 L1484.50,146.52 L1485.50,146.52 L1486.50,146.52 L1487.50,146.52 L1488.50,146.52 L1489.50,146.52 L1490.50,146.52 L1491.50,146.52 L1492.50,146.52 L1493.50,146.52 L1494.50,146.52 L1495.50,146.52 L1496.50,146.52 L1497.50,146.52 L1498.50,146.52 L1499.50,146.52 L1500.50,146.52 L1501.50,146.52 L1502.50,146.52 L1503.50,146.52 L1504.50,146.52 L1505.50,146.52 L1506.50,146.52 L1507.50,146.52 L1508.50,146.52 L1509.50,146.52 L1510.50,146.52 L1511.50,146.52 L1512.50,146.52 L1513.50,146.52 L1514.50,146.52 L1515.50,146.52 L1516.50,146.52 L1517.50,146.52 L1518.50,146.52 L1519.50,146.52 L1520.50,146.52 L1521.50,146.52 L1522.50,146.52 L1523.50,146.52 L1524.50,146.52 L1525.50,146.52 L1526.50,146.52 L1527.50,146.52 L1528.50,146.52 L1529.50,146.52 L1530.50,146.52 L1531.50,146.52 L1532.50,146.52 L1533.50,146.52 L1534.50,146.52 L1535.50,146.52 L1536.50,146.52 L1537.50,146.52 L1538.50,146.52 L1539.50,146.52 L1540.50,146.52 L1541.50,146.52 L1542.50,146.52 L1543.50,146.52 L1544.50,146.52 L1545.50,146.52 L1546.50,146.52 L1547.50,146.52 L1548.50,146.52 L1549.50,146.52 L1550.50,146.52 L1551.50,146.52 L1552.50,146.52 L1553.50,146.52 L1554.50,146.52 L1555.50,146.52 L1556.50,146.52 L1557.50,146.52 L1558.50,146.52 L1559.50,146.52 L1560.50,146.52 L1561.50,146.52 L1562.50,146.52 L1563.50,146.52 L1564.50,146.52 L1565.50,146.52 L1566.50,146.52 L1567.50,146.52 L1568.50,146.52 L1569.50,146.52 L1570.50,146.52 L1571.50,146.52 L1572.50,146.52 L1573.50,146.52 L1574.50,146.52 L1575.50,146.52 L1576.50,146.52 L1577.50,146.52 L1578.50,146.52 L1579.50,146.52 L1580.50,146.51 L1581.50,146.51 L1582.50,146.51 L1583.50,146.51 L1584.50,146.51 L1585.50,146.51 L1586.50,146.51 L1587.50,146.51 L1588.50,146.51 L1589.50,146.51 L1590.50,146.51 L1591.50,146.51 L1592.50,146.51 L1593.50,146.51 L1594.50,146.51 L1595.50,146.51 L1596.50,146.51 L1597.50,146.51 L1598.50,146.51 L1599.50,146.51 L1600.50,146.51 L1601.50,146.51 L1602.50,146.51 L1603.50,146.51 L1604.50,146.51 L1605.50,146.51 L1606.50,146.51 L1607.50,146.51 L1608.50,146.51 L1609.50,146.51 L1610.50,146.51 L1611.50,146.51 L1612.50,146.51 L1613.50,146.51 L1614.50,146.51 L1615.50,146.51 L1616.50,146.51 L1617.50,146.51 L1618.50,146.51 L1619.50,146.51 L1620.50,146.51 L1621.50,146.51 L1622.50,146.51 L1623.50,146.51 L1624.50,146.51 L1625.50,146.51 L1626.50,146.51 L1627.50,146.51 L1628.50,146.51 L1629.50,146.51 L1630.50,146.51 L1631.50,146.51 L1632.50,146.51 L1633.50,146.51 L1634.50,146.51 L1635.50,146.51 L1636.50,146.51 L1637.50,146.51 L1638.50,146.51 L1639.50,146.51 L1640.50,146.51 L1641.50,146.51 L1642.50,146.51 L1643.50,146.51 L1644.50,146.51 L1645.50,146.51 L1646.50,146.51 L1647.50,146.51 L1648.50,146.51 L1649.50,146.51 L1650.50,146.51 L1651.50,146.51 L1652.50,146.51 L1653.50,146.51 L1654.50,146.51 L1655.00,146.51" stroke="#ee55ee" stroke-width="4" fill="none" stroke-linejoin="round"/><rect x="228" y="48.5" width="1428" height="1449.5" fill="none" stroke="#1e1e1e" stroke-width="4"/><text x="938" y="1283" text-anchor="middle" style="font-family:&quot;Liberation Serif&quot;,&quot;Times New Roman&quot;,serif;font-weight:bold;font-size:77px;fill:#000">Imilac PMG</text><text x="938" y="1369" text-anchor="middle" style="font-family:&quot;Liberation Serif&quot;,&quot;Times New Roman&quot;,serif;font-weight:bold;font-size:77px;fill:#000">metallic part</text></svg>
</body></html>
